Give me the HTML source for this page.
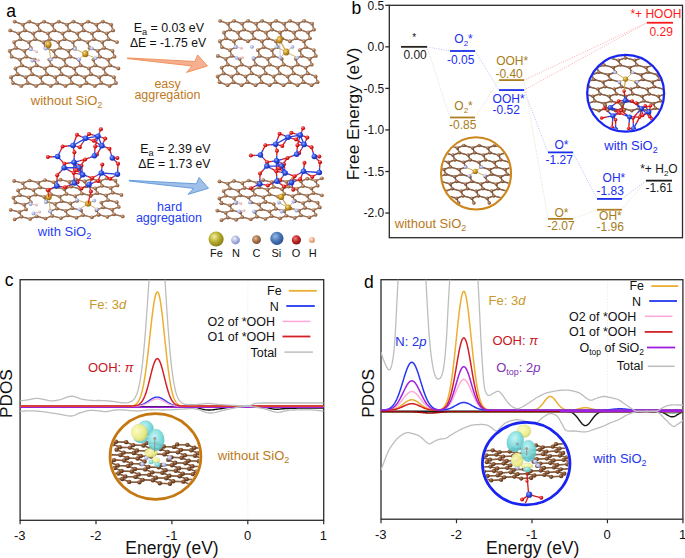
<!DOCTYPE html>
<html><head><meta charset="utf-8"><title>figure</title>
<style>
html,body{margin:0;padding:0;background:#fff;}
body{width:685px;height:558px;overflow:hidden;}
svg{display:block;font-family:"Liberation Sans", sans-serif;}
</style></head><body>
<svg width="685" height="558" viewBox="0 0 685 558">
<defs>
<radialGradient id="gC" cx="0.38" cy="0.35" r="0.7"><stop offset="0" stop-color="#e0bc9e"/><stop offset="0.5" stop-color="#a8744e"/><stop offset="1" stop-color="#70462a"/></radialGradient>
<radialGradient id="gN" cx="0.38" cy="0.35" r="0.7"><stop offset="0" stop-color="#eef0ff"/><stop offset="0.55" stop-color="#aab4e0"/><stop offset="1" stop-color="#7a86c0"/></radialGradient>
<radialGradient id="gFe" cx="0.38" cy="0.35" r="0.7"><stop offset="0" stop-color="#f6e090"/><stop offset="0.5" stop-color="#c8961e"/><stop offset="1" stop-color="#8a6010"/></radialGradient>
<radialGradient id="gFeL" cx="0.38" cy="0.35" r="0.7"><stop offset="0" stop-color="#f0f0a0"/><stop offset="0.5" stop-color="#b8ae30"/><stop offset="1" stop-color="#807810"/></radialGradient>
<radialGradient id="gSi" cx="0.38" cy="0.35" r="0.7"><stop offset="0" stop-color="#8aa8ff"/><stop offset="0.5" stop-color="#2a48e0"/><stop offset="1" stop-color="#1828a0"/></radialGradient>
<radialGradient id="gSiL" cx="0.38" cy="0.35" r="0.7"><stop offset="0" stop-color="#9ab8e8"/><stop offset="0.5" stop-color="#4a78b8"/><stop offset="1" stop-color="#2a4a88"/></radialGradient>
<radialGradient id="gO" cx="0.38" cy="0.35" r="0.7"><stop offset="0" stop-color="#ff9090"/><stop offset="0.5" stop-color="#e01818"/><stop offset="1" stop-color="#a00808"/></radialGradient>
<radialGradient id="gOL" cx="0.38" cy="0.35" r="0.7"><stop offset="0" stop-color="#f08080"/><stop offset="0.5" stop-color="#c02828"/><stop offset="1" stop-color="#801010"/></radialGradient>
<radialGradient id="gH" cx="0.38" cy="0.35" r="0.7"><stop offset="0" stop-color="#fff0e0"/><stop offset="0.5" stop-color="#f0b088"/><stop offset="1" stop-color="#d08860"/></radialGradient>
<radialGradient id="gHp" cx="0.38" cy="0.35" r="0.7"><stop offset="0" stop-color="#fff0f0"/><stop offset="0.5" stop-color="#e8b8c0"/><stop offset="1" stop-color="#c89098"/></radialGradient>
<linearGradient id="arO" x1="0" y1="0" x2="1" y2="0"><stop offset="0" stop-color="#f39a70"/><stop offset="1" stop-color="#f2a47c"/></linearGradient>
<linearGradient id="arB" x1="0" y1="0" x2="1" y2="0"><stop offset="0" stop-color="#5a9ae0"/><stop offset="1" stop-color="#86b6e6"/></linearGradient>
</defs>
<rect width="685" height="558" fill="#fff"/>

<text x="6.2" y="16.6" font-size="17.5" fill="#000" text-anchor="start">a</text>
<path d="M98.37 30.38L106.7 33.3M45.42 47.92L53.74 50.85M44.88 68.4L46.83 74.25M53.74 50.85L60.12 47.92M81.72 24.53L83.67 30.38M52.32 24.53L54.27 30.38M110.06 65.47L118.38 68.4M93.41 59.62L99.79 56.7M67.02 24.53L73.4 21.6M28.77 42.08L30.72 47.92M36.56 65.47L44.88 68.4M19.91 59.62L21.86 65.47M58.7 21.6L67.02 24.53M29.3 21.6L37.62 24.53M92 33.3L93.94 39.15M62.6 33.3L64.54 39.15M74.28 68.4L76.23 74.25M13 83.02L21.33 85.95M11.06 77.17L17.43 74.25M54.27 30.38L62.6 33.3M86.5 83.02L94.83 85.95M108.11 59.62L114.49 56.7M97.84 50.85L104.22 47.92M80.13 85.95L86.5 83.02M69.86 77.17L71.8 83.02M78.71 59.62L80.66 65.47M68.44 50.85L74.82 47.92M55.69 56.7L64.01 59.62M52.32 24.53L58.7 21.6M20.44 39.15L28.77 42.08M9.64 50.85L16.02 47.92M30.18 68.4L32.13 74.25M99.79 56.7L108.11 59.62M112.54 50.85L114.49 56.7M51.26 65.47L59.58 68.4M111.12 24.53L113.07 30.38M58.17 42.08L64.54 39.15M96.42 24.53L102.8 21.6M69.86 77.17L76.23 74.25M70.39 56.7L78.71 59.62M21.86 65.47L30.18 68.4M99.26 77.17L101.2 83.02M102.27 42.08L108.64 39.15M68.97 30.38L77.3 33.3M9.64 50.85L11.59 56.7M109.53 85.95L115.9 83.02M36.03 85.95L42.4 83.02M84.56 77.17L90.93 74.25M81.72 24.53L88.1 21.6M34.61 59.62L36.56 65.47M90.93 74.25L99.26 77.17M19.91 59.62L26.29 56.7M37.62 24.53L39.57 30.38M26.29 56.7L34.61 59.62M106.7 33.3L113.07 30.38M58.17 42.08L60.12 47.92M101.2 83.02L109.53 85.95M77.3 33.3L83.67 30.38M14.6 21.6L22.92 24.53M55.16 77.17L57.1 83.02M24.87 30.38L33.2 33.3M40.46 77.17L46.83 74.25M15.48 68.4L17.43 74.25M87.57 42.08L89.52 47.92M96.42 24.53L98.37 30.38M59.58 68.4L61.53 74.25M88.98 68.4L95.36 65.47M39.57 30.38L47.9 33.3M108.11 59.62L110.06 65.47M18.5 33.3L20.44 39.15M87.57 42.08L93.94 39.15M60.12 47.92L68.44 50.85M46.83 74.25L55.16 77.17M44.88 68.4L51.26 65.47M24.34 50.85L30.72 47.92M43.47 42.08L45.42 47.92M71.8 83.02L80.13 85.95M83.67 30.38L92 33.3M11.59 56.7L19.91 59.62M104.22 47.92L112.54 50.85M14.07 42.08L16.02 47.92M67.02 24.53L68.97 30.38M72.87 42.08L79.24 39.15M10.17 30.38L18.5 33.3M59.58 68.4L65.96 65.47M47.9 33.3L49.84 39.15M103.68 68.4L110.06 65.47M55.16 77.17L61.53 74.25M64.01 59.62L65.96 65.47M74.28 68.4L80.66 65.47M25.76 77.17L27.7 83.02M108.64 39.15L116.97 42.08M79.24 39.15L87.57 42.08M88.98 68.4L90.93 74.25M99.26 77.17L105.63 74.25M35.14 39.15L43.47 42.08M94.83 85.95L101.2 83.02M42.4 83.02L50.73 85.95M25.76 77.17L32.13 74.25M93.41 59.62L95.36 65.47M28.77 42.08L35.14 39.15M97.84 50.85L99.79 56.7M47.9 33.3L54.27 30.38M43.47 42.08L49.84 39.15M68.44 50.85L70.39 56.7M30.18 68.4L36.56 65.47M24.34 50.85L26.29 56.7M17.43 74.25L25.76 77.17M102.8 21.6L111.12 24.53M57.1 83.02L65.43 85.95M22.92 24.53L29.3 21.6M44 21.6L52.32 24.53M72.87 42.08L74.82 47.92M37.62 24.53L44 21.6M33.2 33.3L39.57 30.38M89.52 47.92L97.84 50.85M64.01 59.62L70.39 56.7M102.27 42.08L104.22 47.92M50.73 85.95L57.1 83.02M15.48 68.4L21.86 65.47M49.31 59.62L51.26 65.47M84.56 77.17L86.5 83.02M65.43 85.95L71.8 83.02M61.53 74.25L69.86 77.17M105.63 74.25L113.96 77.17M93.94 39.15L102.27 42.08M76.23 74.25L84.56 77.17M27.7 83.02L36.03 85.95M64.54 39.15L72.87 42.08M16.02 47.92L24.34 50.85M11.06 77.17L13 83.02M73.4 21.6L81.72 24.53M106.7 33.3L108.64 39.15M92 33.3L98.37 30.38M21.33 85.95L27.7 83.02M113.96 77.17L115.9 83.02M22.92 24.53L24.87 30.38M77.3 33.3L79.24 39.15M62.6 33.3L68.97 30.38M14.07 42.08L20.44 39.15M53.74 50.85L55.69 56.7M40.46 77.17L42.4 83.02M65.96 65.47L74.28 68.4M88.1 21.6L96.42 24.53M49.84 39.15L58.17 42.08M80.66 65.47L88.98 68.4M103.68 68.4L105.63 74.25M32.13 74.25L40.46 77.17M33.2 33.3L35.14 39.15M18.5 33.3L24.87 30.38M49.31 59.62L55.69 56.7M95.36 65.47L103.68 68.4" stroke="#86604a" stroke-width="1.4" fill="none" stroke-linecap="round"/>
<path d="M98.37 30.38L106.7 33.3M45.42 47.92L53.74 50.85M44.88 68.4L46.83 74.25M53.74 50.85L60.12 47.92M81.72 24.53L83.67 30.38M52.32 24.53L54.27 30.38M110.06 65.47L118.38 68.4M93.41 59.62L99.79 56.7M67.02 24.53L73.4 21.6M28.77 42.08L30.72 47.92M36.56 65.47L44.88 68.4M19.91 59.62L21.86 65.47M58.7 21.6L67.02 24.53M29.3 21.6L37.62 24.53M92 33.3L93.94 39.15M62.6 33.3L64.54 39.15M74.28 68.4L76.23 74.25M13 83.02L21.33 85.95M11.06 77.17L17.43 74.25M54.27 30.38L62.6 33.3M86.5 83.02L94.83 85.95M108.11 59.62L114.49 56.7M97.84 50.85L104.22 47.92M80.13 85.95L86.5 83.02M69.86 77.17L71.8 83.02M78.71 59.62L80.66 65.47M68.44 50.85L74.82 47.92M55.69 56.7L64.01 59.62M52.32 24.53L58.7 21.6M20.44 39.15L28.77 42.08M9.64 50.85L16.02 47.92M30.18 68.4L32.13 74.25M99.79 56.7L108.11 59.62M112.54 50.85L114.49 56.7M51.26 65.47L59.58 68.4M111.12 24.53L113.07 30.38M58.17 42.08L64.54 39.15M96.42 24.53L102.8 21.6M69.86 77.17L76.23 74.25M70.39 56.7L78.71 59.62M21.86 65.47L30.18 68.4M99.26 77.17L101.2 83.02M102.27 42.08L108.64 39.15M68.97 30.38L77.3 33.3M9.64 50.85L11.59 56.7M109.53 85.95L115.9 83.02M36.03 85.95L42.4 83.02M84.56 77.17L90.93 74.25M81.72 24.53L88.1 21.6M34.61 59.62L36.56 65.47M90.93 74.25L99.26 77.17M19.91 59.62L26.29 56.7M37.62 24.53L39.57 30.38M26.29 56.7L34.61 59.62M106.7 33.3L113.07 30.38M58.17 42.08L60.12 47.92M101.2 83.02L109.53 85.95M77.3 33.3L83.67 30.38M14.6 21.6L22.92 24.53M55.16 77.17L57.1 83.02M24.87 30.38L33.2 33.3M40.46 77.17L46.83 74.25M15.48 68.4L17.43 74.25M87.57 42.08L89.52 47.92M96.42 24.53L98.37 30.38M59.58 68.4L61.53 74.25M88.98 68.4L95.36 65.47M39.57 30.38L47.9 33.3M108.11 59.62L110.06 65.47M18.5 33.3L20.44 39.15M87.57 42.08L93.94 39.15M60.12 47.92L68.44 50.85M46.83 74.25L55.16 77.17M44.88 68.4L51.26 65.47M24.34 50.85L30.72 47.92M43.47 42.08L45.42 47.92M71.8 83.02L80.13 85.95M83.67 30.38L92 33.3M11.59 56.7L19.91 59.62M104.22 47.92L112.54 50.85M14.07 42.08L16.02 47.92M67.02 24.53L68.97 30.38M72.87 42.08L79.24 39.15M10.17 30.38L18.5 33.3M59.58 68.4L65.96 65.47M47.9 33.3L49.84 39.15M103.68 68.4L110.06 65.47M55.16 77.17L61.53 74.25M64.01 59.62L65.96 65.47M74.28 68.4L80.66 65.47M25.76 77.17L27.7 83.02M108.64 39.15L116.97 42.08M79.24 39.15L87.57 42.08M88.98 68.4L90.93 74.25M99.26 77.17L105.63 74.25M35.14 39.15L43.47 42.08M94.83 85.95L101.2 83.02M42.4 83.02L50.73 85.95M25.76 77.17L32.13 74.25M93.41 59.62L95.36 65.47M28.77 42.08L35.14 39.15M97.84 50.85L99.79 56.7M47.9 33.3L54.27 30.38M43.47 42.08L49.84 39.15M68.44 50.85L70.39 56.7M30.18 68.4L36.56 65.47M24.34 50.85L26.29 56.7M17.43 74.25L25.76 77.17M102.8 21.6L111.12 24.53M57.1 83.02L65.43 85.95M22.92 24.53L29.3 21.6M44 21.6L52.32 24.53M72.87 42.08L74.82 47.92M37.62 24.53L44 21.6M33.2 33.3L39.57 30.38M89.52 47.92L97.84 50.85M64.01 59.62L70.39 56.7M102.27 42.08L104.22 47.92M50.73 85.95L57.1 83.02M15.48 68.4L21.86 65.47M49.31 59.62L51.26 65.47M84.56 77.17L86.5 83.02M65.43 85.95L71.8 83.02M61.53 74.25L69.86 77.17M105.63 74.25L113.96 77.17M93.94 39.15L102.27 42.08M76.23 74.25L84.56 77.17M27.7 83.02L36.03 85.95M64.54 39.15L72.87 42.08M16.02 47.92L24.34 50.85M11.06 77.17L13 83.02M73.4 21.6L81.72 24.53M106.7 33.3L108.64 39.15M92 33.3L98.37 30.38M21.33 85.95L27.7 83.02M113.96 77.17L115.9 83.02M22.92 24.53L24.87 30.38M77.3 33.3L79.24 39.15M62.6 33.3L68.97 30.38M14.07 42.08L20.44 39.15M53.74 50.85L55.69 56.7M40.46 77.17L42.4 83.02M65.96 65.47L74.28 68.4M88.1 21.6L96.42 24.53M49.84 39.15L58.17 42.08M80.66 65.47L88.98 68.4M103.68 68.4L105.63 74.25M32.13 74.25L40.46 77.17M33.2 33.3L35.14 39.15M18.5 33.3L24.87 30.38M49.31 59.62L55.69 56.7M95.36 65.47L103.68 68.4" stroke="#a88266" stroke-width="0.65" fill="none" stroke-linecap="round"/>
<g fill="url(#gC)"><circle cx="14.6" cy="21.6" r="1.9"/><circle cx="29.3" cy="21.6" r="1.9"/><circle cx="44" cy="21.6" r="1.9"/><circle cx="58.7" cy="21.6" r="1.9"/><circle cx="73.4" cy="21.6" r="1.9"/><circle cx="88.1" cy="21.6" r="1.9"/><circle cx="102.8" cy="21.6" r="1.9"/><circle cx="22.92" cy="24.53" r="1.9"/><circle cx="37.62" cy="24.53" r="1.9"/><circle cx="52.32" cy="24.53" r="1.9"/><circle cx="67.02" cy="24.53" r="1.9"/><circle cx="81.72" cy="24.53" r="1.9"/><circle cx="96.42" cy="24.53" r="1.9"/><circle cx="111.12" cy="24.53" r="1.9"/><circle cx="10.17" cy="30.38" r="1.9"/><circle cx="24.87" cy="30.38" r="1.9"/><circle cx="39.57" cy="30.38" r="1.9"/><circle cx="54.27" cy="30.38" r="1.9"/><circle cx="68.97" cy="30.38" r="1.9"/><circle cx="83.67" cy="30.38" r="1.9"/><circle cx="98.37" cy="30.38" r="1.9"/><circle cx="113.07" cy="30.38" r="1.9"/><circle cx="18.5" cy="33.3" r="1.9"/><circle cx="33.2" cy="33.3" r="1.9"/><circle cx="47.9" cy="33.3" r="1.9"/><circle cx="62.6" cy="33.3" r="1.9"/><circle cx="77.3" cy="33.3" r="1.9"/><circle cx="92" cy="33.3" r="1.9"/><circle cx="106.7" cy="33.3" r="1.9"/><circle cx="20.44" cy="39.15" r="1.9"/><circle cx="35.14" cy="39.15" r="1.9"/><circle cx="49.84" cy="39.15" r="1.9"/><circle cx="64.54" cy="39.15" r="1.9"/><circle cx="79.24" cy="39.15" r="1.9"/><circle cx="93.94" cy="39.15" r="1.9"/><circle cx="108.64" cy="39.15" r="1.9"/><circle cx="14.07" cy="42.08" r="1.9"/><circle cx="28.77" cy="42.08" r="1.9"/><circle cx="43.47" cy="42.08" r="1.9"/><circle cx="58.17" cy="42.08" r="1.9"/><circle cx="72.87" cy="42.08" r="1.9"/><circle cx="87.57" cy="42.08" r="1.9"/><circle cx="102.27" cy="42.08" r="1.9"/><circle cx="116.97" cy="42.08" r="1.9"/><circle cx="16.02" cy="47.92" r="1.9"/><circle cx="30.72" cy="47.92" r="1.9"/><circle cx="45.42" cy="47.92" r="1.9"/><circle cx="60.12" cy="47.92" r="1.9"/><circle cx="74.82" cy="47.92" r="1.9"/><circle cx="89.52" cy="47.92" r="1.9"/><circle cx="104.22" cy="47.92" r="1.9"/><circle cx="9.64" cy="50.85" r="1.9"/><circle cx="24.34" cy="50.85" r="1.9"/><circle cx="53.74" cy="50.85" r="1.9"/><circle cx="68.44" cy="50.85" r="1.9"/><circle cx="97.84" cy="50.85" r="1.9"/><circle cx="112.54" cy="50.85" r="1.9"/><circle cx="11.59" cy="56.7" r="1.9"/><circle cx="26.29" cy="56.7" r="1.9"/><circle cx="55.69" cy="56.7" r="1.9"/><circle cx="70.39" cy="56.7" r="1.9"/><circle cx="99.79" cy="56.7" r="1.9"/><circle cx="114.49" cy="56.7" r="1.9"/><circle cx="19.91" cy="59.62" r="1.9"/><circle cx="34.61" cy="59.62" r="1.9"/><circle cx="49.31" cy="59.62" r="1.9"/><circle cx="64.01" cy="59.62" r="1.9"/><circle cx="78.71" cy="59.62" r="1.9"/><circle cx="93.41" cy="59.62" r="1.9"/><circle cx="108.11" cy="59.62" r="1.9"/><circle cx="21.86" cy="65.47" r="1.9"/><circle cx="36.56" cy="65.47" r="1.9"/><circle cx="51.26" cy="65.47" r="1.9"/><circle cx="65.96" cy="65.47" r="1.9"/><circle cx="80.66" cy="65.47" r="1.9"/><circle cx="95.36" cy="65.47" r="1.9"/><circle cx="110.06" cy="65.47" r="1.9"/><circle cx="15.48" cy="68.4" r="1.9"/><circle cx="30.18" cy="68.4" r="1.9"/><circle cx="44.88" cy="68.4" r="1.9"/><circle cx="59.58" cy="68.4" r="1.9"/><circle cx="74.28" cy="68.4" r="1.9"/><circle cx="88.98" cy="68.4" r="1.9"/><circle cx="103.68" cy="68.4" r="1.9"/><circle cx="118.38" cy="68.4" r="1.9"/><circle cx="17.43" cy="74.25" r="1.9"/><circle cx="32.13" cy="74.25" r="1.9"/><circle cx="46.83" cy="74.25" r="1.9"/><circle cx="61.53" cy="74.25" r="1.9"/><circle cx="76.23" cy="74.25" r="1.9"/><circle cx="90.93" cy="74.25" r="1.9"/><circle cx="105.63" cy="74.25" r="1.9"/><circle cx="11.06" cy="77.17" r="1.9"/><circle cx="25.76" cy="77.17" r="1.9"/><circle cx="40.46" cy="77.17" r="1.9"/><circle cx="55.16" cy="77.17" r="1.9"/><circle cx="69.86" cy="77.17" r="1.9"/><circle cx="84.56" cy="77.17" r="1.9"/><circle cx="99.26" cy="77.17" r="1.9"/><circle cx="113.96" cy="77.17" r="1.9"/><circle cx="13" cy="83.02" r="1.9"/><circle cx="27.7" cy="83.02" r="1.9"/><circle cx="42.4" cy="83.02" r="1.9"/><circle cx="57.1" cy="83.02" r="1.9"/><circle cx="71.8" cy="83.02" r="1.9"/><circle cx="86.5" cy="83.02" r="1.9"/><circle cx="101.2" cy="83.02" r="1.9"/><circle cx="115.9" cy="83.02" r="1.9"/><circle cx="21.33" cy="85.95" r="1.9"/><circle cx="36.03" cy="85.95" r="1.9"/><circle cx="50.73" cy="85.95" r="1.9"/><circle cx="65.43" cy="85.95" r="1.9"/><circle cx="80.13" cy="85.95" r="1.9"/><circle cx="94.83" cy="85.95" r="1.9"/><circle cx="109.53" cy="85.95" r="1.9"/></g>
<path d="M266 32.5L272.02 29.57M295.94 38.35L303.92 41.27M225.94 38.35L233.92 41.27M239.94 38.35L247.92 41.27M231.61 76.38L237.63 73.45M290.1 20.8L298.07 23.72M252 32.5L258.02 29.57M301.61 76.38L303.55 82.22M261.92 41.27L267.94 38.35M284.07 23.72L286.02 29.57M275.92 41.27L277.87 47.12M305.68 67.6L307.63 73.45M275.55 82.22L283.53 85.15M233.92 41.27L235.87 47.12M253.76 58.82L255.71 64.67M311.53 85.15L317.55 82.22M257.84 50.05L259.79 55.9M304.1 20.8L312.07 23.72M265.63 73.45L273.61 76.38M237.63 73.45L245.61 76.38M313.84 50.05L315.79 55.9M220.1 20.8L228.07 23.72M224 32.5L230.02 29.57M309.76 58.82L315.79 55.9M280 32.5L281.94 38.35M241.53 85.15L247.55 82.22M228.07 23.72L230.02 29.57M283.71 64.67L291.68 67.6M298.07 23.72L304.1 20.8M286.02 29.57L294 32.5M235.68 67.6L237.63 73.45M221.87 47.12L229.84 50.05M255.53 85.15L261.55 82.22M294 32.5L295.94 38.35M300.02 29.57L308 32.5M291.68 67.6L293.63 73.45M238 32.5L244.02 29.57M267.94 38.35L275.92 41.27M284.07 23.72L290.1 20.8M291.68 67.6L297.71 64.67M219.92 41.27L221.87 47.12M262.1 20.8L270.07 23.72M301.79 55.9L309.76 58.82M241.71 64.67L249.68 67.6M217.79 55.9L225.76 58.82M280 32.5L286.02 29.57M255.71 64.67L263.68 67.6M253.94 38.35L261.92 41.27M283.53 85.15L289.55 82.22M272.02 29.57L280 32.5M301.61 76.38L307.63 73.45M225.76 58.82L227.71 64.67M263.87 47.12L271.84 50.05M308 32.5L314.02 29.57M299.84 50.05L305.87 47.12M219.92 41.27L225.94 38.35M219.55 82.22L227.53 85.15M253.76 58.82L259.79 55.9M315.61 76.38L317.55 82.22M271.84 50.05L273.79 55.9M229.84 50.05L235.87 47.12M267.76 58.82L269.71 64.67M242.07 23.72L244.02 29.57M234.1 20.8L242.07 23.72M225.76 58.82L231.79 55.9M270.07 23.72L276.1 20.8M269.53 85.15L275.55 82.22M249.68 67.6L251.63 73.45M289.55 82.22L297.53 85.15M224 32.5L225.94 38.35M303.55 82.22L311.53 85.15M289.92 41.27L295.94 38.35M273.79 55.9L281.76 58.82M269.71 64.67L277.68 67.6M303.92 41.27L305.87 47.12M293.63 73.45L301.61 76.38M230.02 29.57L238 32.5M276.1 20.8L284.07 23.72M281.76 58.82L283.71 64.67M217.61 76.38L223.63 73.45M287.61 76.38L293.63 73.45M312.07 23.72L314.02 29.57M252 32.5L253.94 38.35M231.79 55.9L239.76 58.82M267.76 58.82L273.79 55.9M242.07 23.72L248.1 20.8M256.07 23.72L258.02 29.57M303.92 41.27L309.94 38.35M305.68 67.6L311.71 64.67M238 32.5L239.94 38.35M263.68 67.6L265.63 73.45M221.68 67.6L227.71 64.67M308 32.5L309.94 38.35M245.61 76.38L251.63 73.45M239.76 58.82L241.71 64.67M271.84 50.05L277.87 47.12M257.84 50.05L263.87 47.12M248.1 20.8L256.07 23.72M227.71 64.67L235.68 67.6M295.76 58.82L301.79 55.9M273.61 76.38L275.55 82.22M259.61 76.38L261.55 82.22M229.84 50.05L231.79 55.9M277.68 67.6L283.71 64.67M295.76 58.82L297.71 64.67M258.02 29.57L266 32.5M294 32.5L300.02 29.57M281.94 38.35L289.92 41.27M275.92 41.27L281.94 38.35M287.61 76.38L289.55 82.22M247.92 41.27L253.94 38.35M309.76 58.82L311.71 64.67M270.07 23.72L272.02 29.57M261.55 82.22L269.53 85.15M228.07 23.72L234.1 20.8M217.61 76.38L219.55 82.22M227.53 85.15L233.55 82.22M261.92 41.27L263.87 47.12M233.92 41.27L239.94 38.35M256.07 23.72L262.1 20.8M299.84 50.05L301.79 55.9M305.87 47.12L313.84 50.05M244.02 29.57L252 32.5M266 32.5L267.94 38.35M273.61 76.38L279.63 73.45M223.63 73.45L231.61 76.38M259.61 76.38L265.63 73.45M297.53 85.15L303.55 82.22M307.63 73.45L315.61 76.38M251.63 73.45L259.61 76.38M277.68 67.6L279.63 73.45M235.68 67.6L241.71 64.67M259.79 55.9L267.76 58.82M279.63 73.45L287.61 76.38M263.68 67.6L269.71 64.67M245.61 76.38L247.55 82.22M221.68 67.6L223.63 73.45M298.07 23.72L300.02 29.57M231.61 76.38L233.55 82.22M247.55 82.22L255.53 85.15M249.68 67.6L255.71 64.67M233.55 82.22L241.53 85.15M297.71 64.67L305.68 67.6" stroke="#86604a" stroke-width="1.4" fill="none" stroke-linecap="round"/>
<path d="M266 32.5L272.02 29.57M295.94 38.35L303.92 41.27M225.94 38.35L233.92 41.27M239.94 38.35L247.92 41.27M231.61 76.38L237.63 73.45M290.1 20.8L298.07 23.72M252 32.5L258.02 29.57M301.61 76.38L303.55 82.22M261.92 41.27L267.94 38.35M284.07 23.72L286.02 29.57M275.92 41.27L277.87 47.12M305.68 67.6L307.63 73.45M275.55 82.22L283.53 85.15M233.92 41.27L235.87 47.12M253.76 58.82L255.71 64.67M311.53 85.15L317.55 82.22M257.84 50.05L259.79 55.9M304.1 20.8L312.07 23.72M265.63 73.45L273.61 76.38M237.63 73.45L245.61 76.38M313.84 50.05L315.79 55.9M220.1 20.8L228.07 23.72M224 32.5L230.02 29.57M309.76 58.82L315.79 55.9M280 32.5L281.94 38.35M241.53 85.15L247.55 82.22M228.07 23.72L230.02 29.57M283.71 64.67L291.68 67.6M298.07 23.72L304.1 20.8M286.02 29.57L294 32.5M235.68 67.6L237.63 73.45M221.87 47.12L229.84 50.05M255.53 85.15L261.55 82.22M294 32.5L295.94 38.35M300.02 29.57L308 32.5M291.68 67.6L293.63 73.45M238 32.5L244.02 29.57M267.94 38.35L275.92 41.27M284.07 23.72L290.1 20.8M291.68 67.6L297.71 64.67M219.92 41.27L221.87 47.12M262.1 20.8L270.07 23.72M301.79 55.9L309.76 58.82M241.71 64.67L249.68 67.6M217.79 55.9L225.76 58.82M280 32.5L286.02 29.57M255.71 64.67L263.68 67.6M253.94 38.35L261.92 41.27M283.53 85.15L289.55 82.22M272.02 29.57L280 32.5M301.61 76.38L307.63 73.45M225.76 58.82L227.71 64.67M263.87 47.12L271.84 50.05M308 32.5L314.02 29.57M299.84 50.05L305.87 47.12M219.92 41.27L225.94 38.35M219.55 82.22L227.53 85.15M253.76 58.82L259.79 55.9M315.61 76.38L317.55 82.22M271.84 50.05L273.79 55.9M229.84 50.05L235.87 47.12M267.76 58.82L269.71 64.67M242.07 23.72L244.02 29.57M234.1 20.8L242.07 23.72M225.76 58.82L231.79 55.9M270.07 23.72L276.1 20.8M269.53 85.15L275.55 82.22M249.68 67.6L251.63 73.45M289.55 82.22L297.53 85.15M224 32.5L225.94 38.35M303.55 82.22L311.53 85.15M289.92 41.27L295.94 38.35M273.79 55.9L281.76 58.82M269.71 64.67L277.68 67.6M303.92 41.27L305.87 47.12M293.63 73.45L301.61 76.38M230.02 29.57L238 32.5M276.1 20.8L284.07 23.72M281.76 58.82L283.71 64.67M217.61 76.38L223.63 73.45M287.61 76.38L293.63 73.45M312.07 23.72L314.02 29.57M252 32.5L253.94 38.35M231.79 55.9L239.76 58.82M267.76 58.82L273.79 55.9M242.07 23.72L248.1 20.8M256.07 23.72L258.02 29.57M303.92 41.27L309.94 38.35M305.68 67.6L311.71 64.67M238 32.5L239.94 38.35M263.68 67.6L265.63 73.45M221.68 67.6L227.71 64.67M308 32.5L309.94 38.35M245.61 76.38L251.63 73.45M239.76 58.82L241.71 64.67M271.84 50.05L277.87 47.12M257.84 50.05L263.87 47.12M248.1 20.8L256.07 23.72M227.71 64.67L235.68 67.6M295.76 58.82L301.79 55.9M273.61 76.38L275.55 82.22M259.61 76.38L261.55 82.22M229.84 50.05L231.79 55.9M277.68 67.6L283.71 64.67M295.76 58.82L297.71 64.67M258.02 29.57L266 32.5M294 32.5L300.02 29.57M281.94 38.35L289.92 41.27M275.92 41.27L281.94 38.35M287.61 76.38L289.55 82.22M247.92 41.27L253.94 38.35M309.76 58.82L311.71 64.67M270.07 23.72L272.02 29.57M261.55 82.22L269.53 85.15M228.07 23.72L234.1 20.8M217.61 76.38L219.55 82.22M227.53 85.15L233.55 82.22M261.92 41.27L263.87 47.12M233.92 41.27L239.94 38.35M256.07 23.72L262.1 20.8M299.84 50.05L301.79 55.9M305.87 47.12L313.84 50.05M244.02 29.57L252 32.5M266 32.5L267.94 38.35M273.61 76.38L279.63 73.45M223.63 73.45L231.61 76.38M259.61 76.38L265.63 73.45M297.53 85.15L303.55 82.22M307.63 73.45L315.61 76.38M251.63 73.45L259.61 76.38M277.68 67.6L279.63 73.45M235.68 67.6L241.71 64.67M259.79 55.9L267.76 58.82M279.63 73.45L287.61 76.38M263.68 67.6L269.71 64.67M245.61 76.38L247.55 82.22M221.68 67.6L223.63 73.45M298.07 23.72L300.02 29.57M231.61 76.38L233.55 82.22M247.55 82.22L255.53 85.15M249.68 67.6L255.71 64.67M233.55 82.22L241.53 85.15M297.71 64.67L305.68 67.6" stroke="#a88266" stroke-width="0.65" fill="none" stroke-linecap="round"/>
<g fill="url(#gC)"><circle cx="220.1" cy="20.8" r="1.9"/><circle cx="234.1" cy="20.8" r="1.9"/><circle cx="248.1" cy="20.8" r="1.9"/><circle cx="262.1" cy="20.8" r="1.9"/><circle cx="276.1" cy="20.8" r="1.9"/><circle cx="290.1" cy="20.8" r="1.9"/><circle cx="304.1" cy="20.8" r="1.9"/><circle cx="228.07" cy="23.72" r="1.9"/><circle cx="242.07" cy="23.72" r="1.9"/><circle cx="256.07" cy="23.72" r="1.9"/><circle cx="270.07" cy="23.72" r="1.9"/><circle cx="284.07" cy="23.72" r="1.9"/><circle cx="298.07" cy="23.72" r="1.9"/><circle cx="312.07" cy="23.72" r="1.9"/><circle cx="230.02" cy="29.57" r="1.9"/><circle cx="244.02" cy="29.57" r="1.9"/><circle cx="258.02" cy="29.57" r="1.9"/><circle cx="272.02" cy="29.57" r="1.9"/><circle cx="286.02" cy="29.57" r="1.9"/><circle cx="300.02" cy="29.57" r="1.9"/><circle cx="314.02" cy="29.57" r="1.9"/><circle cx="224" cy="32.5" r="1.9"/><circle cx="238" cy="32.5" r="1.9"/><circle cx="252" cy="32.5" r="1.9"/><circle cx="266" cy="32.5" r="1.9"/><circle cx="280" cy="32.5" r="1.9"/><circle cx="294" cy="32.5" r="1.9"/><circle cx="308" cy="32.5" r="1.9"/><circle cx="225.94" cy="38.35" r="1.9"/><circle cx="239.94" cy="38.35" r="1.9"/><circle cx="253.94" cy="38.35" r="1.9"/><circle cx="267.94" cy="38.35" r="1.9"/><circle cx="281.94" cy="38.35" r="1.9"/><circle cx="295.94" cy="38.35" r="1.9"/><circle cx="309.94" cy="38.35" r="1.9"/><circle cx="219.92" cy="41.27" r="1.9"/><circle cx="233.92" cy="41.27" r="1.9"/><circle cx="247.92" cy="41.27" r="1.9"/><circle cx="261.92" cy="41.27" r="1.9"/><circle cx="275.92" cy="41.27" r="1.9"/><circle cx="289.92" cy="41.27" r="1.9"/><circle cx="303.92" cy="41.27" r="1.9"/><circle cx="221.87" cy="47.12" r="1.9"/><circle cx="235.87" cy="47.12" r="1.9"/><circle cx="263.87" cy="47.12" r="1.9"/><circle cx="277.87" cy="47.12" r="1.9"/><circle cx="305.87" cy="47.12" r="1.9"/><circle cx="229.84" cy="50.05" r="1.9"/><circle cx="257.84" cy="50.05" r="1.9"/><circle cx="271.84" cy="50.05" r="1.9"/><circle cx="299.84" cy="50.05" r="1.9"/><circle cx="313.84" cy="50.05" r="1.9"/><circle cx="217.79" cy="55.9" r="1.9"/><circle cx="231.79" cy="55.9" r="1.9"/><circle cx="259.79" cy="55.9" r="1.9"/><circle cx="273.79" cy="55.9" r="1.9"/><circle cx="301.79" cy="55.9" r="1.9"/><circle cx="315.79" cy="55.9" r="1.9"/><circle cx="225.76" cy="58.82" r="1.9"/><circle cx="239.76" cy="58.82" r="1.9"/><circle cx="253.76" cy="58.82" r="1.9"/><circle cx="267.76" cy="58.82" r="1.9"/><circle cx="281.76" cy="58.82" r="1.9"/><circle cx="295.76" cy="58.82" r="1.9"/><circle cx="309.76" cy="58.82" r="1.9"/><circle cx="227.71" cy="64.67" r="1.9"/><circle cx="241.71" cy="64.67" r="1.9"/><circle cx="255.71" cy="64.67" r="1.9"/><circle cx="269.71" cy="64.67" r="1.9"/><circle cx="283.71" cy="64.67" r="1.9"/><circle cx="297.71" cy="64.67" r="1.9"/><circle cx="311.71" cy="64.67" r="1.9"/><circle cx="221.68" cy="67.6" r="1.9"/><circle cx="235.68" cy="67.6" r="1.9"/><circle cx="249.68" cy="67.6" r="1.9"/><circle cx="263.68" cy="67.6" r="1.9"/><circle cx="277.68" cy="67.6" r="1.9"/><circle cx="291.68" cy="67.6" r="1.9"/><circle cx="305.68" cy="67.6" r="1.9"/><circle cx="223.63" cy="73.45" r="1.9"/><circle cx="237.63" cy="73.45" r="1.9"/><circle cx="251.63" cy="73.45" r="1.9"/><circle cx="265.63" cy="73.45" r="1.9"/><circle cx="279.63" cy="73.45" r="1.9"/><circle cx="293.63" cy="73.45" r="1.9"/><circle cx="307.63" cy="73.45" r="1.9"/><circle cx="217.61" cy="76.38" r="1.9"/><circle cx="231.61" cy="76.38" r="1.9"/><circle cx="245.61" cy="76.38" r="1.9"/><circle cx="259.61" cy="76.38" r="1.9"/><circle cx="273.61" cy="76.38" r="1.9"/><circle cx="287.61" cy="76.38" r="1.9"/><circle cx="301.61" cy="76.38" r="1.9"/><circle cx="315.61" cy="76.38" r="1.9"/><circle cx="219.55" cy="82.22" r="1.9"/><circle cx="233.55" cy="82.22" r="1.9"/><circle cx="247.55" cy="82.22" r="1.9"/><circle cx="261.55" cy="82.22" r="1.9"/><circle cx="275.55" cy="82.22" r="1.9"/><circle cx="289.55" cy="82.22" r="1.9"/><circle cx="303.55" cy="82.22" r="1.9"/><circle cx="317.55" cy="82.22" r="1.9"/><circle cx="227.53" cy="85.15" r="1.9"/><circle cx="241.53" cy="85.15" r="1.9"/><circle cx="255.53" cy="85.15" r="1.9"/><circle cx="269.53" cy="85.15" r="1.9"/><circle cx="283.53" cy="85.15" r="1.9"/><circle cx="297.53" cy="85.15" r="1.9"/><circle cx="311.53" cy="85.15" r="1.9"/></g>
<path d="M98.58 214.7L107.3 216.87M24.82 187.82L33.54 189.99M110.76 187.97L117.49 185.4M15.36 202.47L24.09 204.65M44.26 196.92L50.98 194.34M103.31 207.37L112.03 209.55M106.77 178.47L115.49 180.65M112.03 209.55L114.02 214.3M100.04 181.05L102.04 185.8M84.6 181.45L86.6 186.2M13.37 197.72L20.09 195.15M66.43 193.93L75.15 196.11M64.43 189.19L71.15 186.61M75.15 196.11L81.87 193.53M110.76 187.97L112.76 192.72M100.04 181.05L106.77 178.47M48.98 189.59L55.71 187.01M33.54 189.99L40.26 187.42M14.1 180.9L22.82 183.07M84.6 181.45L86.6 186.2M18.09 190.4L20.09 195.15M84.6 181.45L91.32 178.88M29.54 180.5L38.27 182.67M59.7 196.51L61.7 201.26M71.15 186.61L79.87 188.78M101.31 202.62L103.31 207.37M46.25 201.67L54.97 203.84M55.71 187.01L64.43 189.19M33.54 189.99L35.54 194.74M50.25 211.16L52.24 215.91M13.37 197.72L15.36 202.47M106.04 195.3L112.76 192.72M72.42 208.18L81.14 210.36M86.6 186.2L95.32 188.38M22.82 183.07L29.54 180.5M81.87 193.53L90.59 195.7M91.85 217.28L98.58 214.7M75.15 196.11L77.14 200.86M116.75 202.22L118.75 206.97M70.42 203.43L77.14 200.86M90.59 195.7L97.31 193.13M48.98 189.59L50.98 194.34M98.58 214.7L107.3 216.87M52.24 215.91L60.97 218.09M24.09 204.65L30.81 202.07M65.69 210.76L72.42 208.18M14.63 219.3L21.36 216.72M91.32 178.88L100.04 181.05M81.14 210.36L83.13 215.1M56.97 208.59L65.69 210.76M114.02 214.3L122.74 216.47M10.64 209.8L19.36 211.97M86.6 186.2L95.32 188.38M101.31 202.62L108.03 200.05M21.36 216.72L30.08 218.89M50.25 211.16L56.97 208.59M96.58 209.95L103.31 207.37M106.04 195.3L108.03 200.05M115.49 180.65L117.49 185.4M69.15 181.86L75.88 179.28M20.09 195.15L28.81 197.32M112.76 192.72L121.48 194.89M64.43 189.19L66.43 193.93M35.54 194.74L44.26 196.92M19.36 211.97L26.08 209.4M38.27 182.67L40.26 187.42M107.3 216.87L114.02 214.3M24.09 204.65L26.08 209.4M53.71 182.26L60.43 179.69M79.87 188.78L86.6 186.2M90.59 195.7L97.31 193.13M44.99 180.09L53.71 182.26M54.97 203.84L61.7 201.26M30.08 218.89L36.8 216.32M69.15 181.86L71.15 186.61M96.58 209.95L98.58 214.7M22.82 183.07L24.82 187.82M95.32 188.38L97.31 193.13M36.8 216.32L45.52 218.49M40.26 187.42L48.98 189.59M61.7 201.26L70.42 203.43M70.42 203.43L72.42 208.18M102.04 185.8L110.76 187.97M44.26 196.92L46.25 201.67M45.52 218.49L52.24 215.91M112.03 209.55L118.75 206.97M65.69 210.76L67.69 215.51M96.58 209.95L98.58 214.7M75.88 179.28L84.6 181.45M96.58 209.95L103.31 207.37M50.98 194.34L59.7 196.51M60.43 179.69L69.15 181.86M76.41 217.68L83.13 215.1M19.36 211.97L21.36 216.72M38.27 182.67L44.99 180.09M83.13 215.1L91.85 217.28M28.81 197.32L35.54 194.74M84.6 181.45L91.32 178.88M59.7 196.51L66.43 193.93M60.97 218.09L67.69 215.51M79.87 188.78L81.87 193.53M18.09 190.4L24.82 187.82M54.97 203.84L56.97 208.59M97.31 193.13L106.04 195.3M53.71 182.26L55.71 187.01M67.69 215.51L76.41 217.68M28.81 197.32L30.81 202.07M108.03 200.05L116.75 202.22M95.32 188.38L102.04 185.8" stroke="#86604a" stroke-width="1.35" fill="none" stroke-linecap="round"/>
<path d="M98.58 214.7L107.3 216.87M24.82 187.82L33.54 189.99M110.76 187.97L117.49 185.4M15.36 202.47L24.09 204.65M44.26 196.92L50.98 194.34M103.31 207.37L112.03 209.55M106.77 178.47L115.49 180.65M112.03 209.55L114.02 214.3M100.04 181.05L102.04 185.8M84.6 181.45L86.6 186.2M13.37 197.72L20.09 195.15M66.43 193.93L75.15 196.11M64.43 189.19L71.15 186.61M75.15 196.11L81.87 193.53M110.76 187.97L112.76 192.72M100.04 181.05L106.77 178.47M48.98 189.59L55.71 187.01M33.54 189.99L40.26 187.42M14.1 180.9L22.82 183.07M84.6 181.45L86.6 186.2M18.09 190.4L20.09 195.15M84.6 181.45L91.32 178.88M29.54 180.5L38.27 182.67M59.7 196.51L61.7 201.26M71.15 186.61L79.87 188.78M101.31 202.62L103.31 207.37M46.25 201.67L54.97 203.84M55.71 187.01L64.43 189.19M33.54 189.99L35.54 194.74M50.25 211.16L52.24 215.91M13.37 197.72L15.36 202.47M106.04 195.3L112.76 192.72M72.42 208.18L81.14 210.36M86.6 186.2L95.32 188.38M22.82 183.07L29.54 180.5M81.87 193.53L90.59 195.7M91.85 217.28L98.58 214.7M75.15 196.11L77.14 200.86M116.75 202.22L118.75 206.97M70.42 203.43L77.14 200.86M90.59 195.7L97.31 193.13M48.98 189.59L50.98 194.34M98.58 214.7L107.3 216.87M52.24 215.91L60.97 218.09M24.09 204.65L30.81 202.07M65.69 210.76L72.42 208.18M14.63 219.3L21.36 216.72M91.32 178.88L100.04 181.05M81.14 210.36L83.13 215.1M56.97 208.59L65.69 210.76M114.02 214.3L122.74 216.47M10.64 209.8L19.36 211.97M86.6 186.2L95.32 188.38M101.31 202.62L108.03 200.05M21.36 216.72L30.08 218.89M50.25 211.16L56.97 208.59M96.58 209.95L103.31 207.37M106.04 195.3L108.03 200.05M115.49 180.65L117.49 185.4M69.15 181.86L75.88 179.28M20.09 195.15L28.81 197.32M112.76 192.72L121.48 194.89M64.43 189.19L66.43 193.93M35.54 194.74L44.26 196.92M19.36 211.97L26.08 209.4M38.27 182.67L40.26 187.42M107.3 216.87L114.02 214.3M24.09 204.65L26.08 209.4M53.71 182.26L60.43 179.69M79.87 188.78L86.6 186.2M90.59 195.7L97.31 193.13M44.99 180.09L53.71 182.26M54.97 203.84L61.7 201.26M30.08 218.89L36.8 216.32M69.15 181.86L71.15 186.61M96.58 209.95L98.58 214.7M22.82 183.07L24.82 187.82M95.32 188.38L97.31 193.13M36.8 216.32L45.52 218.49M40.26 187.42L48.98 189.59M61.7 201.26L70.42 203.43M70.42 203.43L72.42 208.18M102.04 185.8L110.76 187.97M44.26 196.92L46.25 201.67M45.52 218.49L52.24 215.91M112.03 209.55L118.75 206.97M65.69 210.76L67.69 215.51M96.58 209.95L98.58 214.7M75.88 179.28L84.6 181.45M96.58 209.95L103.31 207.37M50.98 194.34L59.7 196.51M60.43 179.69L69.15 181.86M76.41 217.68L83.13 215.1M19.36 211.97L21.36 216.72M38.27 182.67L44.99 180.09M83.13 215.1L91.85 217.28M28.81 197.32L35.54 194.74M84.6 181.45L91.32 178.88M59.7 196.51L66.43 193.93M60.97 218.09L67.69 215.51M79.87 188.78L81.87 193.53M18.09 190.4L24.82 187.82M54.97 203.84L56.97 208.59M97.31 193.13L106.04 195.3M53.71 182.26L55.71 187.01M67.69 215.51L76.41 217.68M28.81 197.32L30.81 202.07M108.03 200.05L116.75 202.22M95.32 188.38L102.04 185.8" stroke="#a88266" stroke-width="0.65" fill="none" stroke-linecap="round"/>
<g fill="url(#gC)"><circle cx="106.77" cy="178.47" r="1.85"/><circle cx="91.32" cy="178.88" r="1.85"/><circle cx="75.88" cy="179.28" r="1.85"/><circle cx="60.43" cy="179.69" r="1.85"/><circle cx="44.99" cy="180.09" r="1.85"/><circle cx="29.54" cy="180.5" r="1.85"/><circle cx="115.49" cy="180.65" r="1.85"/><circle cx="14.1" cy="180.9" r="1.85"/><circle cx="100.04" cy="181.05" r="1.85"/><circle cx="84.6" cy="181.45" r="1.85"/><circle cx="84.6" cy="181.45" r="1.85"/><circle cx="69.15" cy="181.86" r="1.85"/><circle cx="53.71" cy="182.26" r="1.85"/><circle cx="38.27" cy="182.67" r="1.85"/><circle cx="22.82" cy="183.07" r="1.85"/><circle cx="117.49" cy="185.4" r="1.85"/><circle cx="102.04" cy="185.8" r="1.85"/><circle cx="86.6" cy="186.2" r="1.85"/><circle cx="86.6" cy="186.2" r="1.85"/><circle cx="71.15" cy="186.61" r="1.85"/><circle cx="55.71" cy="187.01" r="1.85"/><circle cx="40.26" cy="187.42" r="1.85"/><circle cx="24.82" cy="187.82" r="1.85"/><circle cx="110.76" cy="187.97" r="1.85"/><circle cx="95.32" cy="188.38" r="1.85"/><circle cx="79.87" cy="188.78" r="1.85"/><circle cx="64.43" cy="189.19" r="1.85"/><circle cx="48.98" cy="189.59" r="1.85"/><circle cx="33.54" cy="189.99" r="1.85"/><circle cx="18.09" cy="190.4" r="1.85"/><circle cx="112.76" cy="192.72" r="1.85"/><circle cx="97.31" cy="193.13" r="1.85"/><circle cx="81.87" cy="193.53" r="1.85"/><circle cx="66.43" cy="193.93" r="1.85"/><circle cx="50.98" cy="194.34" r="1.85"/><circle cx="35.54" cy="194.74" r="1.85"/><circle cx="121.48" cy="194.89" r="1.85"/><circle cx="20.09" cy="195.15" r="1.85"/><circle cx="106.04" cy="195.3" r="1.85"/><circle cx="90.59" cy="195.7" r="1.85"/><circle cx="90.59" cy="195.7" r="1.85"/><circle cx="75.15" cy="196.11" r="1.85"/><circle cx="59.7" cy="196.51" r="1.85"/><circle cx="44.26" cy="196.92" r="1.85"/><circle cx="28.81" cy="197.32" r="1.85"/><circle cx="13.37" cy="197.72" r="1.85"/><circle cx="108.03" cy="200.05" r="1.85"/><circle cx="77.14" cy="200.86" r="1.85"/><circle cx="61.7" cy="201.26" r="1.85"/><circle cx="46.25" cy="201.67" r="1.85"/><circle cx="30.81" cy="202.07" r="1.85"/><circle cx="116.75" cy="202.22" r="1.85"/><circle cx="15.36" cy="202.47" r="1.85"/><circle cx="101.31" cy="202.62" r="1.85"/><circle cx="70.42" cy="203.43" r="1.85"/><circle cx="54.97" cy="203.84" r="1.85"/><circle cx="24.09" cy="204.65" r="1.85"/><circle cx="118.75" cy="206.97" r="1.85"/><circle cx="103.31" cy="207.37" r="1.85"/><circle cx="72.42" cy="208.18" r="1.85"/><circle cx="56.97" cy="208.59" r="1.85"/><circle cx="26.08" cy="209.4" r="1.85"/><circle cx="112.03" cy="209.55" r="1.85"/><circle cx="10.64" cy="209.8" r="1.85"/><circle cx="96.58" cy="209.95" r="1.85"/><circle cx="96.58" cy="209.95" r="1.85"/><circle cx="81.14" cy="210.36" r="1.85"/><circle cx="65.69" cy="210.76" r="1.85"/><circle cx="50.25" cy="211.16" r="1.85"/><circle cx="19.36" cy="211.97" r="1.85"/><circle cx="114.02" cy="214.3" r="1.85"/><circle cx="98.58" cy="214.7" r="1.85"/><circle cx="98.58" cy="214.7" r="1.85"/><circle cx="83.13" cy="215.1" r="1.85"/><circle cx="67.69" cy="215.51" r="1.85"/><circle cx="52.24" cy="215.91" r="1.85"/><circle cx="36.8" cy="216.32" r="1.85"/><circle cx="122.74" cy="216.47" r="1.85"/><circle cx="21.36" cy="216.72" r="1.85"/><circle cx="107.3" cy="216.87" r="1.85"/><circle cx="91.85" cy="217.28" r="1.85"/><circle cx="76.41" cy="217.68" r="1.85"/><circle cx="60.97" cy="218.09" r="1.85"/><circle cx="45.52" cy="218.49" r="1.85"/><circle cx="30.08" cy="218.89" r="1.85"/><circle cx="14.63" cy="219.3" r="1.85"/></g>
<path d="M263.32 197.03L265.4 201.82M261.21 209.23L269.58 211.4M259.13 204.44L261.21 209.23M269.59 194.41L277.96 196.58M257.05 182.67L259.14 187.46M259.13 204.44L265.4 201.82M265.39 218.81L271.67 216.19M271.69 182.22L277.97 179.6M259.14 187.46L267.51 189.63M234.04 180.95L242.41 183.12M219.39 198.38L225.66 195.76M267.51 189.63L273.78 187.01M240.29 212.3L242.38 217.09M307.25 195.68L313.52 193.06M219.4 181.4L227.77 183.57M317.7 202.64L319.79 207.43M294.69 200.92L303.06 203.09M280.03 218.36L286.31 215.74M296.79 188.73L298.88 193.51M300.98 181.32L307.26 178.7M313.51 210.05L319.79 207.43M225.65 212.75L231.93 210.13M236.1 219.71L242.38 217.09M313.52 193.06L321.89 195.23M227.74 217.54L236.1 219.71M311.43 188.28L313.52 193.06M234.03 197.93L236.12 202.72M311.43 188.28L317.71 185.66M254.94 211.85L257.02 216.64M309.33 200.47L317.7 202.64M221.47 203.17L229.84 205.34M303.06 203.09L309.33 200.47M275.86 208.78L284.22 210.95M229.85 188.36L238.22 190.53M229.84 205.34L231.93 210.13M303.06 203.09L305.14 207.88M244.5 187.91L252.86 190.08M238.22 190.53L244.5 187.91M265.4 201.82L273.77 203.99M307.26 178.7L315.62 180.87M229.84 205.34L236.12 202.72M267.51 189.63L269.59 194.41M248.67 197.48L250.76 202.27M286.34 181.77L292.62 179.15M223.58 190.98L225.66 195.76M265.4 201.82L273.77 203.99M294.69 200.92L303.06 203.09M292.6 196.13L298.88 193.51M242.41 183.12L244.5 187.91M240.31 195.31L248.67 197.48M282.15 189.18L284.24 193.96M248.69 180.5L257.05 182.67M288.43 186.56L296.79 188.73M282.15 189.18L288.43 186.56M263.33 180.05L271.69 182.22M257.05 182.67L263.33 180.05M284.24 193.96L292.6 196.13M300.95 215.29L309.32 217.46M227.77 183.57L229.85 188.36M221.46 220.15L227.74 217.54M298.88 193.51L307.25 195.68M315.62 180.87L317.71 185.66M254.94 211.85L261.21 209.23M292.62 179.15L300.98 181.32M296.79 188.73L303.07 186.11M254.95 194.86L263.32 197.03M294.68 217.91L300.95 215.29M234.03 197.93L240.31 195.31M300.98 181.32L303.07 186.11M263.32 197.03L269.59 194.41M303.06 203.09L309.33 200.47M298.87 210.5L305.14 207.88M313.51 210.05L315.6 214.84M309.32 217.46L315.6 214.84M250.76 202.27L259.13 204.44M250.76 202.27L259.13 204.44M292.6 196.13L294.69 200.92M227.77 183.57L234.04 180.95M273.77 203.99L275.86 208.78M238.22 190.53L240.31 195.31M269.58 211.4L275.86 208.78M259.13 204.44L265.4 201.82M290.5 208.33L298.87 210.5M305.14 207.88L313.51 210.05M229.84 205.34L236.12 202.72M271.67 216.19L280.03 218.36M231.93 210.13L240.29 212.3M309.33 200.47L317.7 202.64M219.39 198.38L221.47 203.17M225.65 212.75L227.74 217.54M286.34 181.77L288.43 186.56M277.96 196.58L284.24 193.96M307.25 195.68L309.33 200.47M250.75 219.26L257.02 216.64M252.86 190.08L254.95 194.86M273.78 187.01L282.15 189.18M257.02 216.64L265.39 218.81M223.58 190.98L229.85 188.36M225.66 195.76L234.03 197.93M252.86 190.08L259.14 187.46M242.38 217.09L250.75 219.26M303.07 186.11L311.43 188.28M315.62 180.87L321.9 178.25M242.41 183.12L248.69 180.5M298.87 210.5L300.95 215.29M286.31 215.74L294.68 217.91M248.67 197.48L254.95 194.86M271.69 182.22L273.78 187.01M217.29 210.58L225.65 212.75M277.97 179.6L286.34 181.77M269.58 211.4L271.67 216.19M284.22 210.95L286.31 215.74M221.47 203.17L229.84 205.34M284.22 210.95L290.5 208.33" stroke="#86604a" stroke-width="1.35" fill="none" stroke-linecap="round"/>
<path d="M263.32 197.03L265.4 201.82M261.21 209.23L269.58 211.4M259.13 204.44L261.21 209.23M269.59 194.41L277.96 196.58M257.05 182.67L259.14 187.46M259.13 204.44L265.4 201.82M265.39 218.81L271.67 216.19M271.69 182.22L277.97 179.6M259.14 187.46L267.51 189.63M234.04 180.95L242.41 183.12M219.39 198.38L225.66 195.76M267.51 189.63L273.78 187.01M240.29 212.3L242.38 217.09M307.25 195.68L313.52 193.06M219.4 181.4L227.77 183.57M317.7 202.64L319.79 207.43M294.69 200.92L303.06 203.09M280.03 218.36L286.31 215.74M296.79 188.73L298.88 193.51M300.98 181.32L307.26 178.7M313.51 210.05L319.79 207.43M225.65 212.75L231.93 210.13M236.1 219.71L242.38 217.09M313.52 193.06L321.89 195.23M227.74 217.54L236.1 219.71M311.43 188.28L313.52 193.06M234.03 197.93L236.12 202.72M311.43 188.28L317.71 185.66M254.94 211.85L257.02 216.64M309.33 200.47L317.7 202.64M221.47 203.17L229.84 205.34M303.06 203.09L309.33 200.47M275.86 208.78L284.22 210.95M229.85 188.36L238.22 190.53M229.84 205.34L231.93 210.13M303.06 203.09L305.14 207.88M244.5 187.91L252.86 190.08M238.22 190.53L244.5 187.91M265.4 201.82L273.77 203.99M307.26 178.7L315.62 180.87M229.84 205.34L236.12 202.72M267.51 189.63L269.59 194.41M248.67 197.48L250.76 202.27M286.34 181.77L292.62 179.15M223.58 190.98L225.66 195.76M265.4 201.82L273.77 203.99M294.69 200.92L303.06 203.09M292.6 196.13L298.88 193.51M242.41 183.12L244.5 187.91M240.31 195.31L248.67 197.48M282.15 189.18L284.24 193.96M248.69 180.5L257.05 182.67M288.43 186.56L296.79 188.73M282.15 189.18L288.43 186.56M263.33 180.05L271.69 182.22M257.05 182.67L263.33 180.05M284.24 193.96L292.6 196.13M300.95 215.29L309.32 217.46M227.77 183.57L229.85 188.36M221.46 220.15L227.74 217.54M298.88 193.51L307.25 195.68M315.62 180.87L317.71 185.66M254.94 211.85L261.21 209.23M292.62 179.15L300.98 181.32M296.79 188.73L303.07 186.11M254.95 194.86L263.32 197.03M294.68 217.91L300.95 215.29M234.03 197.93L240.31 195.31M300.98 181.32L303.07 186.11M263.32 197.03L269.59 194.41M303.06 203.09L309.33 200.47M298.87 210.5L305.14 207.88M313.51 210.05L315.6 214.84M309.32 217.46L315.6 214.84M250.76 202.27L259.13 204.44M250.76 202.27L259.13 204.44M292.6 196.13L294.69 200.92M227.77 183.57L234.04 180.95M273.77 203.99L275.86 208.78M238.22 190.53L240.31 195.31M269.58 211.4L275.86 208.78M259.13 204.44L265.4 201.82M290.5 208.33L298.87 210.5M305.14 207.88L313.51 210.05M229.84 205.34L236.12 202.72M271.67 216.19L280.03 218.36M231.93 210.13L240.29 212.3M309.33 200.47L317.7 202.64M219.39 198.38L221.47 203.17M225.65 212.75L227.74 217.54M286.34 181.77L288.43 186.56M277.96 196.58L284.24 193.96M307.25 195.68L309.33 200.47M250.75 219.26L257.02 216.64M252.86 190.08L254.95 194.86M273.78 187.01L282.15 189.18M257.02 216.64L265.39 218.81M223.58 190.98L229.85 188.36M225.66 195.76L234.03 197.93M252.86 190.08L259.14 187.46M242.38 217.09L250.75 219.26M303.07 186.11L311.43 188.28M315.62 180.87L321.9 178.25M242.41 183.12L248.69 180.5M298.87 210.5L300.95 215.29M286.31 215.74L294.68 217.91M248.67 197.48L254.95 194.86M271.69 182.22L273.78 187.01M217.29 210.58L225.65 212.75M277.97 179.6L286.34 181.77M269.58 211.4L271.67 216.19M284.22 210.95L286.31 215.74M221.47 203.17L229.84 205.34M284.22 210.95L290.5 208.33" stroke="#a88266" stroke-width="0.65" fill="none" stroke-linecap="round"/>
<g fill="url(#gC)"><circle cx="321.9" cy="178.25" r="1.85"/><circle cx="307.26" cy="178.7" r="1.85"/><circle cx="292.62" cy="179.15" r="1.85"/><circle cx="277.97" cy="179.6" r="1.85"/><circle cx="263.33" cy="180.05" r="1.85"/><circle cx="248.69" cy="180.5" r="1.85"/><circle cx="315.62" cy="180.87" r="1.85"/><circle cx="234.04" cy="180.95" r="1.85"/><circle cx="300.98" cy="181.32" r="1.85"/><circle cx="219.4" cy="181.4" r="1.85"/><circle cx="286.34" cy="181.77" r="1.85"/><circle cx="271.69" cy="182.22" r="1.85"/><circle cx="257.05" cy="182.67" r="1.85"/><circle cx="242.41" cy="183.12" r="1.85"/><circle cx="227.77" cy="183.57" r="1.85"/><circle cx="317.71" cy="185.66" r="1.85"/><circle cx="303.07" cy="186.11" r="1.85"/><circle cx="288.43" cy="186.56" r="1.85"/><circle cx="273.78" cy="187.01" r="1.85"/><circle cx="259.14" cy="187.46" r="1.85"/><circle cx="244.5" cy="187.91" r="1.85"/><circle cx="311.43" cy="188.28" r="1.85"/><circle cx="229.85" cy="188.36" r="1.85"/><circle cx="296.79" cy="188.73" r="1.85"/><circle cx="282.15" cy="189.18" r="1.85"/><circle cx="267.51" cy="189.63" r="1.85"/><circle cx="252.86" cy="190.08" r="1.85"/><circle cx="238.22" cy="190.53" r="1.85"/><circle cx="223.58" cy="190.98" r="1.85"/><circle cx="313.52" cy="193.06" r="1.85"/><circle cx="298.88" cy="193.51" r="1.85"/><circle cx="284.24" cy="193.96" r="1.85"/><circle cx="269.59" cy="194.41" r="1.85"/><circle cx="254.95" cy="194.86" r="1.85"/><circle cx="321.89" cy="195.23" r="1.85"/><circle cx="240.31" cy="195.31" r="1.85"/><circle cx="307.25" cy="195.68" r="1.85"/><circle cx="225.66" cy="195.76" r="1.85"/><circle cx="292.6" cy="196.13" r="1.85"/><circle cx="277.96" cy="196.58" r="1.85"/><circle cx="263.32" cy="197.03" r="1.85"/><circle cx="248.67" cy="197.48" r="1.85"/><circle cx="234.03" cy="197.93" r="1.85"/><circle cx="219.39" cy="198.38" r="1.85"/><circle cx="309.33" cy="200.47" r="1.85"/><circle cx="309.33" cy="200.47" r="1.85"/><circle cx="294.69" cy="200.92" r="1.85"/><circle cx="294.69" cy="200.92" r="1.85"/><circle cx="265.4" cy="201.82" r="1.85"/><circle cx="265.4" cy="201.82" r="1.85"/><circle cx="250.76" cy="202.27" r="1.85"/><circle cx="250.76" cy="202.27" r="1.85"/><circle cx="317.7" cy="202.64" r="1.85"/><circle cx="236.12" cy="202.72" r="1.85"/><circle cx="236.12" cy="202.72" r="1.85"/><circle cx="303.06" cy="203.09" r="1.85"/><circle cx="221.47" cy="203.17" r="1.85"/><circle cx="221.47" cy="203.17" r="1.85"/><circle cx="273.77" cy="203.99" r="1.85"/><circle cx="259.13" cy="204.44" r="1.85"/><circle cx="229.84" cy="205.34" r="1.85"/><circle cx="319.79" cy="207.43" r="1.85"/><circle cx="305.14" cy="207.88" r="1.85"/><circle cx="290.5" cy="208.33" r="1.85"/><circle cx="275.86" cy="208.78" r="1.85"/><circle cx="261.21" cy="209.23" r="1.85"/><circle cx="313.51" cy="210.05" r="1.85"/><circle cx="231.93" cy="210.13" r="1.85"/><circle cx="298.87" cy="210.5" r="1.85"/><circle cx="217.29" cy="210.58" r="1.85"/><circle cx="284.22" cy="210.95" r="1.85"/><circle cx="269.58" cy="211.4" r="1.85"/><circle cx="254.94" cy="211.85" r="1.85"/><circle cx="240.29" cy="212.3" r="1.85"/><circle cx="225.65" cy="212.75" r="1.85"/><circle cx="315.6" cy="214.84" r="1.85"/><circle cx="300.95" cy="215.29" r="1.85"/><circle cx="286.31" cy="215.74" r="1.85"/><circle cx="271.67" cy="216.19" r="1.85"/><circle cx="257.02" cy="216.64" r="1.85"/><circle cx="242.38" cy="217.09" r="1.85"/><circle cx="309.32" cy="217.46" r="1.85"/><circle cx="227.74" cy="217.54" r="1.85"/><circle cx="294.68" cy="217.91" r="1.85"/><circle cx="280.03" cy="218.36" r="1.85"/><circle cx="265.39" cy="218.81" r="1.85"/><circle cx="250.75" cy="219.26" r="1.85"/><circle cx="236.1" cy="219.71" r="1.85"/><circle cx="221.46" cy="220.15" r="1.85"/></g>
<line x1="30.8" y1="49.2" x2="36.6" y2="51.8" stroke="#d8c0d0" stroke-width="1.1"/>
<line x1="32.3" y1="60.6" x2="38.2" y2="60.2" stroke="#d8c0d0" stroke-width="1.1"/>
<circle cx="36.6" cy="51.8" r="1.4" fill="url(#gHp)"/>
<circle cx="38.2" cy="60.2" r="1.4" fill="url(#gHp)"/>
<line x1="85.3" y1="53.8" x2="75" y2="49" stroke="#c8a860" stroke-width="0.9"/>
<line x1="85.3" y1="53.8" x2="78.8" y2="59.4" stroke="#c8a860" stroke-width="0.9"/>
<line x1="85.3" y1="53.8" x2="91.8" y2="48.4" stroke="#c8a860" stroke-width="0.9"/>
<line x1="85.3" y1="53.8" x2="95.4" y2="58.2" stroke="#c8a860" stroke-width="0.9"/>
<line x1="48.5" y1="44.5" x2="50.8" y2="59.4" stroke="#c8b070" stroke-width="1"/>
<circle cx="30.8" cy="49.2" r="1.9" fill="url(#gN)"/>
<circle cx="32.3" cy="60.6" r="1.9" fill="url(#gN)"/>
<circle cx="45.6" cy="48.6" r="1.9" fill="url(#gN)"/>
<circle cx="50.8" cy="59.4" r="1.9" fill="url(#gN)"/>
<circle cx="75" cy="49" r="1.9" fill="url(#gN)"/>
<circle cx="78.8" cy="59.4" r="1.9" fill="url(#gN)"/>
<circle cx="91.8" cy="48.4" r="1.9" fill="url(#gN)"/>
<circle cx="95.4" cy="58.2" r="1.9" fill="url(#gN)"/>
<ellipse cx="48.5" cy="44.6" rx="3.1" ry="3.7" fill="url(#gFe)"/>
<ellipse cx="85.3" cy="53.8" rx="3.1" ry="3.5" fill="url(#gFe)"/>
<line x1="235.6" y1="47" x2="241.4" y2="48.2" stroke="#d8c0d0" stroke-width="1.1"/>
<line x1="236.6" y1="57.8" x2="242.4" y2="57.6" stroke="#d8c0d0" stroke-width="1.1"/>
<circle cx="241.4" cy="48.2" r="1.4" fill="url(#gHp)"/>
<circle cx="242.4" cy="57.6" r="1.4" fill="url(#gHp)"/>
<line x1="279.7" y1="39.8" x2="286.2" y2="52" stroke="#c8a050" stroke-width="1.2"/>
<line x1="279.7" y1="39.8" x2="280.2" y2="57.6" stroke="#c0c8e8" stroke-width="1"/>
<line x1="286.2" y1="52" x2="276.4" y2="46.8" stroke="#c8a860" stroke-width="0.9"/>
<line x1="286.2" y1="52" x2="280.2" y2="57.6" stroke="#c8a860" stroke-width="0.9"/>
<line x1="286.2" y1="52" x2="292.4" y2="46.8" stroke="#c8a860" stroke-width="0.9"/>
<line x1="286.2" y1="52" x2="297.2" y2="57.6" stroke="#c8a860" stroke-width="0.9"/>
<circle cx="235.6" cy="47" r="1.9" fill="url(#gN)"/>
<circle cx="236.6" cy="57.8" r="1.9" fill="url(#gN)"/>
<circle cx="252" cy="46.8" r="1.9" fill="url(#gN)"/>
<circle cx="253.4" cy="58" r="1.9" fill="url(#gN)"/>
<circle cx="276.4" cy="46.8" r="1.9" fill="url(#gN)"/>
<circle cx="280.2" cy="57.6" r="1.9" fill="url(#gN)"/>
<circle cx="292.4" cy="46.8" r="1.9" fill="url(#gN)"/>
<circle cx="297.2" cy="57.6" r="1.9" fill="url(#gN)"/>
<ellipse cx="279.7" cy="39.8" rx="3.1" ry="3.7" fill="url(#gFe)"/>
<ellipse cx="286.2" cy="52.0" rx="3.1" ry="3.5" fill="url(#gFe)"/>
<line x1="30.6" y1="204" x2="36.4" y2="205" stroke="#d8c0d0" stroke-width="1.1"/>
<line x1="33.5" y1="213.4" x2="39.6" y2="212" stroke="#d8c0d0" stroke-width="1.1"/>
<circle cx="36.4" cy="205" r="1.4" fill="url(#gHp)"/>
<circle cx="39.6" cy="212" r="1.4" fill="url(#gHp)"/>
<line x1="48.7" y1="197" x2="50.4" y2="211.4" stroke="#c8b070" stroke-width="1"/>
<line x1="88.1" y1="203.5" x2="76.9" y2="199.9" stroke="#c8a860" stroke-width="0.9"/>
<line x1="88.1" y1="203.5" x2="79.4" y2="209.3" stroke="#c8a860" stroke-width="0.9"/>
<line x1="88.1" y1="203.5" x2="94.3" y2="200.6" stroke="#c8a860" stroke-width="0.9"/>
<line x1="88.1" y1="203.5" x2="96.8" y2="209.3" stroke="#c8a860" stroke-width="0.9"/>
<circle cx="30.6" cy="204" r="1.9" fill="url(#gN)"/>
<circle cx="33.5" cy="213.4" r="1.9" fill="url(#gN)"/>
<circle cx="45.8" cy="202" r="1.9" fill="url(#gN)"/>
<circle cx="50.4" cy="211.4" r="1.9" fill="url(#gN)"/>
<circle cx="76.9" cy="199.9" r="1.9" fill="url(#gN)"/>
<circle cx="79.4" cy="209.3" r="1.9" fill="url(#gN)"/>
<circle cx="94.3" cy="200.6" r="1.9" fill="url(#gN)"/>
<circle cx="96.8" cy="209.3" r="1.9" fill="url(#gN)"/>
<circle cx="48.7" cy="197" r="3.1" fill="url(#gFe)"/>
<circle cx="88.1" cy="203.5" r="3.1" fill="url(#gFe)"/>
<line x1="235.5" y1="202.4" x2="240.8" y2="203.6" stroke="#d8c0d0" stroke-width="1.1"/>
<line x1="239.2" y1="211.4" x2="244.1" y2="210.6" stroke="#d8c0d0" stroke-width="1.1"/>
<circle cx="240.8" cy="203.6" r="1.4" fill="url(#gHp)"/>
<circle cx="244.1" cy="210.6" r="1.4" fill="url(#gHp)"/>
<line x1="281.1" y1="196.9" x2="288.1" y2="207.5" stroke="#c8a050" stroke-width="1.2"/>
<line x1="288.1" y1="207.5" x2="278.9" y2="202.5" stroke="#c8a860" stroke-width="0.9"/>
<line x1="288.1" y1="207.5" x2="293.5" y2="201.5" stroke="#c8a860" stroke-width="0.9"/>
<line x1="288.1" y1="207.5" x2="281.5" y2="211.5" stroke="#c8a860" stroke-width="0.9"/>
<line x1="288.1" y1="207.5" x2="296.5" y2="210.5" stroke="#c8a860" stroke-width="0.9"/>
<circle cx="235.5" cy="202.4" r="1.9" fill="url(#gN)"/>
<circle cx="239.2" cy="211.4" r="1.9" fill="url(#gN)"/>
<circle cx="249.9" cy="202.4" r="1.9" fill="url(#gN)"/>
<circle cx="254" cy="211.4" r="1.9" fill="url(#gN)"/>
<circle cx="278.9" cy="202.5" r="1.9" fill="url(#gN)"/>
<circle cx="293.5" cy="201.5" r="1.9" fill="url(#gN)"/>
<circle cx="281.5" cy="211.5" r="1.9" fill="url(#gN)"/>
<circle cx="296.5" cy="210.5" r="1.9" fill="url(#gN)"/>
<circle cx="281.1" cy="196.9" r="3.1" fill="url(#gFe)"/>
<circle cx="288.1" cy="207.5" r="3.1" fill="url(#gFe)"/>
<line x1="47.9" y1="190.2" x2="48.7" y2="197" stroke="#e02020" stroke-width="1.3"/>
<line x1="90.9" y1="191.6" x2="88.1" y2="203.5" stroke="#e02020" stroke-width="1.3"/>
<path d="M81.3 136.55L77 134.8M87.3 136.1L89 133.9M89.65 139.55L93.7 140.8M82.7 142.75L79.8 147.2M99.45 132.75L100.9 129.3M93.5 135.05L89 133.9M101.6 137.4L105.2 138.6M95.85 138.5L93.7 140.8M96.6 141.35L95.2 146.5M75 140.15L77 134.8M76.4 146.35L79.8 147.2M67.8 146L62.6 146.5M73.7 148.85L74.4 152.2M103.55 142.2L105.2 138.6M97.8 143.3L93.7 140.8M98.55 146.15L95.2 146.5M105.7 147.25L109.5 148.7M99.45 150.1L97 154.4M60.1 151.5L62.6 146.5M52.75 156.75L47.9 157M61 160.1L64.4 163.7M94.8 151.15L95.2 146.5M95.7 155.1L97 154.4M89.75 157.6L85.1 159.4M110.9 153.35L109.5 148.7M114.85 158L117.4 158M115.2 160.85L118.1 163.7M74.2 157.25L74.4 152.2M79.55 160.85L85.1 159.4M69.2 163L64.4 163.7M77.75 164.05L81.5 165.8M75.25 166.2L76.5 170.1M73.85 167.65L73.7 173M64.25 165.7L64.4 163.7M60.65 171.45L57.2 175.2M68.9 170.35L73.7 173M82.05 163.55L85.1 159.4M80.25 166.75L81.5 165.8M77.75 168.9L76.5 170.1M76.35 170.35L73.7 173M82.1 170.25L81.5 165.8M79.6 172.4L76.5 170.1M78.2 173.85L73.7 173M87.5 176.35L92.3 178M80.1 178.5L77.5 182.3M101.8 168.7L102.3 164.4M96.8 175.5L92.3 178M105.75 175.85L110.2 178.7M99.65 176.95L98 180.9M117.75 168.95L118.1 163.7M113.8 176.45L110.2 178.7M74.05 178L73.7 173M75.95 182.65L77.5 182.3M69.75 185.15L65.1 187.3M77.95 185.75L81.5 188.5M90.7 181.25L92.3 178M93.55 182.7L98 180.9M85.3 186.5L81.5 188.5M90 188.05L90.9 191.6M57.05 180.55L57.2 175.2M61 186.6L65.1 187.3M52.4 188.05L47.9 190.2" stroke="#e01818" stroke-width="1.35" fill="none"/>
<path d="M85.6 138.3L81.3 136.55M85.6 138.3L87.3 136.1M85.6 138.3L89.65 139.55M85.6 138.3L82.7 142.75M98 136.2L99.45 132.75M98 136.2L93.5 135.05M98 136.2L101.6 137.4M98 136.2L95.85 138.5M98 136.2L96.6 141.35M73 145.5L75 140.15M73 145.5L76.4 146.35M73 145.5L67.8 146M73 145.5L73.7 148.85M101.9 145.8L103.55 142.2M101.9 145.8L97.8 143.3M101.9 145.8L98.55 146.15M101.9 145.8L105.7 147.25M101.9 145.8L99.45 150.1M57.6 156.5L60.1 151.5M57.6 156.5L52.75 156.75M57.6 156.5L61 160.1M94.4 155.8L94.8 151.15M94.4 155.8L95.7 155.1M94.4 155.8L89.75 157.6M112.3 158L110.9 153.35M112.3 158L114.85 158M112.3 158L115.2 160.85M74 162.3L74.2 157.25M74 162.3L79.55 160.85M74 162.3L69.2 163M74 162.3L77.75 164.05M74 162.3L75.25 166.2M74 162.3L73.85 167.65M64.1 167.7L64.25 165.7M64.1 167.7L60.65 171.45M64.1 167.7L68.9 170.35M79 167.7L82.05 163.55M79 167.7L80.25 166.75M79 167.7L77.75 168.9M79 167.7L76.35 170.35M82.7 174.7L82.1 170.25M82.7 174.7L79.6 172.4M82.7 174.7L78.2 173.85M82.7 174.7L87.5 176.35M82.7 174.7L80.1 178.5M101.3 173L101.8 168.7M101.3 173L96.8 175.5M101.3 173L105.75 175.85M101.3 173L99.65 176.95M117.4 174.2L117.75 168.95M117.4 174.2L113.8 176.45M74.4 183L74.05 178M74.4 183L75.95 182.65M74.4 183L69.75 185.15M74.4 183L77.95 185.75M89.1 184.5L90.7 181.25M89.1 184.5L93.55 182.7M89.1 184.5L85.3 186.5M89.1 184.5L90 188.05M56.9 185.9L57.05 180.55M56.9 185.9L61 186.6M56.9 185.9L52.4 188.05M73 145.5L85.6 138.3M85.6 138.3L98 136.2M64.1 167.7L79 167.7M74 162.3L82.7 174.7M101.3 173L117.4 174.2M79 167.7L82.7 174.7M98 136.2L101.9 145.8" stroke="#2a40e0" stroke-width="1.35" fill="none"/>
<circle cx="100.9" cy="129.3" r="2" fill="url(#gO)"/>
<circle cx="89" cy="133.9" r="2" fill="url(#gO)"/>
<circle cx="77" cy="134.8" r="2" fill="url(#gO)"/>
<circle cx="98" cy="136.2" r="2.75" fill="url(#gSi)"/>
<circle cx="85.6" cy="138.3" r="2.75" fill="url(#gSi)"/>
<circle cx="105.2" cy="138.6" r="2" fill="url(#gO)"/>
<circle cx="93.7" cy="140.8" r="2" fill="url(#gO)"/>
<circle cx="73" cy="145.5" r="2.75" fill="url(#gSi)"/>
<circle cx="101.9" cy="145.8" r="2.75" fill="url(#gSi)"/>
<circle cx="62.6" cy="146.5" r="2" fill="url(#gO)"/>
<circle cx="95.2" cy="146.5" r="2" fill="url(#gO)"/>
<circle cx="79.8" cy="147.2" r="2" fill="url(#gO)"/>
<circle cx="109.5" cy="148.7" r="2" fill="url(#gO)"/>
<circle cx="74.4" cy="152.2" r="2" fill="url(#gO)"/>
<circle cx="97" cy="154.4" r="2" fill="url(#gO)"/>
<circle cx="94.4" cy="155.8" r="2.75" fill="url(#gSi)"/>
<circle cx="57.6" cy="156.5" r="2.75" fill="url(#gSi)"/>
<circle cx="47.9" cy="157" r="2" fill="url(#gO)"/>
<circle cx="117.4" cy="158" r="2" fill="url(#gO)"/>
<circle cx="112.3" cy="158" r="2.75" fill="url(#gSi)"/>
<circle cx="85.1" cy="159.4" r="2" fill="url(#gO)"/>
<circle cx="74" cy="162.3" r="2.75" fill="url(#gSi)"/>
<circle cx="118.1" cy="163.7" r="2" fill="url(#gO)"/>
<circle cx="64.4" cy="163.7" r="2" fill="url(#gO)"/>
<circle cx="102.3" cy="164.4" r="2" fill="url(#gO)"/>
<circle cx="81.5" cy="165.8" r="2" fill="url(#gO)"/>
<circle cx="64.1" cy="167.7" r="2.75" fill="url(#gSi)"/>
<circle cx="79" cy="167.7" r="2.75" fill="url(#gSi)"/>
<circle cx="76.5" cy="170.1" r="2" fill="url(#gO)"/>
<circle cx="73.7" cy="173" r="2" fill="url(#gO)"/>
<circle cx="101.3" cy="173" r="2.75" fill="url(#gSi)"/>
<circle cx="117.4" cy="174.2" r="2.75" fill="url(#gSi)"/>
<circle cx="82.7" cy="174.7" r="2.75" fill="url(#gSi)"/>
<circle cx="57.2" cy="175.2" r="2" fill="url(#gO)"/>
<circle cx="92.3" cy="178" r="2" fill="url(#gO)"/>
<circle cx="110.2" cy="178.7" r="2" fill="url(#gO)"/>
<circle cx="98" cy="180.9" r="2" fill="url(#gO)"/>
<circle cx="77.5" cy="182.3" r="2" fill="url(#gO)"/>
<circle cx="74.4" cy="183" r="2.75" fill="url(#gSi)"/>
<circle cx="89.1" cy="184.5" r="2.75" fill="url(#gSi)"/>
<circle cx="56.9" cy="185.9" r="2.75" fill="url(#gSi)"/>
<circle cx="65.1" cy="187.3" r="2" fill="url(#gO)"/>
<circle cx="81.5" cy="188.5" r="2" fill="url(#gO)"/>
<circle cx="47.9" cy="190.2" r="2" fill="url(#gO)"/>
<circle cx="90.9" cy="191.6" r="2" fill="url(#gO)"/>
<line x1="252.4" y1="189.2" x2="252.4" y2="189.2" stroke="#e02020" stroke-width="1.3"/>
<path d="M283.78 135.4L279.55 133.68M289.69 134.96L291.37 132.79M292.01 138.36L295.99 139.59M285.16 141.51L282.3 145.89M301.66 131.66L303.09 128.26M295.8 133.92L291.37 132.79M303.78 136.24L307.32 137.42M298.11 137.32L295.99 139.59M298.85 140.13L297.47 145.2M277.58 138.95L279.55 133.68M278.95 145.05L282.3 145.89M270.48 144.71L265.36 145.2M276.29 147.52L276.98 150.82M305.7 140.97L307.32 137.42M300.03 142.05L295.99 139.59M300.77 144.86L297.47 145.2M307.81 145.94L311.56 147.37M301.66 148.75L299.25 152.98M262.9 150.13L265.36 145.2M255.66 155.3L250.88 155.54M263.78 158.6L267.13 162.14M297.08 149.78L297.47 145.2M297.96 153.67L299.25 152.98M292.1 156.14L287.52 157.91M312.94 151.95L311.56 147.37M316.83 156.53L319.34 156.53M317.17 159.34L320.03 162.14M276.79 155.79L276.98 150.82M282.06 159.34L287.52 157.91M271.86 161.45L267.13 162.14M280.28 162.49L283.98 164.21M277.82 164.61L279.05 168.45M276.44 166.04L276.29 171.31M266.99 164.11L267.13 162.14M263.44 169.78L260.04 173.47M271.57 168.69L276.29 171.31M284.52 162L287.52 157.91M282.75 165.15L283.98 164.21M280.28 167.27L279.05 168.45M278.9 168.69L276.29 171.31M284.57 168.6L283.98 164.21M282.11 170.71L279.05 168.45M280.73 172.14L276.29 171.31M289.89 174.6L294.62 176.23M282.6 176.72L280.04 180.47M303.97 167.07L304.47 162.83M299.05 173.77L294.62 176.23M307.86 174.11L312.25 176.92M301.86 175.2L300.23 179.09M319.68 167.32L320.03 162.14M315.79 174.7L312.25 176.92M276.64 176.23L276.29 171.31M278.51 180.81L280.04 180.47M272.4 183.27L267.82 185.39M280.48 183.86L283.98 186.57M293.04 179.43L294.62 176.23M295.85 180.86L300.23 179.09M287.72 184.6L283.98 186.57M292.35 186.13L293.24 189.63M259.89 178.74L260.04 173.47M263.78 184.7L267.82 185.39M255.31 186.13L250.88 188.25" stroke="#e01818" stroke-width="1.35" fill="none"/>
<path d="M288.02 137.13L283.78 135.4M288.02 137.13L289.69 134.96M288.02 137.13L292.01 138.36M288.02 137.13L285.16 141.51M300.23 135.06L301.66 131.66M300.23 135.06L295.8 133.92M300.23 135.06L303.78 136.24M300.23 135.06L298.11 137.32M300.23 135.06L298.85 140.13M275.61 144.22L277.58 138.95M275.61 144.22L278.95 145.05M275.61 144.22L270.48 144.71M275.61 144.22L276.29 147.52M304.07 144.51L305.7 140.97M304.07 144.51L300.03 142.05M304.07 144.51L300.77 144.86M304.07 144.51L307.81 145.94M304.07 144.51L301.66 148.75M260.44 155.05L262.9 150.13M260.44 155.05L255.66 155.3M260.44 155.05L263.78 158.6M296.68 154.36L297.08 149.78M296.68 154.36L297.96 153.67M296.68 154.36L292.1 156.14M314.32 156.53L312.94 151.95M314.32 156.53L316.83 156.53M314.32 156.53L317.17 159.34M276.59 160.77L276.79 155.79M276.59 160.77L282.06 159.34M276.59 160.77L271.86 161.45M276.59 160.77L280.28 162.49M276.59 160.77L277.82 164.61M276.59 160.77L276.44 166.04M266.84 166.08L266.99 164.11M266.84 166.08L263.44 169.78M266.84 166.08L271.57 168.69M281.51 166.08L284.52 162M281.51 166.08L282.75 165.15M281.51 166.08L280.28 167.27M281.51 166.08L278.9 168.69M285.16 172.98L284.57 168.6M285.16 172.98L282.11 170.71M285.16 172.98L280.73 172.14M285.16 172.98L289.89 174.6M285.16 172.98L282.6 176.72M303.48 171.31L303.97 167.07M303.48 171.31L299.05 173.77M303.48 171.31L307.86 174.11M303.48 171.31L301.86 175.2M319.34 172.49L319.68 167.32M319.34 172.49L315.79 174.7M276.98 181.16L276.64 176.23M276.98 181.16L278.51 180.81M276.98 181.16L272.4 183.27M276.98 181.16L280.48 183.86M291.46 182.63L293.04 179.43M291.46 182.63L295.85 180.86M291.46 182.63L287.72 184.6M291.46 182.63L292.35 186.13M259.75 184.01L259.89 178.74M259.75 184.01L263.78 184.7M259.75 184.01L255.31 186.13M275.61 144.22L288.02 137.13M288.02 137.13L300.23 135.06M266.84 166.08L281.51 166.08M276.59 160.77L285.16 172.98M303.48 171.31L319.34 172.49M281.51 166.08L285.16 172.98M300.23 135.06L304.07 144.51" stroke="#2a40e0" stroke-width="1.35" fill="none"/>
<circle cx="303.09" cy="128.26" r="2" fill="url(#gO)"/>
<circle cx="291.37" cy="132.79" r="2" fill="url(#gO)"/>
<circle cx="279.55" cy="133.68" r="2" fill="url(#gO)"/>
<circle cx="300.23" cy="135.06" r="2.75" fill="url(#gSi)"/>
<circle cx="288.02" cy="137.13" r="2.75" fill="url(#gSi)"/>
<circle cx="307.32" cy="137.42" r="2" fill="url(#gO)"/>
<circle cx="295.99" cy="139.59" r="2" fill="url(#gO)"/>
<circle cx="275.61" cy="144.22" r="2.75" fill="url(#gSi)"/>
<circle cx="304.07" cy="144.51" r="2.75" fill="url(#gSi)"/>
<circle cx="265.36" cy="145.2" r="2" fill="url(#gO)"/>
<circle cx="297.47" cy="145.2" r="2" fill="url(#gO)"/>
<circle cx="282.3" cy="145.89" r="2" fill="url(#gO)"/>
<circle cx="311.56" cy="147.37" r="2" fill="url(#gO)"/>
<circle cx="276.98" cy="150.82" r="2" fill="url(#gO)"/>
<circle cx="299.25" cy="152.98" r="2" fill="url(#gO)"/>
<circle cx="296.68" cy="154.36" r="2.75" fill="url(#gSi)"/>
<circle cx="260.44" cy="155.05" r="2.75" fill="url(#gSi)"/>
<circle cx="250.88" cy="155.54" r="2" fill="url(#gO)"/>
<circle cx="319.34" cy="156.53" r="2" fill="url(#gO)"/>
<circle cx="314.32" cy="156.53" r="2.75" fill="url(#gSi)"/>
<circle cx="287.52" cy="157.91" r="2" fill="url(#gO)"/>
<circle cx="276.59" cy="160.77" r="2.75" fill="url(#gSi)"/>
<circle cx="320.03" cy="162.14" r="2" fill="url(#gO)"/>
<circle cx="267.13" cy="162.14" r="2" fill="url(#gO)"/>
<circle cx="304.47" cy="162.83" r="2" fill="url(#gO)"/>
<circle cx="283.98" cy="164.21" r="2" fill="url(#gO)"/>
<circle cx="266.84" cy="166.08" r="2.75" fill="url(#gSi)"/>
<circle cx="281.51" cy="166.08" r="2.75" fill="url(#gSi)"/>
<circle cx="279.05" cy="168.45" r="2" fill="url(#gO)"/>
<circle cx="276.29" cy="171.31" r="2" fill="url(#gO)"/>
<circle cx="303.48" cy="171.31" r="2.75" fill="url(#gSi)"/>
<circle cx="319.34" cy="172.49" r="2.75" fill="url(#gSi)"/>
<circle cx="285.16" cy="172.98" r="2.75" fill="url(#gSi)"/>
<circle cx="260.04" cy="173.47" r="2" fill="url(#gO)"/>
<circle cx="294.62" cy="176.23" r="2" fill="url(#gO)"/>
<circle cx="312.25" cy="176.92" r="2" fill="url(#gO)"/>
<circle cx="300.23" cy="179.09" r="2" fill="url(#gO)"/>
<circle cx="280.04" cy="180.47" r="2" fill="url(#gO)"/>
<circle cx="276.98" cy="181.16" r="2.75" fill="url(#gSi)"/>
<circle cx="291.46" cy="182.63" r="2.75" fill="url(#gSi)"/>
<circle cx="259.75" cy="184.01" r="2.75" fill="url(#gSi)"/>
<circle cx="267.82" cy="185.39" r="2" fill="url(#gO)"/>
<circle cx="283.98" cy="186.57" r="2" fill="url(#gO)"/>
<circle cx="250.88" cy="188.25" r="2" fill="url(#gO)"/>
<circle cx="293.24" cy="189.63" r="2" fill="url(#gO)"/>
<path d="M127.4 57.9 L194.9 61.5 L197.7 55.0 L207.4 66 L186.6 72.4 L192.1 66.0 L127.4 58.6 Z" fill="#f5b092" stroke="#f08a50" stroke-width="0.9" stroke-linejoin="round"/>
<path d="M129.2 180.3 L196.3 183.8 L199.1 177.5 L208.5 188.3 L188.0 194.4 L193.5 188.4 L129.2 181.0 Z" fill="#a0c0e8" stroke="#5e98dc" stroke-width="0.9" stroke-linejoin="round"/>
<text x="133.7" y="32" font-size="12.4" fill="#111" text-anchor="start">E<tspan font-size="9.2" dy="2.8">a</tspan><tspan dy="-2.8"> = 0.03 eV</tspan></text>
<text x="129.9" y="46.8" font-size="12.2" fill="#111" text-anchor="start">ΔE = -1.75 eV</text>
<text x="140.2" y="153.3" font-size="12.4" fill="#111" text-anchor="start">E<tspan font-size="9.2" dy="2.8">a</tspan><tspan dy="-2.8"> = 2.39 eV</tspan></text>
<text x="138.3" y="168.4" font-size="12.2" fill="#111" text-anchor="start">ΔE = 1.73 eV</text>
<text x="167.6" y="87.7" font-size="12.5" fill="#c07a1c" text-anchor="middle">easy</text>
<text x="167.4" y="99.2" font-size="12.5" fill="#c07a1c" text-anchor="middle">aggregation</text>
<text x="169.6" y="210.9" font-size="12.5" fill="#1f3ef0" text-anchor="middle">hard</text>
<text x="168.9" y="221.7" font-size="12.5" fill="#1f3ef0" text-anchor="middle">aggregation</text>
<text x="30.8" y="105.4" font-size="13" fill="#c07a1c" text-anchor="start">without SiO<tspan font-size="9" dy="3">2</tspan></text>
<text x="37.8" y="236.4" font-size="13" fill="#1f3ef0" text-anchor="start">with SiO<tspan font-size="9" dy="3">2</tspan></text>
<circle cx="216.1" cy="239" r="7.6" fill="url(#gFeL)"/>
<circle cx="235.5" cy="240" r="4.4" fill="url(#gN)"/>
<circle cx="256.5" cy="239.7" r="4.4" fill="url(#gC)"/>
<circle cx="276.9" cy="238.4" r="6.6" fill="url(#gSiL)"/>
<circle cx="296.4" cy="239.9" r="4.6" fill="url(#gOL)"/>
<circle cx="312" cy="239.9" r="2.9" fill="url(#gH)"/>
<text x="216.4" y="257.2" font-size="11" fill="#111" text-anchor="middle">Fe</text>
<text x="235.9" y="257.2" font-size="11" fill="#111" text-anchor="middle">N</text>
<text x="256.5" y="257.2" font-size="11" fill="#111" text-anchor="middle">C</text>
<text x="276.4" y="257.2" font-size="11" fill="#111" text-anchor="middle">Si</text>
<text x="296.1" y="257.2" font-size="11" fill="#111" text-anchor="middle">O</text>
<text x="312.8" y="257.2" font-size="11" fill="#111" text-anchor="middle">H</text>
<text x="351.6" y="13.6" font-size="17.5" fill="#000" text-anchor="start">b</text>
<rect x="389.3" y="5.3" width="293.2" height="232.4" fill="none" stroke="#2a2a2a" stroke-width="1.3"/>
<line x1="385.3" y1="5.3" x2="389.3" y2="5.3" stroke="#2a2a2a" stroke-width="1.3"/>
<text x="384.2" y="9.6" font-size="12" fill="#111" text-anchor="end">0.5</text>
<line x1="385.3" y1="46.85" x2="389.3" y2="46.85" stroke="#2a2a2a" stroke-width="1.3"/>
<text x="384.2" y="51.15" font-size="12" fill="#111" text-anchor="end">0.0</text>
<line x1="385.3" y1="88.4" x2="389.3" y2="88.4" stroke="#2a2a2a" stroke-width="1.3"/>
<text x="384.2" y="92.7" font-size="12" fill="#111" text-anchor="end">-0.5</text>
<line x1="385.3" y1="129.95" x2="389.3" y2="129.95" stroke="#2a2a2a" stroke-width="1.3"/>
<text x="384.2" y="134.25" font-size="12" fill="#111" text-anchor="end">-1.0</text>
<line x1="385.3" y1="171.5" x2="389.3" y2="171.5" stroke="#2a2a2a" stroke-width="1.3"/>
<text x="384.2" y="175.8" font-size="12" fill="#111" text-anchor="end">-1.5</text>
<line x1="385.3" y1="213.05" x2="389.3" y2="213.05" stroke="#2a2a2a" stroke-width="1.3"/>
<text x="384.2" y="217.35" font-size="12" fill="#111" text-anchor="end">-2.0</text>
<text transform="translate(359 114) rotate(-90)" font-size="17.3" text-anchor="middle" fill="#111">Free Energy (eV)</text>
<line x1="427" y1="46.85" x2="450" y2="51" stroke="#a8b0f6" stroke-width="0.9" stroke-dasharray="0.9 1.5"/>
<line x1="475" y1="51" x2="499" y2="90.06" stroke="#a8b0f6" stroke-width="0.9" stroke-dasharray="0.9 1.5"/>
<line x1="524" y1="90.06" x2="548" y2="152.39" stroke="#a8b0f6" stroke-width="0.9" stroke-dasharray="0.9 1.5"/>
<line x1="573" y1="152.39" x2="597" y2="198.92" stroke="#a8b0f6" stroke-width="0.9" stroke-dasharray="0.9 1.5"/>
<line x1="622" y1="198.92" x2="646" y2="180.64" stroke="#a8b0f6" stroke-width="0.9" stroke-dasharray="0.9 1.5"/>
<line x1="427" y1="46.85" x2="450" y2="117.48" stroke="#e2d6b6" stroke-width="0.9" stroke-dasharray="0.9 1.5"/>
<line x1="475" y1="117.48" x2="499" y2="80.09" stroke="#e2d6b6" stroke-width="0.9" stroke-dasharray="0.9 1.5"/>
<line x1="524" y1="80.09" x2="548" y2="218.87" stroke="#e2d6b6" stroke-width="0.9" stroke-dasharray="0.9 1.5"/>
<line x1="573" y1="218.87" x2="597" y2="209.73" stroke="#e2d6b6" stroke-width="0.9" stroke-dasharray="0.9 1.5"/>
<line x1="622" y1="209.73" x2="646" y2="180.64" stroke="#e2d6b6" stroke-width="0.9" stroke-dasharray="0.9 1.5"/>
<line x1="524" y1="80.09" x2="647" y2="22.75" stroke="#ff9a9a" stroke-width="0.9" stroke-dasharray="0.9 1.5"/>
<line x1="524" y1="90.06" x2="647" y2="22.75" stroke="#ff9a9a" stroke-width="0.9" stroke-dasharray="0.9 1.5"/>
<line x1="401" y1="46.85" x2="427" y2="46.85" stroke="#2a2420" stroke-width="1.8"/>
<line x1="450" y1="51" x2="475" y2="51" stroke="#1a2ef0" stroke-width="1.8"/>
<line x1="450" y1="117.48" x2="475" y2="117.48" stroke="#b07e22" stroke-width="1.8"/>
<line x1="499" y1="80.09" x2="524" y2="80.09" stroke="#b07e22" stroke-width="1.8"/>
<line x1="499" y1="90.06" x2="524" y2="90.06" stroke="#1a2ef0" stroke-width="1.8"/>
<line x1="548" y1="152.39" x2="573" y2="152.39" stroke="#1a2ef0" stroke-width="1.8"/>
<line x1="548" y1="218.87" x2="573" y2="218.87" stroke="#b07e22" stroke-width="1.8"/>
<line x1="597" y1="198.92" x2="622" y2="198.92" stroke="#1a2ef0" stroke-width="1.8"/>
<line x1="597" y1="209.73" x2="622" y2="209.73" stroke="#b07e22" stroke-width="1.8"/>
<line x1="646" y1="180.64" x2="672" y2="180.64" stroke="#1a1a1a" stroke-width="1.8"/>
<line x1="647" y1="22.75" x2="673" y2="22.75" stroke="#ff1a1a" stroke-width="1.8"/>
<text x="414.2" y="40.5" font-size="10" fill="#111" text-anchor="middle">*</text>
<text x="403.4" y="59.4" font-size="12" fill="#1a1a1a" text-anchor="start">0.00</text>
<text x="454.3" y="43.3" font-size="12" fill="#1a2ef0" text-anchor="start">O<tspan font-size="8" dy="3">2</tspan><tspan dy="-3">*</tspan></text>
<text x="447" y="63.6" font-size="12" fill="#1a2ef0" text-anchor="start">-0.05</text>
<text x="454.3" y="110.3" font-size="12" fill="#a67c20" text-anchor="start">O<tspan font-size="8" dy="3">2</tspan><tspan dy="-3">*</tspan></text>
<text x="449" y="128.8" font-size="12" fill="#a67c20" text-anchor="start">-0.85</text>
<text x="496.2" y="65.1" font-size="12" fill="#a67c20" text-anchor="start">OOH*</text>
<text x="495.4" y="77.7" font-size="12" fill="#a67c20" text-anchor="start">-0.40</text>
<text x="492.6" y="103.3" font-size="12" fill="#1a2ef0" text-anchor="start">OOH*</text>
<text x="492.6" y="114.2" font-size="12" fill="#1a2ef0" text-anchor="start">-0.52</text>
<text x="554.5" y="149.3" font-size="12" fill="#1a2ef0" text-anchor="start">O*</text>
<text x="545.6" y="164.4" font-size="12" fill="#1a2ef0" text-anchor="start">-1.27</text>
<text x="554.5" y="216.6" font-size="12" fill="#a67c20" text-anchor="start">O*</text>
<text x="547.3" y="230" font-size="12" fill="#a67c20" text-anchor="start">-2.07</text>
<text x="602.6" y="181.9" font-size="12" fill="#1a2ef0" text-anchor="start">OH*</text>
<text x="596.6" y="194.9" font-size="12" fill="#1a2ef0" text-anchor="start">-1.83</text>
<text x="599.1" y="220.3" font-size="12" fill="#a67c20" text-anchor="start">OH*</text>
<text x="596.6" y="231.2" font-size="12" fill="#a67c20" text-anchor="start">-1.96</text>
<text x="640.2" y="172.8" font-size="12" fill="#1a1a1a" text-anchor="start">*+ H<tspan font-size="8" dy="3">2</tspan><tspan dy="-3">O</tspan></text>
<text x="645.4" y="192.2" font-size="12" fill="#1a1a1a" text-anchor="start">-1.61</text>
<text x="681.4" y="17.9" font-size="12" fill="#ff1a1a" text-anchor="end">*+ HOOH</text>
<text x="649.6" y="35.7" font-size="12" fill="#ff1a1a" text-anchor="start">0.29</text>
<radialGradient id="gC3" cx="0.38" cy="0.35" r="0.7"><stop offset="0" stop-color="#d0a482"/><stop offset="0.5" stop-color="#946040"/><stop offset="1" stop-color="#603820"/></radialGradient>
<clipPath id="cb1"><ellipse cx="476" cy="173.4" rx="34" ry="35.1"/></clipPath>
<g clip-path="url(#cb1)">
<path d="M463.9 145.5L472.61 147.9M468.12 155.1L470.24 159.9M509.54 162.3L511.65 167.1M434.9 183.9L441.49 181.5M442.01 147.9L448.6 145.5M479.2 145.5L487.91 147.9M441.49 181.5L450.2 183.9M456.79 181.5L465.5 183.9M461.01 191.1L463.13 195.9M430.41 191.1L437.01 188.7M505.06 169.5L511.65 167.1M469.98 176.7L472.09 181.5M439.38 176.7L445.97 174.3M456.53 198.3L458.64 203.1M489.76 169.5L491.87 174.3M505.06 169.5L507.17 174.3M500.58 176.7L507.17 174.3M452.82 155.1L459.42 152.7M472.61 147.9L474.72 152.7M465.5 183.9L467.61 188.7M476.31 191.1L482.91 188.7M437.52 155.1L439.64 159.9M447.83 195.9L456.53 198.3M502.43 198.3L509.03 195.9M511.4 183.9L517.99 181.5M478.43 195.9L487.13 198.3M461.27 174.3L469.98 176.7M442.01 147.9L444.12 152.7M459.42 152.7L468.12 155.1M496.1 183.9L498.21 188.7M448.34 162.3L454.94 159.9M478.94 162.3L481.05 167.1M430.41 191.1L432.53 195.9M487.91 147.9L494.5 145.5M496.35 167.1L505.06 169.5M457.31 147.9L463.9 145.5M439.38 176.7L441.49 181.5M439.64 159.9L448.34 162.3M450.2 183.9L456.79 181.5M500.58 176.7L502.69 181.5M445.71 191.1L452.31 188.7M476.31 191.1L478.43 195.9M498.21 188.7L506.91 191.1M474.72 152.7L483.42 155.1M480.8 183.9L487.39 181.5M463.64 162.3L470.24 159.9M509.8 145.5L518.51 147.9M514.02 155.1L516.14 159.9M430.67 174.3L439.38 176.7M434.9 183.9L437.01 188.7M471.83 198.3L478.43 195.9M444.12 152.7L452.82 155.1M448.34 162.3L450.45 167.1M500.84 159.9L509.54 162.3M487.91 147.9L490.02 152.7M471.83 198.3L473.94 203.1M457.31 147.9L459.42 152.7M445.71 191.1L447.83 195.9M441.23 198.3L447.83 195.9M487.39 181.5L496.1 183.9M456.53 198.3L463.13 195.9M489.76 169.5L496.35 167.1M452.82 155.1L454.94 159.9M470.24 159.9L478.94 162.3M483.42 155.1L485.54 159.9M494.24 162.3L500.84 159.9M463.13 195.9L471.83 198.3M437.01 188.7L445.71 191.1M441.23 198.3L443.34 203.1M515.88 176.7L517.99 181.5M435.15 167.1L443.86 169.5M485.28 176.7L491.87 174.3M445.97 174.3L454.68 176.7M505.32 152.7L514.02 155.1M448.6 145.5L457.31 147.9M511.4 183.9L513.51 188.7M463.64 162.3L465.75 167.1M493.73 195.9L502.43 198.3M485.54 159.9L494.24 162.3M507.17 174.3L515.88 176.7M437.52 155.1L444.12 152.7M506.91 191.1L513.51 188.7M459.16 169.5L465.75 167.1M433.04 162.3L439.64 159.9M503.21 147.9L509.8 145.5M467.61 188.7L476.31 191.1M481.05 167.1L489.76 169.5M454.94 159.9L463.64 162.3M443.86 169.5L445.97 174.3M494.24 162.3L496.35 167.1M459.16 169.5L461.27 174.3M472.09 181.5L480.8 183.9M485.28 176.7L487.39 181.5M496.1 183.9L502.69 181.5M503.21 147.9L505.32 152.7M454.68 176.7L461.27 174.3M480.8 183.9L482.91 188.7M502.43 198.3L504.54 203.1M432.53 195.9L441.23 198.3M491.61 191.1L498.21 188.7M498.72 155.1L505.32 152.7M472.61 147.9L479.2 145.5M502.69 181.5L511.4 183.9M517.73 198.3L519.84 203.1M465.5 183.9L472.09 181.5M506.91 191.1L509.03 195.9M433.04 162.3L435.15 167.1M443.86 169.5L450.45 167.1M494.5 145.5L503.21 147.9M498.72 155.1L500.84 159.9M468.12 155.1L474.72 152.7M450.2 183.9L452.31 188.7M450.45 167.1L459.16 169.5M509.54 162.3L516.14 159.9M433.3 145.5L442.01 147.9M478.94 162.3L485.54 159.9M454.68 176.7L456.79 181.5M461.01 191.1L467.61 188.7M491.61 191.1L493.73 195.9M487.13 198.3L493.73 195.9M491.87 174.3L500.58 176.7M483.42 155.1L490.02 152.7M452.31 188.7L461.01 191.1M509.03 195.9L517.73 198.3M482.91 188.7L491.61 191.1M487.13 198.3L489.24 203.1M490.02 152.7L498.72 155.1" stroke="#6e4a30" stroke-width="1.45" fill="none" stroke-linecap="round"/>
<path d="M463.9 145.5L472.61 147.9M468.12 155.1L470.24 159.9M509.54 162.3L511.65 167.1M434.9 183.9L441.49 181.5M442.01 147.9L448.6 145.5M479.2 145.5L487.91 147.9M441.49 181.5L450.2 183.9M456.79 181.5L465.5 183.9M461.01 191.1L463.13 195.9M430.41 191.1L437.01 188.7M505.06 169.5L511.65 167.1M469.98 176.7L472.09 181.5M439.38 176.7L445.97 174.3M456.53 198.3L458.64 203.1M489.76 169.5L491.87 174.3M505.06 169.5L507.17 174.3M500.58 176.7L507.17 174.3M452.82 155.1L459.42 152.7M472.61 147.9L474.72 152.7M465.5 183.9L467.61 188.7M476.31 191.1L482.91 188.7M437.52 155.1L439.64 159.9M447.83 195.9L456.53 198.3M502.43 198.3L509.03 195.9M511.4 183.9L517.99 181.5M478.43 195.9L487.13 198.3M461.27 174.3L469.98 176.7M442.01 147.9L444.12 152.7M459.42 152.7L468.12 155.1M496.1 183.9L498.21 188.7M448.34 162.3L454.94 159.9M478.94 162.3L481.05 167.1M430.41 191.1L432.53 195.9M487.91 147.9L494.5 145.5M496.35 167.1L505.06 169.5M457.31 147.9L463.9 145.5M439.38 176.7L441.49 181.5M439.64 159.9L448.34 162.3M450.2 183.9L456.79 181.5M500.58 176.7L502.69 181.5M445.71 191.1L452.31 188.7M476.31 191.1L478.43 195.9M498.21 188.7L506.91 191.1M474.72 152.7L483.42 155.1M480.8 183.9L487.39 181.5M463.64 162.3L470.24 159.9M509.8 145.5L518.51 147.9M514.02 155.1L516.14 159.9M430.67 174.3L439.38 176.7M434.9 183.9L437.01 188.7M471.83 198.3L478.43 195.9M444.12 152.7L452.82 155.1M448.34 162.3L450.45 167.1M500.84 159.9L509.54 162.3M487.91 147.9L490.02 152.7M471.83 198.3L473.94 203.1M457.31 147.9L459.42 152.7M445.71 191.1L447.83 195.9M441.23 198.3L447.83 195.9M487.39 181.5L496.1 183.9M456.53 198.3L463.13 195.9M489.76 169.5L496.35 167.1M452.82 155.1L454.94 159.9M470.24 159.9L478.94 162.3M483.42 155.1L485.54 159.9M494.24 162.3L500.84 159.9M463.13 195.9L471.83 198.3M437.01 188.7L445.71 191.1M441.23 198.3L443.34 203.1M515.88 176.7L517.99 181.5M435.15 167.1L443.86 169.5M485.28 176.7L491.87 174.3M445.97 174.3L454.68 176.7M505.32 152.7L514.02 155.1M448.6 145.5L457.31 147.9M511.4 183.9L513.51 188.7M463.64 162.3L465.75 167.1M493.73 195.9L502.43 198.3M485.54 159.9L494.24 162.3M507.17 174.3L515.88 176.7M437.52 155.1L444.12 152.7M506.91 191.1L513.51 188.7M459.16 169.5L465.75 167.1M433.04 162.3L439.64 159.9M503.21 147.9L509.8 145.5M467.61 188.7L476.31 191.1M481.05 167.1L489.76 169.5M454.94 159.9L463.64 162.3M443.86 169.5L445.97 174.3M494.24 162.3L496.35 167.1M459.16 169.5L461.27 174.3M472.09 181.5L480.8 183.9M485.28 176.7L487.39 181.5M496.1 183.9L502.69 181.5M503.21 147.9L505.32 152.7M454.68 176.7L461.27 174.3M480.8 183.9L482.91 188.7M502.43 198.3L504.54 203.1M432.53 195.9L441.23 198.3M491.61 191.1L498.21 188.7M498.72 155.1L505.32 152.7M472.61 147.9L479.2 145.5M502.69 181.5L511.4 183.9M517.73 198.3L519.84 203.1M465.5 183.9L472.09 181.5M506.91 191.1L509.03 195.9M433.04 162.3L435.15 167.1M443.86 169.5L450.45 167.1M494.5 145.5L503.21 147.9M498.72 155.1L500.84 159.9M468.12 155.1L474.72 152.7M450.2 183.9L452.31 188.7M450.45 167.1L459.16 169.5M509.54 162.3L516.14 159.9M433.3 145.5L442.01 147.9M478.94 162.3L485.54 159.9M454.68 176.7L456.79 181.5M461.01 191.1L467.61 188.7M491.61 191.1L493.73 195.9M487.13 198.3L493.73 195.9M491.87 174.3L500.58 176.7M483.42 155.1L490.02 152.7M452.31 188.7L461.01 191.1M509.03 195.9L517.73 198.3M482.91 188.7L491.61 191.1M487.13 198.3L489.24 203.1M490.02 152.7L498.72 155.1" stroke="#9a7256" stroke-width="0.65" fill="none" stroke-linecap="round"/>
<g fill="url(#gC3)"><circle cx="433.3" cy="145.5" r="1.75"/><circle cx="448.6" cy="145.5" r="1.75"/><circle cx="463.9" cy="145.5" r="1.75"/><circle cx="479.2" cy="145.5" r="1.75"/><circle cx="494.5" cy="145.5" r="1.75"/><circle cx="509.8" cy="145.5" r="1.75"/><circle cx="442.01" cy="147.9" r="1.75"/><circle cx="457.31" cy="147.9" r="1.75"/><circle cx="472.61" cy="147.9" r="1.75"/><circle cx="487.91" cy="147.9" r="1.75"/><circle cx="503.21" cy="147.9" r="1.75"/><circle cx="518.51" cy="147.9" r="1.75"/><circle cx="444.12" cy="152.7" r="1.75"/><circle cx="459.42" cy="152.7" r="1.75"/><circle cx="474.72" cy="152.7" r="1.75"/><circle cx="490.02" cy="152.7" r="1.75"/><circle cx="505.32" cy="152.7" r="1.75"/><circle cx="437.52" cy="155.1" r="1.75"/><circle cx="452.82" cy="155.1" r="1.75"/><circle cx="468.12" cy="155.1" r="1.75"/><circle cx="483.42" cy="155.1" r="1.75"/><circle cx="498.72" cy="155.1" r="1.75"/><circle cx="514.02" cy="155.1" r="1.75"/><circle cx="439.64" cy="159.9" r="1.75"/><circle cx="454.94" cy="159.9" r="1.75"/><circle cx="470.24" cy="159.9" r="1.75"/><circle cx="485.54" cy="159.9" r="1.75"/><circle cx="500.84" cy="159.9" r="1.75"/><circle cx="516.14" cy="159.9" r="1.75"/><circle cx="433.04" cy="162.3" r="1.75"/><circle cx="448.34" cy="162.3" r="1.75"/><circle cx="463.64" cy="162.3" r="1.75"/><circle cx="478.94" cy="162.3" r="1.75"/><circle cx="494.24" cy="162.3" r="1.75"/><circle cx="509.54" cy="162.3" r="1.75"/><circle cx="435.15" cy="167.1" r="1.75"/><circle cx="450.45" cy="167.1" r="1.75"/><circle cx="465.75" cy="167.1" r="1.75"/><circle cx="481.05" cy="167.1" r="1.75"/><circle cx="496.35" cy="167.1" r="1.75"/><circle cx="511.65" cy="167.1" r="1.75"/><circle cx="443.86" cy="169.5" r="1.75"/><circle cx="459.16" cy="169.5" r="1.75"/><circle cx="489.76" cy="169.5" r="1.75"/><circle cx="505.06" cy="169.5" r="1.75"/><circle cx="430.67" cy="174.3" r="1.75"/><circle cx="445.97" cy="174.3" r="1.75"/><circle cx="461.27" cy="174.3" r="1.75"/><circle cx="491.87" cy="174.3" r="1.75"/><circle cx="507.17" cy="174.3" r="1.75"/><circle cx="439.38" cy="176.7" r="1.75"/><circle cx="454.68" cy="176.7" r="1.75"/><circle cx="469.98" cy="176.7" r="1.75"/><circle cx="485.28" cy="176.7" r="1.75"/><circle cx="500.58" cy="176.7" r="1.75"/><circle cx="515.88" cy="176.7" r="1.75"/><circle cx="441.49" cy="181.5" r="1.75"/><circle cx="456.79" cy="181.5" r="1.75"/><circle cx="472.09" cy="181.5" r="1.75"/><circle cx="487.39" cy="181.5" r="1.75"/><circle cx="502.69" cy="181.5" r="1.75"/><circle cx="517.99" cy="181.5" r="1.75"/><circle cx="434.9" cy="183.9" r="1.75"/><circle cx="450.2" cy="183.9" r="1.75"/><circle cx="465.5" cy="183.9" r="1.75"/><circle cx="480.8" cy="183.9" r="1.75"/><circle cx="496.1" cy="183.9" r="1.75"/><circle cx="511.4" cy="183.9" r="1.75"/><circle cx="437.01" cy="188.7" r="1.75"/><circle cx="452.31" cy="188.7" r="1.75"/><circle cx="467.61" cy="188.7" r="1.75"/><circle cx="482.91" cy="188.7" r="1.75"/><circle cx="498.21" cy="188.7" r="1.75"/><circle cx="513.51" cy="188.7" r="1.75"/><circle cx="430.41" cy="191.1" r="1.75"/><circle cx="445.71" cy="191.1" r="1.75"/><circle cx="461.01" cy="191.1" r="1.75"/><circle cx="476.31" cy="191.1" r="1.75"/><circle cx="491.61" cy="191.1" r="1.75"/><circle cx="506.91" cy="191.1" r="1.75"/><circle cx="432.53" cy="195.9" r="1.75"/><circle cx="447.83" cy="195.9" r="1.75"/><circle cx="463.13" cy="195.9" r="1.75"/><circle cx="478.43" cy="195.9" r="1.75"/><circle cx="493.73" cy="195.9" r="1.75"/><circle cx="509.03" cy="195.9" r="1.75"/><circle cx="441.23" cy="198.3" r="1.75"/><circle cx="456.53" cy="198.3" r="1.75"/><circle cx="471.83" cy="198.3" r="1.75"/><circle cx="487.13" cy="198.3" r="1.75"/><circle cx="502.43" cy="198.3" r="1.75"/><circle cx="517.73" cy="198.3" r="1.75"/><circle cx="443.34" cy="203.1" r="1.75"/><circle cx="458.64" cy="203.1" r="1.75"/><circle cx="473.94" cy="203.1" r="1.75"/><circle cx="489.24" cy="203.1" r="1.75"/><circle cx="504.54" cy="203.1" r="1.75"/><circle cx="519.84" cy="203.1" r="1.75"/></g>
<path d="M475.2 171.4L465.3 167M475.2 171.4L481.4 167M475.2 171.4L469 175.8M475.2 171.4L485 175.8" stroke="#c8a050" stroke-width="0.9" fill="none"/>
<circle cx="465.3" cy="167" r="1.7" fill="url(#gN)"/>
<circle cx="481.4" cy="167" r="1.7" fill="url(#gN)"/>
<circle cx="469" cy="175.8" r="1.7" fill="url(#gN)"/>
<circle cx="485" cy="175.8" r="1.7" fill="url(#gN)"/>
<circle cx="475.2" cy="171.4" r="2.6" fill="url(#gFe)"/>
</g>
<ellipse cx="476" cy="173.4" rx="35" ry="36.1" fill="none" stroke="#cc861c" stroke-width="2.1"/>
<text x="394.8" y="228.2" font-size="13" fill="#b8781a" text-anchor="start">without SiO<tspan font-size="9" dy="3">2</tspan></text>
<clipPath id="cb2"><circle cx="625.65" cy="93.25" r="37.45"/></clipPath>
<g clip-path="url(#cb2)">
<path d="M653.2 65.1L662.43 67.5M631.69 72.3L640.92 74.7M657.32 74.7L659.39 79.5M642.99 79.5L652.22 81.9M641.9 57.9L651.13 60.3M603.02 81.9L610.19 79.5M616.38 93.9L625.61 96.3M604.11 103.5L606.17 108.3M651.13 60.3L658.3 57.9M623.44 53.1L625.5 57.9M634.73 60.3L641.9 57.9M639.84 53.1L647 50.7M655.37 108.3L664.6 110.7M662.43 67.5L664.49 72.3M623.44 53.1L630.6 50.7M636.91 103.5L644.08 101.1M646.03 67.5L648.09 72.3M591.72 74.7L598.89 72.3M582.49 72.3L591.72 74.7M621.48 86.7L630.72 89.1M614.32 89.1L616.38 93.9M604 65.1L613.23 67.5M656.24 53.1L663.4 50.7M653.31 103.5L655.37 108.3M637.88 86.7L647.12 89.1M599 110.7L606.17 108.3M673.72 74.7L675.79 79.5M669.71 103.5L676.88 101.1M664.49 72.3L673.72 74.7M631.8 110.7L638.97 108.3M601.93 60.3L609.1 57.9M640.92 74.7L648.09 72.3M596.83 67.5L598.89 72.3M660.48 101.1L669.71 103.5M630.72 89.1L632.78 93.9M609.21 96.3L616.38 93.9M613.23 67.5L620.4 65.1M634.73 60.3L636.8 65.1M588.68 86.7L597.92 89.1M587.71 103.5L589.77 108.3M642.01 96.3L644.08 101.1M619.42 81.9L621.48 86.7M580.43 67.5L582.49 72.3M672.64 53.1L679.8 50.7M632.78 93.9L642.01 96.3M648.2 110.7L655.37 108.3M649.18 93.9L658.41 96.3M614.2 50.7L623.44 53.1M582.6 110.7L589.77 108.3M629.63 67.5L636.8 65.1M581.4 50.7L590.64 53.1M607.04 53.1L609.1 57.9M669.6 65.1L678.83 67.5M587.71 103.5L594.88 101.1M667.53 60.3L669.6 65.1M583.58 93.9L592.81 96.3M658.41 96.3L665.58 93.9M598.89 72.3L608.12 74.7M667.53 60.3L674.7 57.9M591.72 74.7L593.79 79.5M622.57 108.3L631.8 110.7M630.6 50.7L639.84 53.1M590.64 53.1L597.8 50.7M647 50.7L656.24 53.1M659.39 79.5L668.62 81.9M646.03 67.5L653.2 65.1M609.1 57.9L618.33 60.3M601.93 60.3L604 65.1M625.5 57.9L634.73 60.3M657.32 74.7L664.49 72.3M599.98 93.9L609.21 96.3M586.62 81.9L588.68 86.7M597.92 89.1L599.98 93.9M586.62 81.9L593.79 79.5M652.22 81.9L654.28 86.7M648.09 72.3L657.32 74.7M636.8 65.1L646.03 67.5M597.92 89.1L605.08 86.7M596.83 67.5L604 65.1M672.64 53.1L674.7 57.9M630.72 89.1L637.88 86.7M663.52 89.1L665.58 93.9M629.63 67.5L631.69 72.3M618.33 60.3L620.4 65.1M620.4 65.1L629.63 67.5M625.61 96.3L627.68 101.1M585.53 60.3L592.7 57.9M665.58 93.9L674.81 96.3M610.19 79.5L619.42 81.9M605.08 86.7L614.32 89.1M644.08 101.1L653.31 103.5M592.81 96.3L599.98 93.9M627.68 101.1L636.91 103.5M668.62 81.9L670.68 86.7M640.92 74.7L642.99 79.5M606.17 108.3L615.4 110.7M670.68 86.7L679.92 89.1M608.12 74.7L615.29 72.3M620.51 103.5L627.68 101.1M607.04 53.1L614.2 50.7M664.6 110.7L671.77 108.3M603.02 81.9L605.08 86.7M654.28 86.7L663.52 89.1M615.4 110.7L622.57 108.3M658.41 96.3L660.48 101.1M663.52 89.1L670.68 86.7M647.12 89.1L654.28 86.7M635.82 81.9L637.88 86.7M636.91 103.5L638.97 108.3M613.23 67.5L615.29 72.3M662.43 67.5L669.6 65.1M674.81 96.3L676.88 101.1M638.97 108.3L648.2 110.7M590.64 53.1L592.7 57.9M604.11 103.5L611.28 101.1M594.88 101.1L604.11 103.5M635.82 81.9L642.99 79.5M669.71 103.5L671.77 108.3M663.4 50.7L672.64 53.1M587.6 65.1L596.83 67.5M581.52 89.1L588.68 86.7M614.32 89.1L621.48 86.7M653.31 103.5L660.48 101.1M620.51 103.5L622.57 108.3M609.21 96.3L611.28 101.1M639.84 53.1L641.9 57.9M658.3 57.9L667.53 60.3M611.28 101.1L620.51 103.5M652.22 81.9L659.39 79.5M656.24 53.1L658.3 57.9M647.12 89.1L649.18 93.9M597.8 50.7L607.04 53.1M585.53 60.3L587.6 65.1M589.77 108.3L599 110.7M651.13 60.3L653.2 65.1M592.81 96.3L594.88 101.1M581.52 89.1L583.58 93.9M618.33 60.3L625.5 57.9M625.61 96.3L632.78 93.9M608.12 74.7L610.19 79.5M592.7 57.9L601.93 60.3M642.01 96.3L649.18 93.9M580.43 67.5L587.6 65.1M593.79 79.5L603.02 81.9M668.62 81.9L675.79 79.5" stroke="#6e4a30" stroke-width="1.45" fill="none" stroke-linecap="round"/>
<path d="M653.2 65.1L662.43 67.5M631.69 72.3L640.92 74.7M657.32 74.7L659.39 79.5M642.99 79.5L652.22 81.9M641.9 57.9L651.13 60.3M603.02 81.9L610.19 79.5M616.38 93.9L625.61 96.3M604.11 103.5L606.17 108.3M651.13 60.3L658.3 57.9M623.44 53.1L625.5 57.9M634.73 60.3L641.9 57.9M639.84 53.1L647 50.7M655.37 108.3L664.6 110.7M662.43 67.5L664.49 72.3M623.44 53.1L630.6 50.7M636.91 103.5L644.08 101.1M646.03 67.5L648.09 72.3M591.72 74.7L598.89 72.3M582.49 72.3L591.72 74.7M621.48 86.7L630.72 89.1M614.32 89.1L616.38 93.9M604 65.1L613.23 67.5M656.24 53.1L663.4 50.7M653.31 103.5L655.37 108.3M637.88 86.7L647.12 89.1M599 110.7L606.17 108.3M673.72 74.7L675.79 79.5M669.71 103.5L676.88 101.1M664.49 72.3L673.72 74.7M631.8 110.7L638.97 108.3M601.93 60.3L609.1 57.9M640.92 74.7L648.09 72.3M596.83 67.5L598.89 72.3M660.48 101.1L669.71 103.5M630.72 89.1L632.78 93.9M609.21 96.3L616.38 93.9M613.23 67.5L620.4 65.1M634.73 60.3L636.8 65.1M588.68 86.7L597.92 89.1M587.71 103.5L589.77 108.3M642.01 96.3L644.08 101.1M619.42 81.9L621.48 86.7M580.43 67.5L582.49 72.3M672.64 53.1L679.8 50.7M632.78 93.9L642.01 96.3M648.2 110.7L655.37 108.3M649.18 93.9L658.41 96.3M614.2 50.7L623.44 53.1M582.6 110.7L589.77 108.3M629.63 67.5L636.8 65.1M581.4 50.7L590.64 53.1M607.04 53.1L609.1 57.9M669.6 65.1L678.83 67.5M587.71 103.5L594.88 101.1M667.53 60.3L669.6 65.1M583.58 93.9L592.81 96.3M658.41 96.3L665.58 93.9M598.89 72.3L608.12 74.7M667.53 60.3L674.7 57.9M591.72 74.7L593.79 79.5M622.57 108.3L631.8 110.7M630.6 50.7L639.84 53.1M590.64 53.1L597.8 50.7M647 50.7L656.24 53.1M659.39 79.5L668.62 81.9M646.03 67.5L653.2 65.1M609.1 57.9L618.33 60.3M601.93 60.3L604 65.1M625.5 57.9L634.73 60.3M657.32 74.7L664.49 72.3M599.98 93.9L609.21 96.3M586.62 81.9L588.68 86.7M597.92 89.1L599.98 93.9M586.62 81.9L593.79 79.5M652.22 81.9L654.28 86.7M648.09 72.3L657.32 74.7M636.8 65.1L646.03 67.5M597.92 89.1L605.08 86.7M596.83 67.5L604 65.1M672.64 53.1L674.7 57.9M630.72 89.1L637.88 86.7M663.52 89.1L665.58 93.9M629.63 67.5L631.69 72.3M618.33 60.3L620.4 65.1M620.4 65.1L629.63 67.5M625.61 96.3L627.68 101.1M585.53 60.3L592.7 57.9M665.58 93.9L674.81 96.3M610.19 79.5L619.42 81.9M605.08 86.7L614.32 89.1M644.08 101.1L653.31 103.5M592.81 96.3L599.98 93.9M627.68 101.1L636.91 103.5M668.62 81.9L670.68 86.7M640.92 74.7L642.99 79.5M606.17 108.3L615.4 110.7M670.68 86.7L679.92 89.1M608.12 74.7L615.29 72.3M620.51 103.5L627.68 101.1M607.04 53.1L614.2 50.7M664.6 110.7L671.77 108.3M603.02 81.9L605.08 86.7M654.28 86.7L663.52 89.1M615.4 110.7L622.57 108.3M658.41 96.3L660.48 101.1M663.52 89.1L670.68 86.7M647.12 89.1L654.28 86.7M635.82 81.9L637.88 86.7M636.91 103.5L638.97 108.3M613.23 67.5L615.29 72.3M662.43 67.5L669.6 65.1M674.81 96.3L676.88 101.1M638.97 108.3L648.2 110.7M590.64 53.1L592.7 57.9M604.11 103.5L611.28 101.1M594.88 101.1L604.11 103.5M635.82 81.9L642.99 79.5M669.71 103.5L671.77 108.3M663.4 50.7L672.64 53.1M587.6 65.1L596.83 67.5M581.52 89.1L588.68 86.7M614.32 89.1L621.48 86.7M653.31 103.5L660.48 101.1M620.51 103.5L622.57 108.3M609.21 96.3L611.28 101.1M639.84 53.1L641.9 57.9M658.3 57.9L667.53 60.3M611.28 101.1L620.51 103.5M652.22 81.9L659.39 79.5M656.24 53.1L658.3 57.9M647.12 89.1L649.18 93.9M597.8 50.7L607.04 53.1M585.53 60.3L587.6 65.1M589.77 108.3L599 110.7M651.13 60.3L653.2 65.1M592.81 96.3L594.88 101.1M581.52 89.1L583.58 93.9M618.33 60.3L625.5 57.9M625.61 96.3L632.78 93.9M608.12 74.7L610.19 79.5M592.7 57.9L601.93 60.3M642.01 96.3L649.18 93.9M580.43 67.5L587.6 65.1M593.79 79.5L603.02 81.9M668.62 81.9L675.79 79.5" stroke="#9a7256" stroke-width="0.65" fill="none" stroke-linecap="round"/>
<g fill="url(#gC3)"><circle cx="581.4" cy="50.7" r="1.75"/><circle cx="597.8" cy="50.7" r="1.75"/><circle cx="614.2" cy="50.7" r="1.75"/><circle cx="630.6" cy="50.7" r="1.75"/><circle cx="647" cy="50.7" r="1.75"/><circle cx="663.4" cy="50.7" r="1.75"/><circle cx="679.8" cy="50.7" r="1.75"/><circle cx="590.64" cy="53.1" r="1.75"/><circle cx="607.04" cy="53.1" r="1.75"/><circle cx="623.44" cy="53.1" r="1.75"/><circle cx="639.84" cy="53.1" r="1.75"/><circle cx="656.24" cy="53.1" r="1.75"/><circle cx="672.64" cy="53.1" r="1.75"/><circle cx="592.7" cy="57.9" r="1.75"/><circle cx="609.1" cy="57.9" r="1.75"/><circle cx="625.5" cy="57.9" r="1.75"/><circle cx="641.9" cy="57.9" r="1.75"/><circle cx="658.3" cy="57.9" r="1.75"/><circle cx="674.7" cy="57.9" r="1.75"/><circle cx="585.53" cy="60.3" r="1.75"/><circle cx="601.93" cy="60.3" r="1.75"/><circle cx="618.33" cy="60.3" r="1.75"/><circle cx="634.73" cy="60.3" r="1.75"/><circle cx="651.13" cy="60.3" r="1.75"/><circle cx="667.53" cy="60.3" r="1.75"/><circle cx="587.6" cy="65.1" r="1.75"/><circle cx="604" cy="65.1" r="1.75"/><circle cx="620.4" cy="65.1" r="1.75"/><circle cx="636.8" cy="65.1" r="1.75"/><circle cx="653.2" cy="65.1" r="1.75"/><circle cx="669.6" cy="65.1" r="1.75"/><circle cx="580.43" cy="67.5" r="1.75"/><circle cx="596.83" cy="67.5" r="1.75"/><circle cx="613.23" cy="67.5" r="1.75"/><circle cx="629.63" cy="67.5" r="1.75"/><circle cx="646.03" cy="67.5" r="1.75"/><circle cx="662.43" cy="67.5" r="1.75"/><circle cx="678.83" cy="67.5" r="1.75"/><circle cx="582.49" cy="72.3" r="1.75"/><circle cx="598.89" cy="72.3" r="1.75"/><circle cx="615.29" cy="72.3" r="1.75"/><circle cx="631.69" cy="72.3" r="1.75"/><circle cx="648.09" cy="72.3" r="1.75"/><circle cx="664.49" cy="72.3" r="1.75"/><circle cx="591.72" cy="74.7" r="1.75"/><circle cx="608.12" cy="74.7" r="1.75"/><circle cx="640.92" cy="74.7" r="1.75"/><circle cx="657.32" cy="74.7" r="1.75"/><circle cx="673.72" cy="74.7" r="1.75"/><circle cx="593.79" cy="79.5" r="1.75"/><circle cx="610.19" cy="79.5" r="1.75"/><circle cx="642.99" cy="79.5" r="1.75"/><circle cx="659.39" cy="79.5" r="1.75"/><circle cx="675.79" cy="79.5" r="1.75"/><circle cx="586.62" cy="81.9" r="1.75"/><circle cx="603.02" cy="81.9" r="1.75"/><circle cx="619.42" cy="81.9" r="1.75"/><circle cx="635.82" cy="81.9" r="1.75"/><circle cx="652.22" cy="81.9" r="1.75"/><circle cx="668.62" cy="81.9" r="1.75"/><circle cx="588.68" cy="86.7" r="1.75"/><circle cx="605.08" cy="86.7" r="1.75"/><circle cx="621.48" cy="86.7" r="1.75"/><circle cx="637.88" cy="86.7" r="1.75"/><circle cx="654.28" cy="86.7" r="1.75"/><circle cx="670.68" cy="86.7" r="1.75"/><circle cx="581.52" cy="89.1" r="1.75"/><circle cx="597.92" cy="89.1" r="1.75"/><circle cx="614.32" cy="89.1" r="1.75"/><circle cx="630.72" cy="89.1" r="1.75"/><circle cx="647.12" cy="89.1" r="1.75"/><circle cx="663.52" cy="89.1" r="1.75"/><circle cx="679.92" cy="89.1" r="1.75"/><circle cx="583.58" cy="93.9" r="1.75"/><circle cx="599.98" cy="93.9" r="1.75"/><circle cx="616.38" cy="93.9" r="1.75"/><circle cx="632.78" cy="93.9" r="1.75"/><circle cx="649.18" cy="93.9" r="1.75"/><circle cx="665.58" cy="93.9" r="1.75"/><circle cx="592.81" cy="96.3" r="1.75"/><circle cx="609.21" cy="96.3" r="1.75"/><circle cx="625.61" cy="96.3" r="1.75"/><circle cx="642.01" cy="96.3" r="1.75"/><circle cx="658.41" cy="96.3" r="1.75"/><circle cx="674.81" cy="96.3" r="1.75"/><circle cx="594.88" cy="101.1" r="1.75"/><circle cx="611.28" cy="101.1" r="1.75"/><circle cx="627.68" cy="101.1" r="1.75"/><circle cx="644.08" cy="101.1" r="1.75"/><circle cx="660.48" cy="101.1" r="1.75"/><circle cx="676.88" cy="101.1" r="1.75"/><circle cx="587.71" cy="103.5" r="1.75"/><circle cx="604.11" cy="103.5" r="1.75"/><circle cx="620.51" cy="103.5" r="1.75"/><circle cx="636.91" cy="103.5" r="1.75"/><circle cx="653.31" cy="103.5" r="1.75"/><circle cx="669.71" cy="103.5" r="1.75"/><circle cx="589.77" cy="108.3" r="1.75"/><circle cx="606.17" cy="108.3" r="1.75"/><circle cx="622.57" cy="108.3" r="1.75"/><circle cx="638.97" cy="108.3" r="1.75"/><circle cx="655.37" cy="108.3" r="1.75"/><circle cx="671.77" cy="108.3" r="1.75"/><circle cx="582.6" cy="110.7" r="1.75"/><circle cx="599" cy="110.7" r="1.75"/><circle cx="615.4" cy="110.7" r="1.75"/><circle cx="631.8" cy="110.7" r="1.75"/><circle cx="648.2" cy="110.7" r="1.75"/><circle cx="664.6" cy="110.7" r="1.75"/></g>
<path d="M621.9 100.75L618.6 101M628.7 100.75L632.2 101M630.7 101.8L636.2 103.1M623.25 105.55L621.3 110.6M624.65 95.8L624.1 91.1M614.45 104.25L618.6 101M607.25 107.95L604.2 108.4M615.8 109.05L621.3 110.6M614.9 110.35L619.5 113.2M608.6 112.1L604.2 108.4M617.15 113.2L621.3 110.6M616.25 114.5L619.5 113.2M607.3 116.9L601.6 118M614.3 117.8L615.6 119.8M612.55 121.5L612.1 127.2M625.45 113.85L621.3 110.6M624.55 115.15L619.5 113.2M631.35 117.55L633.1 118M634.65 117.1L639.7 117.1M629.15 122.8L628.7 128.5M644.3 114.5L639.7 117.1M647.1 108.85L645.3 105.8M649.75 108.85L650.6 105.8M649.3 114.3L649.7 116.7M645.8 113.65L642.7 115.4M650.4 115.4L651.9 118.9M633.3 123.25L633.1 118M636.6 122.8L639.7 117.1M631.1 128.5L628.7 128.5M615.6 124.6L615.6 119.8M613.85 128.3L612.1 127.2M636.8 104.7L632.2 101M638.8 105.75L636.2 103.1M637.25 113.2L633.1 118M640.55 112.75L639.7 117.1M643.35 107.1L645.3 105.8M646 107.1L650.6 105.8M645.55 112.55L649.7 116.7M642.05 111.9L642.7 115.4" stroke="#e01818" stroke-width="1.4" fill="none"/>
<path d="M625.2 100.5L621.9 100.75M625.2 100.5L628.7 100.75M625.2 100.5L630.7 101.8M625.2 100.5L623.25 105.55M625.2 100.5L624.65 95.8M610.3 107.5L614.45 104.25M610.3 107.5L607.25 107.95M610.3 107.5L615.8 109.05M610.3 107.5L614.9 110.35M613 115.8L608.6 112.1M613 115.8L617.15 113.2M613 115.8L616.25 114.5M613 115.8L607.3 116.9M613 115.8L614.3 117.8M613 115.8L612.55 121.5M629.6 117.1L625.45 113.85M629.6 117.1L624.55 115.15M629.6 117.1L631.35 117.55M629.6 117.1L634.65 117.1M629.6 117.1L629.15 122.8M648.9 111.9L644.3 114.5M648.9 111.9L647.1 108.85M648.9 111.9L649.75 108.85M648.9 111.9L649.3 114.3M648.9 111.9L645.8 113.65M648.9 111.9L650.4 115.4M633.5 128.5L633.3 123.25M633.5 128.5L636.6 122.8M633.5 128.5L631.1 128.5M615.6 129.4L615.6 124.6M615.6 129.4L613.85 128.3M641.4 108.4L636.8 104.7M641.4 108.4L638.8 105.75M641.4 108.4L637.25 113.2M641.4 108.4L640.55 112.75M641.4 108.4L643.35 107.1M641.4 108.4L646 107.1M641.4 108.4L645.55 112.55M641.4 108.4L642.05 111.9" stroke="#2a40e0" stroke-width="1.4" fill="none"/>
<circle cx="605.1" cy="105.3" r="1.9" fill="url(#gC3)"/>
<circle cx="607.7" cy="110.1" r="1.9" fill="url(#gC3)"/>
<circle cx="622.1" cy="104.9" r="1.9" fill="url(#gC3)"/>
<circle cx="624.3" cy="110.1" r="1.9" fill="url(#gC3)"/>
<circle cx="640.5" cy="110.1" r="1.9" fill="url(#gC3)"/>
<circle cx="618.6" cy="101" r="1.8" fill="url(#gO)"/>
<circle cx="632.2" cy="101" r="1.8" fill="url(#gO)"/>
<circle cx="636.2" cy="103.1" r="1.8" fill="url(#gO)"/>
<circle cx="604.2" cy="108.4" r="1.8" fill="url(#gO)"/>
<circle cx="621.3" cy="110.6" r="1.8" fill="url(#gO)"/>
<circle cx="619.5" cy="113.2" r="1.8" fill="url(#gO)"/>
<circle cx="601.6" cy="118" r="1.8" fill="url(#gO)"/>
<circle cx="615.6" cy="119.8" r="1.8" fill="url(#gO)"/>
<circle cx="633.1" cy="118" r="1.8" fill="url(#gO)"/>
<circle cx="639.7" cy="117.1" r="1.8" fill="url(#gO)"/>
<circle cx="645.3" cy="105.8" r="1.8" fill="url(#gO)"/>
<circle cx="650.6" cy="105.8" r="1.8" fill="url(#gO)"/>
<circle cx="649.7" cy="116.7" r="1.8" fill="url(#gO)"/>
<circle cx="612.1" cy="127.2" r="1.8" fill="url(#gO)"/>
<circle cx="628.7" cy="128.5" r="1.8" fill="url(#gO)"/>
<circle cx="642.7" cy="115.4" r="1.8" fill="url(#gO)"/>
<circle cx="651.9" cy="118.9" r="1.8" fill="url(#gO)"/>
<circle cx="624.1" cy="91.1" r="1.8" fill="url(#gO)"/>
<circle cx="625.2" cy="100.5" r="2.5" fill="url(#gSi)"/>
<circle cx="610.3" cy="107.5" r="2.5" fill="url(#gSi)"/>
<circle cx="613" cy="115.8" r="2.5" fill="url(#gSi)"/>
<circle cx="629.6" cy="117.1" r="2.5" fill="url(#gSi)"/>
<circle cx="648.9" cy="111.9" r="2.5" fill="url(#gSi)"/>
<circle cx="633.5" cy="128.5" r="2.5" fill="url(#gSi)"/>
<circle cx="615.6" cy="129.4" r="2.5" fill="url(#gSi)"/>
<circle cx="641.4" cy="108.4" r="2.5" fill="url(#gSi)"/>
<path d="M625.5 79.1L615 72.5M625.5 79.1L632.8 72.5M625.5 79.1L619.3 82M625.5 79.1L637.2 82" stroke="#c8a050" stroke-width="0.9" fill="none"/>
<line x1="625.5" y1="79.1" x2="624.1" y2="91.1" stroke="#c89040" stroke-width="1"/>
<circle cx="615" cy="72.5" r="1.7" fill="url(#gN)"/>
<circle cx="632.8" cy="72.5" r="1.7" fill="url(#gN)"/>
<circle cx="619.3" cy="82" r="1.7" fill="url(#gN)"/>
<circle cx="637.2" cy="82" r="1.7" fill="url(#gN)"/>
<circle cx="625.5" cy="79.1" r="2.6" fill="url(#gFe)"/>
</g>
<circle cx="625.65" cy="93.25" r="38.45" fill="none" stroke="#1a24f0" stroke-width="2.3"/>
<text x="604.3" y="150.3" font-size="13" fill="#1a2ef0" text-anchor="start">with SiO<tspan font-size="9" dy="3">2</tspan></text>
<text x="4.8" y="285.8" font-size="17.5" fill="#000" text-anchor="start">c</text>
<clipPath id="clc"><rect x="20.1" y="279.7" width="303.6" height="240.6"/></clipPath>
<rect x="20.1" y="279.7" width="303.6" height="240.6" fill="none" stroke="#2a2a2a" stroke-width="1.3"/>
<line x1="20.1" y1="520.3" x2="20.1" y2="524.3" stroke="#2a2a2a" stroke-width="1.2"/>
<text x="19.8" y="540.2" font-size="13" fill="#111" text-anchor="middle">-3</text>
<line x1="96" y1="520.3" x2="96" y2="524.3" stroke="#2a2a2a" stroke-width="1.2"/>
<text x="95.7" y="540.2" font-size="13" fill="#111" text-anchor="middle">-2</text>
<line x1="171.9" y1="520.3" x2="171.9" y2="524.3" stroke="#2a2a2a" stroke-width="1.2"/>
<text x="171.6" y="540.2" font-size="13" fill="#111" text-anchor="middle">-1</text>
<line x1="247.8" y1="520.3" x2="247.8" y2="524.3" stroke="#2a2a2a" stroke-width="1.2"/>
<text x="247.5" y="540.2" font-size="13" fill="#111" text-anchor="middle">0</text>
<line x1="323.7" y1="520.3" x2="323.7" y2="524.3" stroke="#2a2a2a" stroke-width="1.2"/>
<text x="323.4" y="540.2" font-size="13" fill="#111" text-anchor="middle">1</text>
<line x1="247.8" y1="280.7" x2="247.8" y2="519.3" stroke="#d8d8d8" stroke-width="0.6" stroke-dasharray="1 2"/>
<text transform="translate(12.4 393.6) rotate(-90)" font-size="17.2" text-anchor="middle" fill="#111">PDOS</text>
<text x="172" y="553.8" font-size="17.5" fill="#111" text-anchor="middle">Energy (eV)</text>
<g clip-path="url(#clc)">
<path d="M20 406.8 L34.24 406.8 L54.39 406.79 L78.51 406.78 L104.62 406.77 L130.79 406.76 L155.05 406.76 L175.44 406.78 L190 406.8 L198.59 406.83 L203.01 406.85 L204.22 406.88 L203.19 406.93 L200.88 406.98 L198.27 407.06 L196.32 407.16 L196 407.3 L196.83 407.49 L197.69 407.72 L198.57 408 L199.46 408.29 L200.36 408.58 L201.25 408.86 L202.14 409.1 L203 409.3 L203.83 409.46 L204.64 409.6 L205.43 409.73 L206.21 409.83 L207.01 409.91 L207.83 409.97 L208.69 410 L209.6 410 L210.55 409.97 L211.54 409.9 L212.55 409.81 L213.59 409.69 L214.65 409.56 L215.75 409.41 L216.86 409.26 L218 409.1 L219.19 408.93 L220.46 408.73 L221.76 408.51 L223.09 408.29 L224.4 408.06 L225.67 407.85 L226.88 407.66 L228 407.5 L228.93 407.36 L229.66 407.25 L230.27 407.14 L230.88 407.05 L231.55 406.97 L232.41 406.9 L233.52 406.85 L235 406.8 L236.95 406.76 L239.32 406.74 L241.99 406.73 L244.81 406.73 L247.66 406.73 L250.4 406.75 L252.89 406.77 L255 406.8 L256.75 406.83 L258.27 406.87 L259.61 406.91 L260.81 406.96 L261.91 407.02 L262.95 407.09 L263.96 407.19 L265 407.3 L266.03 407.45 L267 407.63 L267.92 407.83 L268.8 408.05 L269.64 408.27 L270.45 408.47 L271.23 408.65 L272 408.8 L272.72 408.92 L273.37 409.02 L273.97 409.11 L274.55 409.19 L275.14 409.24 L275.76 409.28 L276.44 409.3 L277.2 409.3 L278 409.27 L278.8 409.2 L279.62 409.12 L280.49 409.01 L281.43 408.9 L282.48 408.79 L283.66 408.69 L285 408.6 L286.47 408.53 L288.04 408.45 L289.72 408.38 L291.51 408.31 L293.42 408.25 L295.47 408.19 L297.66 408.14 L300 408.1 L302.71 408.07 L305.87 408.04 L309.29 408.03 L312.79 408.02 L316.17 408.01 L319.24 408.01 L321.81 408 L323.7 408" fill="none" stroke="#111111" stroke-width="1.4" stroke-linejoin="round"/>
<line x1="20.1" y1="407.3" x2="323.7" y2="407.3" stroke="#a020e0" stroke-width="1.4"/>
<path d="M20.1 406.3 L20.6 406.3 L21.1 406.3 L21.6 406.3 L22.1 406.3 L22.6 406.3 L23.1 406.3 L23.6 406.3 L24.1 406.3 L24.6 406.3 L25.1 406.3 L25.6 406.3 L26.1 406.3 L26.6 406.3 L27.1 406.3 L27.6 406.3 L28.1 406.3 L28.6 406.3 L29.1 406.3 L29.6 406.3 L30.1 406.3 L30.6 406.3 L31.1 406.3 L31.6 406.3 L32.1 406.3 L32.6 406.3 L33.1 406.3 L33.6 406.3 L34.1 406.3 L34.6 406.3 L35.1 406.3 L35.6 406.3 L36.1 406.3 L36.6 406.3 L37.1 406.3 L37.6 406.3 L38.1 406.3 L38.6 406.3 L39.1 406.3 L39.6 406.3 L40.1 406.3 L40.6 406.3 L41.1 406.3 L41.6 406.3 L42.1 406.3 L42.6 406.3 L43.1 406.3 L43.6 406.3 L44.1 406.3 L44.6 406.3 L45.1 406.3 L45.6 406.3 L46.1 406.3 L46.6 406.3 L47.1 406.3 L47.6 406.3 L48.1 406.3 L48.6 406.3 L49.1 406.3 L49.6 406.3 L50.1 406.3 L50.6 406.3 L51.1 406.3 L51.6 406.3 L52.1 406.3 L52.6 406.3 L53.1 406.3 L53.6 406.3 L54.1 406.3 L54.6 406.3 L55.1 406.3 L55.6 406.3 L56.1 406.3 L56.6 406.3 L57.1 406.3 L57.6 406.3 L58.1 406.3 L58.6 406.3 L59.1 406.3 L59.6 406.3 L60.1 406.3 L60.6 406.3 L61.1 406.3 L61.6 406.3 L62.1 406.3 L62.6 406.3 L63.1 406.3 L63.6 406.3 L64.1 406.3 L64.6 406.3 L65.1 406.3 L65.6 406.3 L66.1 406.3 L66.6 406.3 L67.1 406.3 L67.6 406.3 L68.1 406.3 L68.6 406.3 L69.1 406.3 L69.6 406.3 L70.1 406.3 L70.6 406.3 L71.1 406.3 L71.6 406.3 L72.1 406.3 L72.6 406.3 L73.1 406.3 L73.6 406.3 L74.1 406.3 L74.6 406.3 L75.1 406.3 L75.6 406.3 L76.1 406.3 L76.6 406.3 L77.1 406.3 L77.6 406.3 L78.1 406.3 L78.6 406.3 L79.1 406.3 L79.6 406.3 L80.1 406.3 L80.6 406.3 L81.1 406.3 L81.6 406.3 L82.1 406.3 L82.6 406.3 L83.1 406.3 L83.6 406.3 L84.1 406.3 L84.6 406.3 L85.1 406.3 L85.6 406.3 L86.1 406.3 L86.6 406.3 L87.1 406.3 L87.6 406.3 L88.1 406.3 L88.6 406.3 L89.1 406.3 L89.6 406.3 L90.1 406.3 L90.6 406.3 L91.1 406.3 L91.6 406.3 L92.1 406.3 L92.6 406.3 L93.1 406.3 L93.6 406.3 L94.1 406.3 L94.6 406.3 L95.1 406.3 L95.6 406.3 L96.1 406.3 L96.6 406.3 L97.1 406.3 L97.6 406.3 L98.1 406.3 L98.6 406.3 L99.1 406.3 L99.6 406.3 L100.1 406.3 L100.6 406.3 L101.1 406.3 L101.6 406.3 L102.1 406.3 L102.6 406.3 L103.1 406.3 L103.6 406.3 L104.1 406.3 L104.6 406.3 L105.1 406.3 L105.6 406.3 L106.1 406.3 L106.6 406.3 L107.1 406.3 L107.6 406.3 L108.1 406.3 L108.6 406.3 L109.1 406.3 L109.6 406.3 L110.1 406.3 L110.6 406.3 L111.1 406.3 L111.6 406.3 L112.1 406.3 L112.6 406.3 L113.1 406.3 L113.6 406.3 L114.1 406.3 L114.6 406.3 L115.1 406.3 L115.6 406.3 L116.1 406.3 L116.6 406.3 L117.1 406.3 L117.6 406.3 L118.1 406.3 L118.6 406.3 L119.1 406.3 L119.6 406.3 L120.1 406.3 L120.6 406.3 L121.1 406.3 L121.6 406.3 L122.1 406.3 L122.6 406.3 L123.1 406.3 L123.6 406.3 L124.1 406.3 L124.6 406.3 L125.1 406.3 L125.6 406.29 L126.1 406.29 L126.6 406.29 L127.1 406.29 L127.6 406.29 L128.1 406.28 L128.6 406.28 L129.1 406.27 L129.6 406.27 L130.1 406.26 L130.6 406.25 L131.1 406.24 L131.6 406.23 L132.1 406.21 L132.6 406.19 L133.1 406.17 L133.6 406.15 L134.1 406.12 L134.6 406.09 L135.1 406.05 L135.6 406 L136.1 405.95 L136.6 405.9 L137.1 405.83 L137.6 405.76 L138.1 405.67 L138.6 405.58 L139.1 405.47 L139.6 405.36 L140.1 405.23 L140.6 405.09 L141.1 404.93 L141.6 404.76 L142.1 404.57 L142.6 404.37 L143.1 404.16 L143.6 403.93 L144.1 403.68 L144.6 403.42 L145.1 403.15 L145.6 402.86 L146.1 402.56 L146.6 402.25 L147.1 401.93 L147.6 401.6 L148.1 401.26 L148.6 400.92 L149.1 400.58 L149.6 400.24 L150.1 399.91 L150.6 399.58 L151.1 399.26 L151.6 398.95 L152.1 398.66 L152.6 398.39 L153.1 398.13 L153.6 397.9 L154.1 397.7 L154.6 397.52 L155.1 397.37 L155.6 397.25 L156.1 397.17 L156.6 397.12 L157.1 397.1 L157.6 397.12 L158.1 397.17 L158.6 397.25 L159.1 397.37 L159.6 397.52 L160.1 397.7 L160.6 397.9 L161.1 398.13 L161.6 398.39 L162.1 398.66 L162.6 398.95 L163.1 399.26 L163.6 399.58 L164.1 399.91 L164.6 400.24 L165.1 400.58 L165.6 400.92 L166.1 401.26 L166.6 401.6 L167.1 401.93 L167.6 402.25 L168.1 402.56 L168.6 402.86 L169.1 403.15 L169.6 403.42 L170.1 403.68 L170.6 403.93 L171.1 404.16 L171.6 404.37 L172.1 404.57 L172.6 404.76 L173.1 404.93 L173.6 405.09 L174.1 405.23 L174.6 405.36 L175.1 405.47 L175.6 405.58 L176.1 405.67 L176.6 405.76 L177.1 405.83 L177.6 405.9 L178.1 405.95 L178.6 406 L179.1 406.05 L179.6 406.09 L180.1 406.12 L180.6 406.15 L181.1 406.17 L181.6 406.19 L182.1 406.21 L182.6 406.23 L183.1 406.24 L183.6 406.25 L184.1 406.26 L184.6 406.27 L185.1 406.27 L185.6 406.28 L186.1 406.28 L186.6 406.29 L187.1 406.29 L187.6 406.29 L188.1 406.29 L188.6 406.29 L189.1 406.3 L189.6 406.3 L190.1 406.3 L190.6 406.3 L191.1 406.3 L191.6 406.3 L192.1 406.3 L192.6 406.3 L193.1 406.3 L193.6 406.3 L194.1 406.3 L194.6 406.3 L195.1 406.3 L195.6 406.3 L196.1 406.3 L196.6 406.3 L197.1 406.3 L197.6 406.3 L198.1 406.3 L198.6 406.3 L199.1 406.3 L199.6 406.3 L200.1 406.3 L200.6 406.3 L201.1 406.3 L201.6 406.3 L202.1 406.3 L202.6 406.3 L203.1 406.3 L203.6 406.3 L204.1 406.3 L204.6 406.3 L205.1 406.3 L205.6 406.3 L206.1 406.3 L206.6 406.3 L207.1 406.3 L207.6 406.3 L208.1 406.3 L208.6 406.3 L209.1 406.3 L209.6 406.3 L210.1 406.3 L210.6 406.3 L211.1 406.3 L211.6 406.3 L212.1 406.3 L212.6 406.3 L213.1 406.3 L213.6 406.3 L214.1 406.3 L214.6 406.3 L215.1 406.3 L215.6 406.3 L216.1 406.3 L216.6 406.3 L217.1 406.3 L217.6 406.3 L218.1 406.3 L218.6 406.3 L219.1 406.3 L219.6 406.3 L220.1 406.3 L220.6 406.3 L221.1 406.3 L221.6 406.3 L222.1 406.3 L222.6 406.3 L223.1 406.3 L223.6 406.3 L224.1 406.3 L224.6 406.3 L225.1 406.3 L225.6 406.3 L226.1 406.3 L226.6 406.3 L227.1 406.3 L227.6 406.3 L228.1 406.3 L228.6 406.3 L229.1 406.3 L229.6 406.3 L230.1 406.3 L230.6 406.3 L231.1 406.3 L231.6 406.3 L232.1 406.3 L232.6 406.3 L233.1 406.3 L233.6 406.3 L234.1 406.3 L234.6 406.3 L235.1 406.3 L235.6 406.3 L236.1 406.3 L236.6 406.3 L237.1 406.3 L237.6 406.3 L238.1 406.3 L238.6 406.3 L239.1 406.3 L239.6 406.3 L240.1 406.3 L240.6 406.3 L241.1 406.3 L241.6 406.3 L242.1 406.3 L242.6 406.3 L243.1 406.3 L243.6 406.3 L244.1 406.3 L244.6 406.3 L245.1 406.3 L245.6 406.3 L246.1 406.3 L246.6 406.3 L247.1 406.3 L247.6 406.3 L248.1 406.3 L248.6 406.3 L249.1 406.3 L249.6 406.3 L250.1 406.3 L250.6 406.3 L251.1 406.3 L251.6 406.3 L252.1 406.3 L252.6 406.3 L253.1 406.3 L253.6 406.3 L254.1 406.3 L254.6 406.3 L255.1 406.3 L255.6 406.3 L256.1 406.3 L256.6 406.3 L257.1 406.3 L257.6 406.3 L258.1 406.3 L258.6 406.3 L259.1 406.3 L259.6 406.3 L260.1 406.3 L260.6 406.3 L261.1 406.3 L261.6 406.3 L262.1 406.3 L262.6 406.3 L263.1 406.3 L263.6 406.3 L264.1 406.3 L264.6 406.3 L265.1 406.3 L265.6 406.3 L266.1 406.3 L266.6 406.3 L267.1 406.3 L267.6 406.3 L268.1 406.3 L268.6 406.3 L269.1 406.3 L269.6 406.3 L270.1 406.3 L270.6 406.3 L271.1 406.3 L271.6 406.3 L272.1 406.3 L272.6 406.3 L273.1 406.3 L273.6 406.3 L274.1 406.3 L274.6 406.3 L275.1 406.3 L275.6 406.3 L276.1 406.3 L276.6 406.3 L277.1 406.3 L277.6 406.3 L278.1 406.3 L278.6 406.3 L279.1 406.3 L279.6 406.3 L280.1 406.3 L280.6 406.3 L281.1 406.3 L281.6 406.3 L282.1 406.3 L282.6 406.3 L283.1 406.3 L283.6 406.3 L284.1 406.3 L284.6 406.3 L285.1 406.3 L285.6 406.3 L286.1 406.3 L286.6 406.3 L287.1 406.3 L287.6 406.3 L288.1 406.3 L288.6 406.3 L289.1 406.3 L289.6 406.3 L290.1 406.3 L290.6 406.3 L291.1 406.3 L291.6 406.3 L292.1 406.3 L292.6 406.3 L293.1 406.3 L293.6 406.3 L294.1 406.3 L294.6 406.3 L295.1 406.3 L295.6 406.3 L296.1 406.3 L296.6 406.3 L297.1 406.3 L297.6 406.3 L298.1 406.3 L298.6 406.3 L299.1 406.3 L299.6 406.3 L300.1 406.3 L300.6 406.3 L301.1 406.3 L301.6 406.3 L302.1 406.3 L302.6 406.3 L303.1 406.3 L303.6 406.3 L304.1 406.3 L304.6 406.3 L305.1 406.3 L305.6 406.3 L306.1 406.3 L306.6 406.3 L307.1 406.3 L307.6 406.3 L308.1 406.3 L308.6 406.3 L309.1 406.3 L309.6 406.3 L310.1 406.3 L310.6 406.3 L311.1 406.3 L311.6 406.3 L312.1 406.3 L312.6 406.3 L313.1 406.3 L313.6 406.3 L314.1 406.3 L314.6 406.3 L315.1 406.3 L315.6 406.3 L316.1 406.3 L316.6 406.3 L317.1 406.3 L317.6 406.3 L318.1 406.3 L318.6 406.3 L319.1 406.3 L319.6 406.3 L320.1 406.3 L320.6 406.3 L321.1 406.3 L321.6 406.3 L322.1 406.3 L322.6 406.3 L323.1 406.3 L323.6 406.3" fill="none" stroke="#2438f0" stroke-width="1.4" stroke-linejoin="round"/>
<path d="M20.1 406.3 L20.6 406.3 L21.1 406.3 L21.6 406.3 L22.1 406.3 L22.6 406.3 L23.1 406.3 L23.6 406.3 L24.1 406.3 L24.6 406.3 L25.1 406.3 L25.6 406.3 L26.1 406.3 L26.6 406.3 L27.1 406.3 L27.6 406.3 L28.1 406.3 L28.6 406.3 L29.1 406.3 L29.6 406.3 L30.1 406.3 L30.6 406.3 L31.1 406.3 L31.6 406.3 L32.1 406.3 L32.6 406.3 L33.1 406.3 L33.6 406.3 L34.1 406.3 L34.6 406.3 L35.1 406.3 L35.6 406.3 L36.1 406.3 L36.6 406.3 L37.1 406.3 L37.6 406.3 L38.1 406.3 L38.6 406.3 L39.1 406.3 L39.6 406.3 L40.1 406.3 L40.6 406.3 L41.1 406.3 L41.6 406.3 L42.1 406.3 L42.6 406.3 L43.1 406.3 L43.6 406.3 L44.1 406.3 L44.6 406.3 L45.1 406.3 L45.6 406.3 L46.1 406.3 L46.6 406.3 L47.1 406.3 L47.6 406.3 L48.1 406.3 L48.6 406.3 L49.1 406.3 L49.6 406.3 L50.1 406.3 L50.6 406.3 L51.1 406.3 L51.6 406.3 L52.1 406.3 L52.6 406.3 L53.1 406.3 L53.6 406.3 L54.1 406.3 L54.6 406.3 L55.1 406.3 L55.6 406.3 L56.1 406.3 L56.6 406.3 L57.1 406.3 L57.6 406.3 L58.1 406.3 L58.6 406.3 L59.1 406.3 L59.6 406.3 L60.1 406.3 L60.6 406.3 L61.1 406.3 L61.6 406.3 L62.1 406.3 L62.6 406.3 L63.1 406.3 L63.6 406.3 L64.1 406.3 L64.6 406.3 L65.1 406.3 L65.6 406.3 L66.1 406.3 L66.6 406.3 L67.1 406.3 L67.6 406.3 L68.1 406.3 L68.6 406.3 L69.1 406.3 L69.6 406.3 L70.1 406.3 L70.6 406.3 L71.1 406.3 L71.6 406.3 L72.1 406.3 L72.6 406.3 L73.1 406.3 L73.6 406.3 L74.1 406.3 L74.6 406.3 L75.1 406.3 L75.6 406.3 L76.1 406.3 L76.6 406.3 L77.1 406.3 L77.6 406.3 L78.1 406.3 L78.6 406.3 L79.1 406.3 L79.6 406.3 L80.1 406.3 L80.6 406.3 L81.1 406.3 L81.6 406.3 L82.1 406.3 L82.6 406.3 L83.1 406.3 L83.6 406.3 L84.1 406.3 L84.6 406.3 L85.1 406.3 L85.6 406.3 L86.1 406.3 L86.6 406.3 L87.1 406.3 L87.6 406.3 L88.1 406.3 L88.6 406.3 L89.1 406.3 L89.6 406.3 L90.1 406.3 L90.6 406.3 L91.1 406.3 L91.6 406.3 L92.1 406.3 L92.6 406.3 L93.1 406.3 L93.6 406.3 L94.1 406.3 L94.6 406.3 L95.1 406.3 L95.6 406.3 L96.1 406.3 L96.6 406.3 L97.1 406.3 L97.6 406.3 L98.1 406.3 L98.6 406.3 L99.1 406.3 L99.6 406.3 L100.1 406.3 L100.6 406.3 L101.1 406.3 L101.6 406.3 L102.1 406.3 L102.6 406.3 L103.1 406.3 L103.6 406.3 L104.1 406.3 L104.6 406.3 L105.1 406.3 L105.6 406.3 L106.1 406.3 L106.6 406.3 L107.1 406.3 L107.6 406.3 L108.1 406.3 L108.6 406.3 L109.1 406.3 L109.6 406.3 L110.1 406.3 L110.6 406.3 L111.1 406.3 L111.6 406.3 L112.1 406.3 L112.6 406.3 L113.1 406.3 L113.6 406.3 L114.1 406.3 L114.6 406.3 L115.1 406.3 L115.6 406.3 L116.1 406.3 L116.6 406.3 L117.1 406.3 L117.6 406.3 L118.1 406.3 L118.6 406.3 L119.1 406.3 L119.6 406.3 L120.1 406.3 L120.6 406.3 L121.1 406.3 L121.6 406.3 L122.1 406.3 L122.6 406.3 L123.1 406.3 L123.6 406.3 L124.1 406.3 L124.6 406.3 L125.1 406.3 L125.6 406.3 L126.1 406.3 L126.6 406.3 L127.1 406.3 L127.6 406.3 L128.1 406.3 L128.6 406.29 L129.1 406.29 L129.6 406.29 L130.1 406.29 L130.6 406.28 L131.1 406.28 L131.6 406.27 L132.1 406.27 L132.6 406.26 L133.1 406.25 L133.6 406.24 L134.1 406.23 L134.6 406.21 L135.1 406.19 L135.6 406.17 L136.1 406.14 L136.6 406.11 L137.1 406.08 L137.6 406.03 L138.1 405.99 L138.6 405.93 L139.1 405.87 L139.6 405.79 L140.1 405.71 L140.6 405.62 L141.1 405.52 L141.6 405.4 L142.1 405.27 L142.6 405.13 L143.1 404.98 L143.6 404.81 L144.1 404.62 L144.6 404.43 L145.1 404.22 L145.6 403.99 L146.1 403.75 L146.6 403.5 L147.1 403.24 L147.6 402.97 L148.1 402.69 L148.6 402.4 L149.1 402.11 L149.6 401.81 L150.1 401.52 L150.6 401.22 L151.1 400.94 L151.6 400.66 L152.1 400.39 L152.6 400.14 L153.1 399.9 L153.6 399.69 L154.1 399.49 L154.6 399.32 L155.1 399.18 L155.6 399.06 L156.1 398.98 L156.6 398.92 L157.1 398.9 L157.6 398.91 L158.1 398.95 L158.6 399.02 L159.1 399.13 L159.6 399.26 L160.1 399.42 L160.6 399.6 L161.1 399.81 L161.6 400.04 L162.1 400.29 L162.6 400.55 L163.1 400.83 L163.6 401.11 L164.1 401.4 L164.6 401.69 L165.1 401.99 L165.6 402.28 L166.1 402.57 L166.6 402.86 L167.1 403.13 L167.6 403.4 L168.1 403.65 L168.6 403.9 L169.1 404.13 L169.6 404.34 L170.1 404.55 L170.6 404.74 L171.1 404.91 L171.6 405.07 L172.1 405.22 L172.6 405.35 L173.1 405.47 L173.6 405.58 L174.1 405.68 L174.6 405.76 L175.1 405.84 L175.6 405.91 L176.1 405.96 L176.6 406.02 L177.1 406.06 L177.6 406.1 L178.1 406.13 L178.6 406.16 L179.1 406.18 L179.6 406.2 L180.1 406.22 L180.6 406.24 L181.1 406.25 L181.6 406.26 L182.1 406.27 L182.6 406.27 L183.1 406.28 L183.6 406.28 L184.1 406.29 L184.6 406.29 L185.1 406.29 L185.6 406.29 L186.1 406.29 L186.6 406.3 L187.1 406.3 L187.6 406.3 L188.1 406.3 L188.6 406.3 L189.1 406.3 L189.6 406.3 L190.1 406.3 L190.6 406.3 L191.1 406.3 L191.6 406.3 L192.1 406.3 L192.6 406.3 L193.1 406.3 L193.6 406.3 L194.1 406.3 L194.6 406.3 L195.1 406.3 L195.6 406.3 L196.1 406.3 L196.6 406.3 L197.1 406.3 L197.6 406.3 L198.1 406.3 L198.6 406.3 L199.1 406.3 L199.6 406.3 L200.1 406.3 L200.6 406.3 L201.1 406.3 L201.6 406.3 L202.1 406.3 L202.6 406.3 L203.1 406.3 L203.6 406.3 L204.1 406.3 L204.6 406.3 L205.1 406.3 L205.6 406.3 L206.1 406.3 L206.6 406.3 L207.1 406.3 L207.6 406.3 L208.1 406.3 L208.6 406.3 L209.1 406.3 L209.6 406.3 L210.1 406.3 L210.6 406.3 L211.1 406.3 L211.6 406.3 L212.1 406.3 L212.6 406.3 L213.1 406.3 L213.6 406.3 L214.1 406.3 L214.6 406.3 L215.1 406.3 L215.6 406.3 L216.1 406.3 L216.6 406.3 L217.1 406.3 L217.6 406.3 L218.1 406.3 L218.6 406.3 L219.1 406.3 L219.6 406.3 L220.1 406.3 L220.6 406.3 L221.1 406.3 L221.6 406.3 L222.1 406.3 L222.6 406.3 L223.1 406.3 L223.6 406.3 L224.1 406.3 L224.6 406.3 L225.1 406.3 L225.6 406.3 L226.1 406.3 L226.6 406.3 L227.1 406.3 L227.6 406.3 L228.1 406.3 L228.6 406.3 L229.1 406.3 L229.6 406.3 L230.1 406.3 L230.6 406.3 L231.1 406.3 L231.6 406.3 L232.1 406.3 L232.6 406.3 L233.1 406.3 L233.6 406.3 L234.1 406.3 L234.6 406.3 L235.1 406.3 L235.6 406.3 L236.1 406.3 L236.6 406.3 L237.1 406.3 L237.6 406.3 L238.1 406.3 L238.6 406.3 L239.1 406.3 L239.6 406.3 L240.1 406.3 L240.6 406.3 L241.1 406.3 L241.6 406.3 L242.1 406.3 L242.6 406.3 L243.1 406.3 L243.6 406.3 L244.1 406.3 L244.6 406.3 L245.1 406.3 L245.6 406.3 L246.1 406.3 L246.6 406.3 L247.1 406.3 L247.6 406.3 L248.1 406.3 L248.6 406.3 L249.1 406.3 L249.6 406.3 L250.1 406.3 L250.6 406.3 L251.1 406.3 L251.6 406.3 L252.1 406.3 L252.6 406.3 L253.1 406.3 L253.6 406.3 L254.1 406.3 L254.6 406.3 L255.1 406.3 L255.6 406.3 L256.1 406.3 L256.6 406.3 L257.1 406.3 L257.6 406.3 L258.1 406.3 L258.6 406.3 L259.1 406.3 L259.6 406.3 L260.1 406.3 L260.6 406.3 L261.1 406.3 L261.6 406.3 L262.1 406.3 L262.6 406.3 L263.1 406.3 L263.6 406.3 L264.1 406.3 L264.6 406.3 L265.1 406.3 L265.6 406.3 L266.1 406.3 L266.6 406.3 L267.1 406.3 L267.6 406.3 L268.1 406.3 L268.6 406.3 L269.1 406.3 L269.6 406.3 L270.1 406.3 L270.6 406.3 L271.1 406.3 L271.6 406.3 L272.1 406.3 L272.6 406.3 L273.1 406.3 L273.6 406.3 L274.1 406.3 L274.6 406.3 L275.1 406.3 L275.6 406.3 L276.1 406.3 L276.6 406.3 L277.1 406.3 L277.6 406.3 L278.1 406.3 L278.6 406.3 L279.1 406.3 L279.6 406.3 L280.1 406.3 L280.6 406.3 L281.1 406.3 L281.6 406.3 L282.1 406.3 L282.6 406.3 L283.1 406.3 L283.6 406.3 L284.1 406.3 L284.6 406.3 L285.1 406.3 L285.6 406.3 L286.1 406.3 L286.6 406.3 L287.1 406.3 L287.6 406.3 L288.1 406.3 L288.6 406.3 L289.1 406.3 L289.6 406.3 L290.1 406.3 L290.6 406.3 L291.1 406.3 L291.6 406.3 L292.1 406.3 L292.6 406.3 L293.1 406.3 L293.6 406.3 L294.1 406.3 L294.6 406.3 L295.1 406.3 L295.6 406.3 L296.1 406.3 L296.6 406.3 L297.1 406.3 L297.6 406.3 L298.1 406.3 L298.6 406.3 L299.1 406.3 L299.6 406.3 L300.1 406.3 L300.6 406.3 L301.1 406.3 L301.6 406.3 L302.1 406.3 L302.6 406.3 L303.1 406.3 L303.6 406.3 L304.1 406.3 L304.6 406.3 L305.1 406.3 L305.6 406.3 L306.1 406.3 L306.6 406.3 L307.1 406.3 L307.6 406.3 L308.1 406.3 L308.6 406.3 L309.1 406.3 L309.6 406.3 L310.1 406.3 L310.6 406.3 L311.1 406.3 L311.6 406.3 L312.1 406.3 L312.6 406.3 L313.1 406.3 L313.6 406.3 L314.1 406.3 L314.6 406.3 L315.1 406.3 L315.6 406.3 L316.1 406.3 L316.6 406.3 L317.1 406.3 L317.6 406.3 L318.1 406.3 L318.6 406.3 L319.1 406.3 L319.6 406.3 L320.1 406.3 L320.6 406.3 L321.1 406.3 L321.6 406.3 L322.1 406.3 L322.6 406.3 L323.1 406.3 L323.6 406.3" fill="none" stroke="#ffa8d8" stroke-width="1.3" stroke-linejoin="round"/>
<path d="M20.1 406.3 L20.6 406.3 L21.1 406.3 L21.6 406.3 L22.1 406.3 L22.6 406.3 L23.1 406.3 L23.6 406.3 L24.1 406.3 L24.6 406.3 L25.1 406.3 L25.6 406.3 L26.1 406.3 L26.6 406.3 L27.1 406.3 L27.6 406.3 L28.1 406.3 L28.6 406.3 L29.1 406.3 L29.6 406.3 L30.1 406.3 L30.6 406.3 L31.1 406.3 L31.6 406.3 L32.1 406.3 L32.6 406.3 L33.1 406.3 L33.6 406.3 L34.1 406.3 L34.6 406.3 L35.1 406.3 L35.6 406.3 L36.1 406.3 L36.6 406.3 L37.1 406.3 L37.6 406.3 L38.1 406.3 L38.6 406.3 L39.1 406.3 L39.6 406.3 L40.1 406.3 L40.6 406.3 L41.1 406.3 L41.6 406.3 L42.1 406.3 L42.6 406.3 L43.1 406.3 L43.6 406.3 L44.1 406.3 L44.6 406.3 L45.1 406.3 L45.6 406.3 L46.1 406.3 L46.6 406.3 L47.1 406.3 L47.6 406.3 L48.1 406.3 L48.6 406.3 L49.1 406.3 L49.6 406.3 L50.1 406.3 L50.6 406.3 L51.1 406.3 L51.6 406.3 L52.1 406.3 L52.6 406.3 L53.1 406.3 L53.6 406.3 L54.1 406.3 L54.6 406.3 L55.1 406.3 L55.6 406.3 L56.1 406.3 L56.6 406.3 L57.1 406.3 L57.6 406.3 L58.1 406.3 L58.6 406.3 L59.1 406.3 L59.6 406.3 L60.1 406.3 L60.6 406.3 L61.1 406.3 L61.6 406.3 L62.1 406.3 L62.6 406.3 L63.1 406.3 L63.6 406.3 L64.1 406.3 L64.6 406.3 L65.1 406.3 L65.6 406.3 L66.1 406.3 L66.6 406.3 L67.1 406.3 L67.6 406.3 L68.1 406.3 L68.6 406.3 L69.1 406.3 L69.6 406.3 L70.1 406.3 L70.6 406.3 L71.1 406.3 L71.6 406.3 L72.1 406.3 L72.6 406.3 L73.1 406.3 L73.6 406.3 L74.1 406.3 L74.6 406.3 L75.1 406.3 L75.6 406.3 L76.1 406.3 L76.6 406.3 L77.1 406.3 L77.6 406.3 L78.1 406.3 L78.6 406.3 L79.1 406.3 L79.6 406.3 L80.1 406.3 L80.6 406.3 L81.1 406.3 L81.6 406.3 L82.1 406.3 L82.6 406.3 L83.1 406.3 L83.6 406.3 L84.1 406.3 L84.6 406.3 L85.1 406.3 L85.6 406.3 L86.1 406.3 L86.6 406.3 L87.1 406.3 L87.6 406.3 L88.1 406.3 L88.6 406.3 L89.1 406.3 L89.6 406.3 L90.1 406.3 L90.6 406.3 L91.1 406.3 L91.6 406.3 L92.1 406.3 L92.6 406.3 L93.1 406.3 L93.6 406.3 L94.1 406.3 L94.6 406.3 L95.1 406.3 L95.6 406.3 L96.1 406.3 L96.6 406.3 L97.1 406.3 L97.6 406.3 L98.1 406.3 L98.6 406.3 L99.1 406.3 L99.6 406.3 L100.1 406.3 L100.6 406.3 L101.1 406.3 L101.6 406.3 L102.1 406.3 L102.6 406.3 L103.1 406.3 L103.6 406.3 L104.1 406.3 L104.6 406.3 L105.1 406.3 L105.6 406.3 L106.1 406.3 L106.6 406.3 L107.1 406.3 L107.6 406.3 L108.1 406.3 L108.6 406.3 L109.1 406.3 L109.6 406.3 L110.1 406.3 L110.6 406.3 L111.1 406.3 L111.6 406.3 L112.1 406.3 L112.6 406.3 L113.1 406.3 L113.6 406.3 L114.1 406.3 L114.6 406.3 L115.1 406.3 L115.6 406.3 L116.1 406.3 L116.6 406.3 L117.1 406.3 L117.6 406.3 L118.1 406.3 L118.6 406.3 L119.1 406.3 L119.6 406.3 L120.1 406.3 L120.6 406.3 L121.1 406.3 L121.6 406.3 L122.1 406.3 L122.6 406.3 L123.1 406.3 L123.6 406.29 L124.1 406.29 L124.6 406.29 L125.1 406.29 L125.6 406.28 L126.1 406.28 L126.6 406.27 L127.1 406.26 L127.6 406.25 L128.1 406.23 L128.6 406.21 L129.1 406.19 L129.6 406.16 L130.1 406.12 L130.6 406.07 L131.1 406.01 L131.6 405.94 L132.1 405.85 L132.6 405.74 L133.1 405.61 L133.6 405.45 L134.1 405.26 L134.6 405.03 L135.1 404.76 L135.6 404.43 L136.1 404.05 L136.6 403.6 L137.1 403.07 L137.6 402.46 L138.1 401.75 L138.6 400.93 L139.1 400 L139.6 398.93 L140.1 397.72 L140.6 396.36 L141.1 394.83 L141.6 393.12 L142.1 391.22 L142.6 389.12 L143.1 386.82 L143.6 384.3 L144.1 381.56 L144.6 378.6 L145.1 375.42 L145.6 372.03 L146.1 368.42 L146.6 364.62 L147.1 360.64 L147.6 356.48 L148.1 352.19 L148.6 347.78 L149.1 343.29 L149.6 338.74 L150.1 334.18 L150.6 329.64 L151.1 325.16 L151.6 320.8 L152.1 316.59 L152.6 312.59 L153.1 308.82 L153.6 305.34 L154.1 302.19 L154.6 299.41 L155.1 297.02 L155.6 295.06 L156.1 293.56 L156.6 292.53 L157.1 291.99 L157.6 291.94 L158.1 292.44 L158.6 293.48 L159.1 295.04 L159.6 297.12 L160.1 299.67 L160.6 302.66 L161.1 306.05 L161.6 309.8 L162.1 313.85 L162.6 318.16 L163.1 322.68 L163.6 327.34 L164.1 332.1 L164.6 336.91 L165.1 341.72 L165.6 346.49 L166.1 351.17 L166.6 355.73 L167.1 360.14 L167.6 364.36 L168.1 368.38 L168.6 372.18 L169.1 375.75 L169.6 379.08 L170.1 382.16 L170.6 384.99 L171.1 387.58 L171.6 389.94 L172.1 392.07 L172.6 393.98 L173.1 395.68 L173.6 397.2 L174.1 398.53 L174.6 399.71 L175.1 400.73 L175.6 401.61 L176.1 402.38 L176.6 403.03 L177.1 403.59 L177.6 404.07 L178.1 404.47 L178.6 404.8 L179.1 405.08 L179.6 405.31 L180.1 405.51 L180.6 405.66 L181.1 405.79 L181.6 405.9 L182.1 405.98 L182.6 406.05 L183.1 406.1 L183.6 406.15 L184.1 406.18 L184.6 406.21 L185.1 406.23 L185.6 406.25 L186.1 406.26 L186.6 406.27 L187.1 406.28 L187.6 406.28 L188.1 406.29 L188.6 406.29 L189.1 406.29 L189.6 406.29 L190.1 406.3 L190.6 406.3 L191.1 406.3 L191.6 406.3 L192.1 406.3 L192.6 406.3 L193.1 406.3 L193.6 406.3 L194.1 406.3 L194.6 406.3 L195.1 406.3 L195.6 406.3 L196.1 406.3 L196.6 406.3 L197.1 406.3 L197.6 406.3 L198.1 406.3 L198.6 406.3 L199.1 406.3 L199.6 406.3 L200.1 406.3 L200.6 406.3 L201.1 406.3 L201.6 406.3 L202.1 406.3 L202.6 406.3 L203.1 406.3 L203.6 406.3 L204.1 406.3 L204.6 406.3 L205.1 406.3 L205.6 406.3 L206.1 406.3 L206.6 406.3 L207.1 406.3 L207.6 406.3 L208.1 406.3 L208.6 406.3 L209.1 406.3 L209.6 406.3 L210.1 406.3 L210.6 406.3 L211.1 406.3 L211.6 406.3 L212.1 406.3 L212.6 406.3 L213.1 406.3 L213.6 406.3 L214.1 406.3 L214.6 406.3 L215.1 406.3 L215.6 406.3 L216.1 406.3 L216.6 406.3 L217.1 406.3 L217.6 406.3 L218.1 406.3 L218.6 406.3 L219.1 406.3 L219.6 406.3 L220.1 406.3 L220.6 406.3 L221.1 406.3 L221.6 406.3 L222.1 406.3 L222.6 406.3 L223.1 406.3 L223.6 406.3 L224.1 406.3 L224.6 406.3 L225.1 406.3 L225.6 406.3 L226.1 406.3 L226.6 406.3 L227.1 406.3 L227.6 406.3 L228.1 406.3 L228.6 406.3 L229.1 406.3 L229.6 406.3 L230.1 406.3 L230.6 406.3 L231.1 406.3 L231.6 406.3 L232.1 406.3 L232.6 406.3 L233.1 406.3 L233.6 406.3 L234.1 406.3 L234.6 406.3 L235.1 406.3 L235.6 406.3 L236.1 406.3 L236.6 406.3 L237.1 406.3 L237.6 406.3 L238.1 406.3 L238.6 406.3 L239.1 406.3 L239.6 406.3 L240.1 406.3 L240.6 406.3 L241.1 406.3 L241.6 406.3 L242.1 406.3 L242.6 406.3 L243.1 406.3 L243.6 406.3 L244.1 406.3 L244.6 406.3 L245.1 406.3 L245.6 406.3 L246.1 406.3 L246.6 406.3 L247.1 406.3 L247.6 406.3 L248.1 406.3 L248.6 406.3 L249.1 406.3 L249.6 406.3 L250.1 406.3 L250.6 406.3 L251.1 406.3 L251.6 406.3 L252.1 406.3 L252.6 406.3 L253.1 406.3 L253.6 406.3 L254.1 406.3 L254.6 406.3 L255.1 406.3 L255.6 406.3 L256.1 406.3 L256.6 406.3 L257.1 406.3 L257.6 406.3 L258.1 406.3 L258.6 406.3 L259.1 406.3 L259.6 406.3 L260.1 406.3 L260.6 406.3 L261.1 406.3 L261.6 406.3 L262.1 406.3 L262.6 406.3 L263.1 406.3 L263.6 406.3 L264.1 406.3 L264.6 406.3 L265.1 406.3 L265.6 406.3 L266.1 406.3 L266.6 406.3 L267.1 406.3 L267.6 406.3 L268.1 406.3 L268.6 406.3 L269.1 406.3 L269.6 406.3 L270.1 406.3 L270.6 406.3 L271.1 406.3 L271.6 406.3 L272.1 406.3 L272.6 406.3 L273.1 406.3 L273.6 406.3 L274.1 406.3 L274.6 406.3 L275.1 406.3 L275.6 406.3 L276.1 406.3 L276.6 406.3 L277.1 406.3 L277.6 406.3 L278.1 406.3 L278.6 406.3 L279.1 406.3 L279.6 406.3 L280.1 406.3 L280.6 406.3 L281.1 406.3 L281.6 406.3 L282.1 406.3 L282.6 406.3 L283.1 406.3 L283.6 406.3 L284.1 406.3 L284.6 406.3 L285.1 406.3 L285.6 406.3 L286.1 406.3 L286.6 406.3 L287.1 406.3 L287.6 406.3 L288.1 406.3 L288.6 406.3 L289.1 406.3 L289.6 406.3 L290.1 406.3 L290.6 406.3 L291.1 406.3 L291.6 406.3 L292.1 406.3 L292.6 406.3 L293.1 406.3 L293.6 406.3 L294.1 406.3 L294.6 406.3 L295.1 406.3 L295.6 406.3 L296.1 406.3 L296.6 406.3 L297.1 406.3 L297.6 406.3 L298.1 406.3 L298.6 406.3 L299.1 406.3 L299.6 406.3 L300.1 406.3 L300.6 406.3 L301.1 406.3 L301.6 406.3 L302.1 406.3 L302.6 406.3 L303.1 406.3 L303.6 406.3 L304.1 406.3 L304.6 406.3 L305.1 406.3 L305.6 406.3 L306.1 406.3 L306.6 406.3 L307.1 406.3 L307.6 406.3 L308.1 406.3 L308.6 406.3 L309.1 406.3 L309.6 406.3 L310.1 406.3 L310.6 406.3 L311.1 406.3 L311.6 406.3 L312.1 406.3 L312.6 406.3 L313.1 406.3 L313.6 406.3 L314.1 406.3 L314.6 406.3 L315.1 406.3 L315.6 406.3 L316.1 406.3 L316.6 406.3 L317.1 406.3 L317.6 406.3 L318.1 406.3 L318.6 406.3 L319.1 406.3 L319.6 406.3 L320.1 406.3 L320.6 406.3 L321.1 406.3 L321.6 406.3 L322.1 406.3 L322.6 406.3 L323.1 406.3 L323.6 406.3" fill="none" stroke="#ebae30" stroke-width="1.5" stroke-linejoin="round"/>
<path d="M20.1 406.1 L20.6 406.1 L21.1 406.1 L21.6 406.1 L22.1 406.1 L22.6 406.1 L23.1 406.1 L23.6 406.1 L24.1 406.1 L24.6 406.1 L25.1 406.1 L25.6 406.1 L26.1 406.1 L26.6 406.1 L27.1 406.1 L27.6 406.1 L28.1 406.1 L28.6 406.1 L29.1 406.1 L29.6 406.1 L30.1 406.1 L30.6 406.1 L31.1 406.1 L31.6 406.1 L32.1 406.1 L32.6 406.1 L33.1 406.1 L33.6 406.1 L34.1 406.1 L34.6 406.1 L35.1 406.1 L35.6 406.1 L36.1 406.1 L36.6 406.1 L37.1 406.1 L37.6 406.1 L38.1 406.1 L38.6 406.1 L39.1 406.1 L39.6 406.1 L40.1 406.1 L40.6 406.1 L41.1 406.1 L41.6 406.1 L42.1 406.1 L42.6 406.1 L43.1 406.1 L43.6 406.1 L44.1 406.1 L44.6 406.1 L45.1 406.1 L45.6 406.1 L46.1 406.1 L46.6 406.1 L47.1 406.1 L47.6 406.1 L48.1 406.1 L48.6 406.1 L49.1 406.1 L49.6 406.1 L50.1 406.1 L50.6 406.1 L51.1 406.1 L51.6 406.1 L52.1 406.1 L52.6 406.1 L53.1 406.1 L53.6 406.1 L54.1 406.1 L54.6 406.1 L55.1 406.1 L55.6 406.1 L56.1 406.1 L56.6 406.1 L57.1 406.1 L57.6 406.1 L58.1 406.1 L58.6 406.1 L59.1 406.1 L59.6 406.1 L60.1 406.1 L60.6 406.1 L61.1 406.1 L61.6 406.1 L62.1 406.1 L62.6 406.1 L63.1 406.1 L63.6 406.1 L64.1 406.1 L64.6 406.1 L65.1 406.1 L65.6 406.1 L66.1 406.1 L66.6 406.1 L67.1 406.1 L67.6 406.1 L68.1 406.1 L68.6 406.1 L69.1 406.1 L69.6 406.1 L70.1 406.1 L70.6 406.1 L71.1 406.1 L71.6 406.1 L72.1 406.1 L72.6 406.1 L73.1 406.1 L73.6 406.1 L74.1 406.1 L74.6 406.1 L75.1 406.1 L75.6 406.1 L76.1 406.1 L76.6 406.1 L77.1 406.1 L77.6 406.1 L78.1 406.1 L78.6 406.1 L79.1 406.1 L79.6 406.1 L80.1 406.1 L80.6 406.1 L81.1 406.1 L81.6 406.1 L82.1 406.1 L82.6 406.1 L83.1 406.1 L83.6 406.1 L84.1 406.1 L84.6 406.1 L85.1 406.1 L85.6 406.1 L86.1 406.1 L86.6 406.1 L87.1 406.1 L87.6 406.1 L88.1 406.1 L88.6 406.1 L89.1 406.1 L89.6 406.1 L90.1 406.1 L90.6 406.1 L91.1 406.1 L91.6 406.1 L92.1 406.1 L92.6 406.1 L93.1 406.1 L93.6 406.1 L94.1 406.1 L94.6 406.1 L95.1 406.1 L95.6 406.1 L96.1 406.1 L96.6 406.1 L97.1 406.1 L97.6 406.1 L98.1 406.1 L98.6 406.1 L99.1 406.1 L99.6 406.1 L100.1 406.1 L100.6 406.1 L101.1 406.1 L101.6 406.1 L102.1 406.1 L102.6 406.1 L103.1 406.1 L103.6 406.1 L104.1 406.1 L104.6 406.1 L105.1 406.1 L105.6 406.1 L106.1 406.1 L106.6 406.1 L107.1 406.1 L107.6 406.1 L108.1 406.1 L108.6 406.1 L109.1 406.1 L109.6 406.1 L110.1 406.1 L110.6 406.1 L111.1 406.1 L111.6 406.1 L112.1 406.1 L112.6 406.1 L113.1 406.1 L113.6 406.1 L114.1 406.1 L114.6 406.1 L115.1 406.1 L115.6 406.1 L116.1 406.1 L116.6 406.1 L117.1 406.1 L117.6 406.1 L118.1 406.1 L118.6 406.1 L119.1 406.1 L119.6 406.1 L120.1 406.1 L120.6 406.1 L121.1 406.1 L121.6 406.1 L122.1 406.1 L122.6 406.1 L123.1 406.1 L123.6 406.1 L124.1 406.1 L124.6 406.1 L125.1 406.1 L125.6 406.1 L126.1 406.1 L126.6 406.1 L127.1 406.09 L127.6 406.09 L128.1 406.09 L128.6 406.09 L129.1 406.08 L129.6 406.08 L130.1 406.07 L130.6 406.06 L131.1 406.05 L131.6 406.03 L132.1 406.01 L132.6 405.99 L133.1 405.96 L133.6 405.92 L134.1 405.87 L134.6 405.81 L135.1 405.74 L135.6 405.66 L136.1 405.55 L136.6 405.42 L137.1 405.27 L137.6 405.09 L138.1 404.87 L138.6 404.62 L139.1 404.32 L139.6 403.98 L140.1 403.57 L140.6 403.11 L141.1 402.58 L141.6 401.98 L142.1 401.3 L142.6 400.53 L143.1 399.67 L143.6 398.72 L144.1 397.66 L144.6 396.51 L145.1 395.25 L145.6 393.88 L146.1 392.41 L146.6 390.84 L147.1 389.18 L147.6 387.42 L148.1 385.58 L148.6 383.68 L149.1 381.72 L149.6 379.72 L150.1 377.7 L150.6 375.67 L151.1 373.66 L151.6 371.69 L152.1 369.77 L152.6 367.95 L153.1 366.22 L153.6 364.63 L154.1 363.19 L154.6 361.91 L155.1 360.83 L155.6 359.94 L156.1 359.27 L156.6 358.83 L157.1 358.62 L157.6 358.64 L158.1 358.9 L158.6 359.39 L159.1 360.1 L159.6 361.03 L160.1 362.15 L160.6 363.46 L161.1 364.94 L161.6 366.56 L162.1 368.3 L162.6 370.15 L163.1 372.08 L163.6 374.06 L164.1 376.07 L164.6 378.1 L165.1 380.12 L165.6 382.11 L166.1 384.07 L166.6 385.96 L167.1 387.78 L167.6 389.52 L168.1 391.16 L168.6 392.71 L169.1 394.16 L169.6 395.51 L170.1 396.75 L170.6 397.88 L171.1 398.92 L171.6 399.85 L172.1 400.69 L172.6 401.44 L173.1 402.11 L173.6 402.69 L174.1 403.21 L174.6 403.66 L175.1 404.05 L175.6 404.39 L176.1 404.67 L176.6 404.92 L177.1 405.13 L177.6 405.3 L178.1 405.45 L178.6 405.57 L179.1 405.67 L179.6 405.76 L180.1 405.83 L180.6 405.88 L181.1 405.93 L181.6 405.96 L182.1 405.99 L182.6 406.02 L183.1 406.04 L183.6 406.05 L184.1 406.06 L184.6 406.07 L185.1 406.08 L185.6 406.08 L186.1 406.09 L186.6 406.09 L187.1 406.09 L187.6 406.09 L188.1 406.1 L188.6 406.1 L189.1 406.1 L189.6 406.1 L190.1 406.1 L190.6 406.1 L191.1 406.1 L191.6 406.1 L192.1 406.1 L192.6 406.1 L193.1 406.1 L193.6 406.1 L194.1 406.1 L194.6 406.1 L195.1 406.1 L195.6 406.1 L196.1 406.1 L196.6 406.1 L197.1 406.1 L197.6 406.1 L198.1 406.1 L198.6 406.1 L199.1 406.1 L199.6 406.1 L200.1 406.1 L200.6 406.1 L201.1 406.1 L201.6 406.1 L202.1 406.1 L202.6 406.1 L203.1 406.1 L203.6 406.1 L204.1 406.1 L204.6 406.1 L205.1 406.1 L205.6 406.1 L206.1 406.1 L206.6 406.1 L207.1 406.1 L207.6 406.1 L208.1 406.1 L208.6 406.1 L209.1 406.1 L209.6 406.1 L210.1 406.1 L210.6 406.1 L211.1 406.1 L211.6 406.1 L212.1 406.1 L212.6 406.1 L213.1 406.1 L213.6 406.1 L214.1 406.1 L214.6 406.1 L215.1 406.1 L215.6 406.1 L216.1 406.1 L216.6 406.1 L217.1 406.1 L217.6 406.1 L218.1 406.1 L218.6 406.1 L219.1 406.1 L219.6 406.1 L220.1 406.1 L220.6 406.1 L221.1 406.1 L221.6 406.1 L222.1 406.1 L222.6 406.1 L223.1 406.1 L223.6 406.1 L224.1 406.1 L224.6 406.1 L225.1 406.1 L225.6 406.1 L226.1 406.1 L226.6 406.1 L227.1 406.1 L227.6 406.1 L228.1 406.1 L228.6 406.1 L229.1 406.1 L229.6 406.1 L230.1 406.1 L230.6 406.1 L231.1 406.1 L231.6 406.1 L232.1 406.1 L232.6 406.1 L233.1 406.1 L233.6 406.1 L234.1 406.1 L234.6 406.1 L235.1 406.1 L235.6 406.1 L236.1 406.1 L236.6 406.1 L237.1 406.1 L237.6 406.1 L238.1 406.1 L238.6 406.1 L239.1 406.1 L239.6 406.1 L240.1 406.1 L240.6 406.1 L241.1 406.1 L241.6 406.1 L242.1 406.1 L242.6 406.1 L243.1 406.1 L243.6 406.1 L244.1 406.1 L244.6 406.1 L245.1 406.1 L245.6 406.1 L246.1 406.1 L246.6 406.1 L247.1 406.1 L247.6 406.1 L248.1 406.1 L248.6 406.1 L249.1 406.1 L249.6 406.1 L250.1 406.1 L250.6 406.1 L251.1 406.1 L251.6 406.1 L252.1 406.1 L252.6 406.1 L253.1 406.1 L253.6 406.1 L254.1 406.1 L254.6 406.1 L255.1 406.1 L255.6 406.1 L256.1 406.1 L256.6 406.1 L257.1 406.1 L257.6 406.1 L258.1 406.1 L258.6 406.1 L259.1 406.1 L259.6 406.1 L260.1 406.1 L260.6 406.1 L261.1 406.1 L261.6 406.1 L262.1 406.1 L262.6 406.1 L263.1 406.1 L263.6 406.1 L264.1 406.1 L264.6 406.1 L265.1 406.1 L265.6 406.1 L266.1 406.1 L266.6 406.1 L267.1 406.1 L267.6 406.1 L268.1 406.1 L268.6 406.1 L269.1 406.1 L269.6 406.1 L270.1 406.1 L270.6 406.1 L271.1 406.1 L271.6 406.1 L272.1 406.1 L272.6 406.1 L273.1 406.1 L273.6 406.1 L274.1 406.1 L274.6 406.1 L275.1 406.1 L275.6 406.1 L276.1 406.1 L276.6 406.1 L277.1 406.1 L277.6 406.1 L278.1 406.1 L278.6 406.1 L279.1 406.1 L279.6 406.1 L280.1 406.1 L280.6 406.1 L281.1 406.1 L281.6 406.1 L282.1 406.1 L282.6 406.1 L283.1 406.1 L283.6 406.1 L284.1 406.1 L284.6 406.1 L285.1 406.1 L285.6 406.1 L286.1 406.1 L286.6 406.1 L287.1 406.1 L287.6 406.1 L288.1 406.1 L288.6 406.1 L289.1 406.1 L289.6 406.1 L290.1 406.1 L290.6 406.1 L291.1 406.1 L291.6 406.1 L292.1 406.1 L292.6 406.1 L293.1 406.1 L293.6 406.1 L294.1 406.1 L294.6 406.1 L295.1 406.1 L295.6 406.1 L296.1 406.1 L296.6 406.1 L297.1 406.1 L297.6 406.1 L298.1 406.1 L298.6 406.1 L299.1 406.1 L299.6 406.1 L300.1 406.1 L300.6 406.1 L301.1 406.1 L301.6 406.1 L302.1 406.1 L302.6 406.1 L303.1 406.1 L303.6 406.1 L304.1 406.1 L304.6 406.1 L305.1 406.1 L305.6 406.1 L306.1 406.1 L306.6 406.1 L307.1 406.1 L307.6 406.1 L308.1 406.1 L308.6 406.1 L309.1 406.1 L309.6 406.1 L310.1 406.1 L310.6 406.1 L311.1 406.1 L311.6 406.1 L312.1 406.1 L312.6 406.1 L313.1 406.1 L313.6 406.1 L314.1 406.1 L314.6 406.1 L315.1 406.1 L315.6 406.1 L316.1 406.1 L316.6 406.1 L317.1 406.1 L317.6 406.1 L318.1 406.1 L318.6 406.1 L319.1 406.1 L319.6 406.1 L320.1 406.1 L320.6 406.1 L321.1 406.1 L321.6 406.1 L322.1 406.1 L322.6 406.1 L323.1 406.1 L323.6 406.1" fill="none" stroke="#d42028" stroke-width="1.5" stroke-linejoin="round"/>
<path d="M20.1 400.9 L20.57 400.84 L21.16 400.76 L21.87 400.66 L22.66 400.55 L23.51 400.44 L24.41 400.31 L25.33 400.19 L26.25 400.06 L27.15 399.93 L28 399.8 L28.84 399.66 L29.69 399.5 L30.57 399.32 L31.45 399.14 L32.33 398.96 L33.21 398.79 L34.09 398.65 L34.95 398.52 L35.79 398.44 L36.6 398.4 L37.39 398.41 L38.16 398.46 L38.91 398.54 L39.64 398.65 L40.37 398.77 L41.09 398.92 L41.81 399.07 L42.53 399.22 L43.26 399.37 L44 399.5 L44.74 399.64 L45.47 399.8 L46.2 399.98 L46.94 400.17 L47.67 400.35 L48.41 400.52 L49.16 400.67 L49.92 400.79 L50.7 400.87 L51.5 400.9 L52.31 400.89 L53.12 400.85 L53.95 400.77 L54.78 400.68 L55.62 400.55 L56.49 400.4 L57.38 400.23 L58.29 400.04 L59.23 399.83 L60.2 399.6 L61.21 399.32 L62.26 398.95 L63.35 398.53 L64.46 398.08 L65.59 397.62 L66.74 397.19 L67.89 396.81 L69.04 396.5 L70.18 396.29 L71.3 396.2 L72.42 396.26 L73.55 396.43 L74.69 396.71 L75.84 397.06 L76.97 397.46 L78.11 397.88 L79.23 398.3 L80.34 398.7 L81.43 399.04 L82.5 399.3 L83.55 399.5 L84.6 399.68 L85.64 399.84 L86.66 399.97 L87.68 400.09 L88.67 400.2 L89.64 400.29 L90.59 400.37 L91.51 400.44 L92.4 400.5 L93.24 400.55 L94.03 400.57 L94.77 400.57 L95.49 400.56 L96.19 400.54 L96.9 400.51 L97.62 400.49 L98.36 400.48 L99.15 400.48 L100 400.5 L100.88 400.53 L101.77 400.56 L102.67 400.59 L103.6 400.63 L104.55 400.68 L105.54 400.74 L106.57 400.81 L107.65 400.89 L108.79 400.98 L110 401.1 L111.32 401.25 L112.78 401.43 L114.34 401.65 L115.96 401.88 L117.6 402.11 L119.23 402.34 L120.8 402.55 L122.28 402.73 L123.62 402.86 L124.8 402.93 L125.8 402.94 L126.65 402.9 L127.38 402.81 L128.02 402.68 L128.6 402.52 L129.15 402.34 L129.69 402.13 L130 401.77 L130.4 401.64 L130.8 401.49 L131.2 401.32 L131.6 401.12 L132 400.89 L132.4 400.62 L132.8 400.32 L133.2 399.97 L133.6 399.57 L134 399.13 L134.4 398.62 L134.8 398.04 L135.2 397.4 L135.6 396.67 L136 395.86 L136.4 394.95 L136.8 393.94 L137.2 392.82 L137.6 391.58 L138 390.21 L138.4 388.7 L138.8 387.04 L139.2 385.23 L139.6 383.25 L140 381.1 L140.4 378.76 L140.8 376.23 L141.2 373.5 L141.6 370.57 L142 367.43 L142.4 364.07 L142.8 360.49 L143.2 356.69 L143.6 352.67 L144 348.43 L144.4 343.97 L144.8 339.3 L145.2 334.42 L145.6 329.34 L146 324.07 L146.4 318.63 L146.8 313.03 L147.2 307.29 L147.6 301.43 L148 295.47 L148.4 289.43 L148.8 283.35 L149.2 277.24 L149.6 271.14 L150 265.08 L150.4 259.09 L150.8 253.2 L151.2 247.45 L151.6 241.87 L152 236.49 L152.4 231.35 L152.8 226.48 L153.2 221.92 L153.6 217.69 L154 213.81 L154.4 210.33 L154.8 207.26 L155.2 204.62 L155.6 202.44 L156 200.73 L156.4 199.49 L156.8 198.75 L157.2 198.5 L157.6 198.78 L158 199.6 L158.4 200.96 L158.8 202.86 L159.2 205.27 L159.6 208.17 L160 211.55 L160.4 215.38 L160.8 219.62 L161.2 224.25 L161.6 229.23 L162 234.52 L162.4 240.1 L162.8 245.91 L163.2 251.92 L163.6 258.08 L164 264.37 L164.4 270.74 L164.8 277.16 L165.2 283.59 L165.6 289.99 L166 296.33 L166.4 302.58 L166.8 308.72 L167.2 314.72 L167.6 320.56 L168 326.21 L168.4 331.67 L168.8 336.91 L169.2 341.93 L169.6 346.72 L170 351.26 L170.4 355.57 L170.8 359.62 L171.2 363.43 L171.6 367 L172 370.33 L172.4 373.43 L172.8 376.3 L173.2 378.95 L173.6 381.39 L174 383.62 L174.4 385.67 L174.8 387.53 L175.2 389.76 L175.6 391.35 L176 392.79 L176.4 394.1 L176.8 395.28 L177.2 396.34 L177.6 397.29 L178 398.14 L178.4 398.9 L178.8 399.58 L179.2 400.19 L179.6 400.73 L180 401.2 L180.4 401.63 L180.8 402.01 L181.2 402.34 L181.6 402.64 L182 402.91 L182.4 403.15 L182.8 403.36 L183.2 403.55 L183.6 403.72 L184 403.87 L184.4 404.01 L184.8 404.14 L185.2 404.26 L185.6 404.36 L186.05 404.39 L187.11 404.52 L188.18 404.61 L189.26 404.67 L190.35 404.7 L191.45 404.71 L192.57 404.7 L193.69 404.68 L194.84 404.65 L196 404.6 L197.19 404.52 L198.4 404.4 L199.64 404.26 L200.9 404.1 L202.16 403.93 L203.43 403.77 L204.69 403.62 L205.95 403.51 L207.19 403.43 L208.4 403.4 L209.55 403.42 L210.64 403.49 L211.67 403.59 L212.69 403.72 L213.73 403.86 L214.79 404.02 L215.93 404.18 L217.16 404.33 L218.5 404.48 L220 404.6 L221.7 404.71 L223.62 404.83 L225.7 404.95 L227.88 405.07 L230.1 405.19 L232.32 405.3 L234.47 405.39 L236.51 405.48 L238.37 405.55 L240 405.6 L241.42 405.64 L242.7 405.67 L243.86 405.69 L244.91 405.7 L245.88 405.69 L246.77 405.67 L247.61 405.64 L248.42 405.58 L249.21 405.5 L250 405.4 L250.73 405.26 L251.33 405.07 L251.84 404.85 L252.3 404.61 L252.75 404.36 L253.22 404.1 L253.74 403.86 L254.35 403.64 L255.09 403.45 L256 403.3 L257.05 403.2 L258.19 403.12 L259.42 403.07 L260.74 403.04 L262.12 403.02 L263.58 403.01 L265.11 403.01 L266.69 403.01 L268.32 403.01 L270 403 L271.7 402.99 L273.4 402.98 L275.13 402.98 L276.91 402.98 L278.77 402.98 L280.73 402.99 L282.8 402.99 L285.03 403 L287.42 403 L290 403 L292.97 403 L296.4 403 L300.16 403 L304.11 403 L308.1 403 L311.99 403 L315.64 403 L318.9 403 L321.63 403 L323.7 403" fill="none" stroke="#bdbdbd" stroke-width="1.3" stroke-linejoin="round"/>
<path d="M20.1 411.3 L20.7 411.26 L21.47 411.21 L22.37 411.14 L23.38 411.07 L24.48 410.99 L25.63 410.92 L26.83 410.86 L28.04 410.82 L29.24 410.8 L30.4 410.8 L31.54 410.83 L32.68 410.86 L33.85 410.92 L35.03 410.98 L36.23 411.06 L37.47 411.16 L38.73 411.27 L40.04 411.4 L41.4 411.54 L42.8 411.7 L44.28 411.89 L45.86 412.11 L47.5 412.35 L49.19 412.62 L50.91 412.89 L52.62 413.17 L54.31 413.45 L55.95 413.72 L57.52 413.97 L59 414.2 L60.4 414.43 L61.77 414.68 L63.09 414.95 L64.37 415.21 L65.62 415.45 L66.83 415.67 L68 415.84 L69.13 415.96 L70.23 416.02 L71.3 416 L72.31 415.89 L73.25 415.68 L74.13 415.41 L74.98 415.08 L75.79 414.72 L76.6 414.33 L77.41 413.94 L78.23 413.56 L79.09 413.21 L80 412.9 L80.95 412.61 L81.92 412.31 L82.9 412.01 L83.91 411.71 L84.92 411.42 L85.94 411.15 L86.96 410.9 L87.98 410.69 L88.99 410.52 L90 410.4 L91.02 410.33 L92.06 410.32 L93.12 410.35 L94.18 410.42 L95.24 410.51 L96.27 410.61 L97.28 410.72 L98.24 410.83 L99.15 410.93 L100 411 L100.75 411.07 L101.38 411.16 L101.94 411.26 L102.46 411.36 L102.95 411.45 L103.46 411.53 L104 411.6 L104.62 411.63 L105.35 411.64 L106.2 411.6 L107.16 411.5 L108.18 411.35 L109.27 411.14 L110.42 410.91 L111.62 410.66 L112.9 410.42 L114.23 410.2 L115.62 410.01 L117.08 409.87 L118.6 409.8 L120.24 409.81 L122.02 409.89 L123.92 410.02 L125.89 410.18 L127.9 410.36 L129.91 410.55 L131.88 410.72 L133.78 410.87 L135.56 410.96 L137.2 411 L138.68 410.97 L140.03 410.89 L141.28 410.77 L142.46 410.63 L143.6 410.46 L144.72 410.29 L145.85 410.13 L147.03 409.99 L148.27 409.87 L149.6 409.8 L151.02 409.77 L152.49 409.76 L154.01 409.79 L155.56 409.82 L157.14 409.87 L158.72 409.92 L160.31 409.96 L161.9 410 L163.46 410.01 L165 410 L166.52 409.97 L168.03 409.91 L169.53 409.85 L171.03 409.78 L172.53 409.69 L174.02 409.61 L175.51 409.52 L177.01 409.44 L178.5 409.37 L180 409.3 L181.5 409.22 L183.01 409.11 L184.51 408.99 L186.02 408.86 L187.53 408.74 L189.03 408.65 L190.53 408.6 L192.03 408.6 L193.52 408.66 L195 408.8 L196.47 409.06 L197.93 409.45 L199.38 409.94 L200.83 410.49 L202.27 411.06 L203.72 411.61 L205.17 412.12 L206.64 412.55 L208.11 412.85 L209.6 413 L211.11 412.99 L212.64 412.86 L214.17 412.63 L215.72 412.32 L217.27 411.95 L218.83 411.55 L220.38 411.13 L221.93 410.72 L223.47 410.33 L225 410 L226.53 409.69 L228.09 409.36 L229.66 409.02 L231.22 408.68 L232.78 408.34 L234.31 408.02 L235.81 407.72 L237.26 407.44 L238.66 407.2 L240 407 L241.25 406.84 L242.41 406.69 L243.5 406.57 L244.54 406.48 L245.56 406.41 L246.58 406.36 L247.61 406.35 L248.67 406.37 L249.8 406.42 L251 406.5 L252.29 406.62 L253.64 406.8 L255.04 407 L256.47 407.25 L257.93 407.51 L259.39 407.8 L260.84 408.1 L262.27 408.4 L263.66 408.7 L265 409 L266.29 409.32 L267.55 409.7 L268.77 410.1 L269.98 410.52 L271.17 410.94 L272.36 411.33 L273.55 411.68 L274.75 411.97 L275.96 412.19 L277.2 412.3 L278.42 412.3 L279.61 412.2 L280.77 412.01 L281.93 411.76 L283.11 411.48 L284.33 411.17 L285.61 410.87 L286.97 410.59 L288.43 410.36 L290 410.2 L291.74 410.09 L293.64 410 L295.67 409.93 L297.78 409.88 L299.94 409.84 L302.11 409.83 L304.24 409.82 L306.29 409.84 L308.22 409.86 L310 409.9 L311.69 409.96 L313.36 410.06 L315 410.19 L316.59 410.33 L318.1 410.48 L319.51 410.63 L320.8 410.78 L321.94 410.91 L322.91 411.02 L323.7 411.1" fill="none" stroke="#bdbdbd" stroke-width="1.3" stroke-linejoin="round"/>
</g>
<text x="89.3" y="308.8" font-size="13" fill="#c9982c" text-anchor="start">Fe: 3<tspan font-style="italic">d</tspan></text>
<text x="88" y="371.6" font-size="13" fill="#c8161f" text-anchor="start">OOH: <tspan font-style="italic">π</tspan></text>
<text x="281.6" y="295" font-size="12.5" fill="#111" text-anchor="end">Fe</text>
<line x1="288.8" y1="290.8" x2="316.7" y2="290.8" stroke="#ebae30" stroke-width="1.8"/>
<text x="278.7" y="310.6" font-size="12.5" fill="#111" text-anchor="end">N</text>
<line x1="286.3" y1="306" x2="314.8" y2="306" stroke="#2438f0" stroke-width="1.8"/>
<text x="275" y="325.5" font-size="12.5" fill="#111" text-anchor="end">O2 of *OOH</text>
<line x1="282.5" y1="321.4" x2="310.4" y2="321.4" stroke="#ffa8d8" stroke-width="1.5"/>
<text x="275" y="340.7" font-size="12.5" fill="#111" text-anchor="end">O1 of *OOH</text>
<line x1="282.5" y1="336.5" x2="310.4" y2="336.5" stroke="#d42028" stroke-width="1.8"/>
<text x="276.9" y="356.8" font-size="12.5" fill="#111" text-anchor="end">Total</text>
<line x1="284.4" y1="352.1" x2="312.9" y2="352.1" stroke="#bdbdbd" stroke-width="1.5"/>
<text x="364" y="288" font-size="17.5" fill="#000" text-anchor="start">d</text>
<clipPath id="cld"><rect x="381" y="279.7" width="301.9" height="239.5"/></clipPath>
<rect x="381" y="279.7" width="301.9" height="239.5" fill="none" stroke="#2a2a2a" stroke-width="1.3"/>
<line x1="381" y1="519.2" x2="381" y2="523.2" stroke="#2a2a2a" stroke-width="1.2"/>
<text x="380.7" y="538.6" font-size="13" fill="#111" text-anchor="middle">-3</text>
<line x1="456.48" y1="519.2" x2="456.48" y2="523.2" stroke="#2a2a2a" stroke-width="1.2"/>
<text x="456.18" y="538.6" font-size="13" fill="#111" text-anchor="middle">-2</text>
<line x1="531.96" y1="519.2" x2="531.96" y2="523.2" stroke="#2a2a2a" stroke-width="1.2"/>
<text x="531.66" y="538.6" font-size="13" fill="#111" text-anchor="middle">-1</text>
<line x1="607.44" y1="519.2" x2="607.44" y2="523.2" stroke="#2a2a2a" stroke-width="1.2"/>
<text x="607.14" y="538.6" font-size="13" fill="#111" text-anchor="middle">0</text>
<line x1="682.92" y1="519.2" x2="682.92" y2="523.2" stroke="#2a2a2a" stroke-width="1.2"/>
<text x="682.62" y="538.6" font-size="13" fill="#111" text-anchor="middle">1</text>
<line x1="607.44" y1="280.7" x2="607.44" y2="518.2" stroke="#d8d8d8" stroke-width="0.6" stroke-dasharray="1 2"/>
<text transform="translate(373.6 393.4) rotate(-90)" font-size="17.2" text-anchor="middle" fill="#111">PDOS</text>
<text x="532.7" y="553.8" font-size="17.5" fill="#111" text-anchor="middle">Energy (eV)</text>
<g clip-path="url(#cld)">
<path d="M381 411.2 L381.5 411.2 L382 411.2 L382.5 411.2 L383 411.2 L383.5 411.2 L384 411.2 L384.5 411.2 L385 411.2 L385.5 411.2 L386 411.2 L386.5 411.2 L387 411.2 L387.5 411.2 L388 411.2 L388.5 411.2 L389 411.2 L389.5 411.2 L390 411.2 L390.5 411.2 L391 411.2 L391.5 411.2 L392 411.2 L392.5 411.2 L393 411.2 L393.5 411.2 L394 411.2 L394.5 411.2 L395 411.2 L395.5 411.2 L396 411.2 L396.5 411.2 L397 411.2 L397.5 411.2 L398 411.2 L398.5 411.2 L399 411.2 L399.5 411.2 L400 411.2 L400.5 411.2 L401 411.2 L401.5 411.2 L402 411.2 L402.5 411.2 L403 411.2 L403.5 411.2 L404 411.2 L404.5 411.2 L405 411.2 L405.5 411.2 L406 411.2 L406.5 411.2 L407 411.2 L407.5 411.2 L408 411.2 L408.5 411.2 L409 411.2 L409.5 411.2 L410 411.2 L410.5 411.2 L411 411.2 L411.5 411.2 L412 411.2 L412.5 411.2 L413 411.2 L413.5 411.2 L414 411.2 L414.5 411.2 L415 411.2 L415.5 411.2 L416 411.2 L416.5 411.2 L417 411.2 L417.5 411.2 L418 411.2 L418.5 411.2 L419 411.2 L419.5 411.2 L420 411.2 L420.5 411.2 L421 411.2 L421.5 411.2 L422 411.2 L422.5 411.2 L423 411.2 L423.5 411.2 L424 411.2 L424.5 411.2 L425 411.2 L425.5 411.2 L426 411.2 L426.5 411.2 L427 411.2 L427.5 411.2 L428 411.2 L428.5 411.2 L429 411.2 L429.5 411.2 L430 411.2 L430.5 411.2 L431 411.2 L431.5 411.2 L432 411.2 L432.5 411.2 L433 411.2 L433.5 411.2 L434 411.2 L434.5 411.2 L435 411.2 L435.5 411.2 L436 411.2 L436.5 411.2 L437 411.2 L437.5 411.2 L438 411.2 L438.5 411.2 L439 411.2 L439.5 411.2 L440 411.2 L440.5 411.2 L441 411.2 L441.5 411.2 L442 411.2 L442.5 411.2 L443 411.2 L443.5 411.2 L444 411.2 L444.5 411.2 L445 411.2 L445.5 411.2 L446 411.2 L446.5 411.2 L447 411.2 L447.5 411.2 L448 411.2 L448.5 411.2 L449 411.2 L449.5 411.2 L450 411.2 L450.5 411.2 L451 411.2 L451.5 411.2 L452 411.2 L452.5 411.2 L453 411.2 L453.5 411.2 L454 411.2 L454.5 411.2 L455 411.2 L455.5 411.2 L456 411.2 L456.5 411.2 L457 411.2 L457.5 411.2 L458 411.2 L458.5 411.2 L459 411.2 L459.5 411.2 L460 411.2 L460.5 411.2 L461 411.2 L461.5 411.2 L462 411.2 L462.5 411.2 L463 411.2 L463.5 411.2 L464 411.2 L464.5 411.2 L465 411.2 L465.5 411.2 L466 411.2 L466.5 411.2 L467 411.2 L467.5 411.2 L468 411.2 L468.5 411.2 L469 411.2 L469.5 411.2 L470 411.2 L470.5 411.2 L471 411.2 L471.5 411.2 L472 411.2 L472.5 411.2 L473 411.2 L473.5 411.2 L474 411.2 L474.5 411.2 L475 411.2 L475.5 411.2 L476 411.2 L476.5 411.2 L477 411.2 L477.5 411.2 L478 411.2 L478.5 411.2 L479 411.2 L479.5 411.2 L480 411.2 L480.5 411.2 L481 411.2 L481.5 411.2 L482 411.2 L482.5 411.2 L483 411.2 L483.5 411.2 L484 411.2 L484.5 411.2 L485 411.2 L485.5 411.2 L486 411.2 L486.5 411.2 L487 411.2 L487.5 411.2 L488 411.2 L488.5 411.2 L489 411.2 L489.5 411.2 L490 411.2 L490.5 411.2 L491 411.2 L491.5 411.2 L492 411.2 L492.5 411.2 L493 411.2 L493.5 411.2 L494 411.2 L494.5 411.2 L495 411.2 L495.5 411.2 L496 411.2 L496.5 411.2 L497 411.2 L497.5 411.2 L498 411.2 L498.5 411.2 L499 411.2 L499.5 411.2 L500 411.2 L500.5 411.2 L501 411.2 L501.5 411.2 L502 411.2 L502.5 411.2 L503 411.2 L503.5 411.2 L504 411.2 L504.5 411.2 L505 411.2 L505.5 411.2 L506 411.2 L506.5 411.2 L507 411.2 L507.5 411.2 L508 411.2 L508.5 411.2 L509 411.2 L509.5 411.2 L510 411.2 L510.5 411.2 L511 411.2 L511.5 411.2 L512 411.2 L512.5 411.2 L513 411.2 L513.5 411.2 L514 411.2 L514.5 411.2 L515 411.2 L515.5 411.2 L516 411.2 L516.5 411.2 L517 411.2 L517.5 411.2 L518 411.2 L518.5 411.2 L519 411.2 L519.5 411.2 L520 411.2 L520.5 411.2 L521 411.2 L521.5 411.2 L522 411.2 L522.5 411.2 L523 411.2 L523.5 411.2 L524 411.2 L524.5 411.2 L525 411.2 L525.5 411.2 L526 411.2 L526.5 411.2 L527 411.2 L527.5 411.2 L528 411.2 L528.5 411.2 L529 411.2 L529.5 411.2 L530 411.2 L530.5 411.2 L531 411.2 L531.5 411.2 L532 411.2 L532.5 411.2 L533 411.2 L533.5 411.2 L534 411.2 L534.5 411.2 L535 411.2 L535.5 411.2 L536 411.2 L536.5 411.2 L537 411.2 L537.5 411.2 L538 411.2 L538.5 411.2 L539 411.2 L539.5 411.2 L540 411.2 L540.5 411.2 L541 411.2 L541.5 411.2 L542 411.2 L542.5 411.2 L543 411.2 L543.5 411.2 L544 411.2 L544.5 411.2 L545 411.2 L545.5 411.2 L546 411.2 L546.5 411.2 L547 411.2 L547.5 411.2 L548 411.2 L548.5 411.2 L549 411.2 L549.5 411.2 L550 411.2 L550.5 411.2 L551 411.2 L551.5 411.2 L552 411.2 L552.5 411.2 L553 411.2 L553.5 411.2 L554 411.2 L554.5 411.2 L555 411.2 L555.5 411.2 L556 411.2 L556.5 411.2 L557 411.2 L557.5 411.2 L558 411.2 L558.5 411.2 L559 411.2 L559.5 411.2 L560 411.2 L560.5 411.21 L561 411.21 L561.5 411.21 L562 411.21 L562.5 411.22 L563 411.23 L563.5 411.23 L564 411.24 L564.5 411.26 L565 411.28 L565.5 411.3 L566 411.33 L566.5 411.36 L567 411.4 L567.5 411.45 L568 411.52 L568.5 411.59 L569 411.69 L569.5 411.8 L570 411.93 L570.5 412.08 L571 412.26 L571.5 412.46 L572 412.7 L572.5 412.97 L573 413.28 L573.5 413.62 L574 414 L574.5 414.42 L575 414.89 L575.5 415.39 L576 415.93 L576.5 416.51 L577 417.12 L577.5 417.76 L578 418.42 L578.5 419.1 L579 419.8 L579.5 420.49 L580 421.17 L580.5 421.84 L581 422.48 L581.5 423.09 L582 423.65 L582.5 424.15 L583 424.59 L583.5 424.96 L584 425.25 L584.5 425.45 L585 425.57 L585.5 425.6 L586 425.53 L586.5 425.38 L587 425.14 L587.5 424.82 L588 424.42 L588.5 423.96 L589 423.43 L589.5 422.85 L590 422.23 L590.5 421.58 L591 420.9 L591.5 420.21 L592 419.52 L592.5 418.83 L593 418.16 L593.5 417.5 L594 416.87 L594.5 416.27 L595 415.71 L595.5 415.18 L596 414.7 L596.5 414.25 L597 413.84 L597.5 413.48 L598 413.15 L598.5 412.86 L599 412.6 L599.5 412.38 L600 412.18 L600.5 412.01 L601 411.87 L601.5 411.75 L602 411.65 L602.5 411.56 L603 411.49 L603.5 411.43 L604 411.38 L604.5 411.35 L605 411.31 L605.5 411.29 L606 411.27 L606.5 411.25 L607 411.24 L607.5 411.23 L608 411.22 L608.5 411.22 L609 411.21 L609.5 411.21 L610 411.21 L610.5 411.21 L611 411.2 L611.5 411.2 L612 411.2 L612.5 411.2 L613 411.2 L613.5 411.2 L614 411.2 L614.5 411.2 L615 411.2 L615.5 411.2 L616 411.2 L616.5 411.2 L617 411.2 L617.5 411.2 L618 411.2 L618.5 411.2 L619 411.2 L619.5 411.2 L620 411.2 L620.5 411.2 L621 411.2 L621.5 411.2 L622 411.2 L622.5 411.2 L623 411.2 L623.5 411.2 L624 411.2 L624.5 411.2 L625 411.2 L625.5 411.2 L626 411.2 L626.5 411.2 L627 411.2 L627.5 411.2 L628 411.2 L628.5 411.2 L629 411.2 L629.5 411.2 L630 411.2 L630.5 411.2 L631 411.2 L631.5 411.2 L632 411.2 L632.5 411.2 L633 411.2 L633.5 411.2 L634 411.2 L634.5 411.2 L635 411.2 L635.5 411.2 L636 411.2 L636.5 411.2 L637 411.2 L637.5 411.2 L638 411.2 L638.5 411.2 L639 411.2 L639.5 411.2 L640 411.2 L640.5 411.2 L641 411.2 L641.5 411.2 L642 411.2 L642.5 411.2 L643 411.2 L643.5 411.2 L644 411.2 L644.5 411.2 L645 411.2 L645.5 411.2 L646 411.2 L646.5 411.2 L647 411.2 L647.5 411.2 L648 411.2 L648.5 411.2 L649 411.2 L649.5 411.2 L650 411.2 L650.5 411.2 L651 411.2 L651.5 411.21 L652 411.21 L652.5 411.21 L653 411.21 L653.5 411.22 L654 411.22 L654.5 411.23 L655 411.24 L655.5 411.26 L656 411.28 L656.5 411.3 L657 411.33 L657.5 411.37 L658 411.41 L658.5 411.46 L659 411.53 L659.5 411.61 L660 411.7 L660.5 411.81 L661 411.93 L661.5 412.07 L662 412.24 L662.5 412.42 L663 412.62 L663.5 412.85 L664 413.09 L664.5 413.36 L665 413.63 L665.5 413.93 L666 414.23 L666.5 414.53 L667 414.84 L667.5 415.15 L668 415.44 L668.5 415.72 L669 415.98 L669.5 416.21 L670 416.41 L670.5 416.57 L671 416.69 L671.5 416.77 L672 416.8 L672.5 416.79 L673 416.73 L673.5 416.62 L674 416.48 L674.5 416.29 L675 416.07 L675.5 415.83 L676 415.56 L676.5 415.27 L677 414.97 L677.5 414.66 L678 414.35 L678.5 414.05 L679 413.75 L679.5 413.47 L680 413.2 L680.5 412.94 L681 412.71 L681.5 412.5 L682 412.31 L682.5 412.14" fill="none" stroke="#111111" stroke-width="1.4" stroke-linejoin="round"/>
<path d="M381 412.4 L381.5 412.4 L382 412.4 L382.5 412.4 L383 412.4 L383.5 412.4 L384 412.4 L384.5 412.4 L385 412.4 L385.5 412.4 L386 412.4 L386.5 412.4 L387 412.4 L387.5 412.4 L388 412.4 L388.5 412.4 L389 412.4 L389.5 412.4 L390 412.4 L390.5 412.4 L391 412.4 L391.5 412.4 L392 412.4 L392.5 412.4 L393 412.4 L393.5 412.4 L394 412.4 L394.5 412.4 L395 412.4 L395.5 412.4 L396 412.4 L396.5 412.4 L397 412.4 L397.5 412.4 L398 412.4 L398.5 412.4 L399 412.4 L399.5 412.4 L400 412.4 L400.5 412.4 L401 412.4 L401.5 412.4 L402 412.4 L402.5 412.4 L403 412.4 L403.5 412.4 L404 412.4 L404.5 412.4 L405 412.4 L405.5 412.4 L406 412.4 L406.5 412.4 L407 412.4 L407.5 412.4 L408 412.4 L408.5 412.4 L409 412.4 L409.5 412.4 L410 412.4 L410.5 412.4 L411 412.4 L411.5 412.4 L412 412.4 L412.5 412.4 L413 412.4 L413.5 412.4 L414 412.4 L414.5 412.4 L415 412.4 L415.5 412.4 L416 412.4 L416.5 412.4 L417 412.4 L417.5 412.4 L418 412.4 L418.5 412.4 L419 412.4 L419.5 412.4 L420 412.4 L420.5 412.4 L421 412.4 L421.5 412.4 L422 412.4 L422.5 412.4 L423 412.4 L423.5 412.4 L424 412.4 L424.5 412.4 L425 412.4 L425.5 412.4 L426 412.4 L426.5 412.4 L427 412.4 L427.5 412.4 L428 412.4 L428.5 412.4 L429 412.4 L429.5 412.4 L430 412.4 L430.5 412.4 L431 412.4 L431.5 412.4 L432 412.4 L432.5 412.4 L433 412.4 L433.5 412.4 L434 412.4 L434.5 412.4 L435 412.4 L435.5 412.4 L436 412.4 L436.5 412.4 L437 412.4 L437.5 412.4 L438 412.4 L438.5 412.4 L439 412.4 L439.5 412.4 L440 412.4 L440.5 412.4 L441 412.4 L441.5 412.4 L442 412.4 L442.5 412.4 L443 412.4 L443.5 412.4 L444 412.4 L444.5 412.4 L445 412.4 L445.5 412.4 L446 412.4 L446.5 412.4 L447 412.4 L447.5 412.4 L448 412.4 L448.5 412.4 L449 412.4 L449.5 412.4 L450 412.4 L450.5 412.4 L451 412.4 L451.5 412.4 L452 412.4 L452.5 412.4 L453 412.4 L453.5 412.4 L454 412.4 L454.5 412.4 L455 412.4 L455.5 412.4 L456 412.4 L456.5 412.4 L457 412.4 L457.5 412.4 L458 412.4 L458.5 412.4 L459 412.4 L459.5 412.4 L460 412.4 L460.5 412.4 L461 412.4 L461.5 412.4 L462 412.4 L462.5 412.4 L463 412.4 L463.5 412.4 L464 412.4 L464.5 412.4 L465 412.4 L465.5 412.4 L466 412.4 L466.5 412.4 L467 412.4 L467.5 412.4 L468 412.4 L468.5 412.4 L469 412.4 L469.5 412.4 L470 412.4 L470.5 412.4 L471 412.4 L471.5 412.4 L472 412.4 L472.5 412.4 L473 412.4 L473.5 412.4 L474 412.4 L474.5 412.4 L475 412.4 L475.5 412.4 L476 412.4 L476.5 412.4 L477 412.4 L477.5 412.4 L478 412.4 L478.5 412.4 L479 412.4 L479.5 412.4 L480 412.4 L480.5 412.4 L481 412.4 L481.5 412.4 L482 412.4 L482.5 412.4 L483 412.4 L483.5 412.4 L484 412.4 L484.5 412.4 L485 412.4 L485.5 412.4 L486 412.4 L486.5 412.4 L487 412.4 L487.5 412.4 L488 412.4 L488.5 412.4 L489 412.4 L489.5 412.4 L490 412.4 L490.5 412.4 L491 412.4 L491.5 412.4 L492 412.4 L492.5 412.4 L493 412.4 L493.5 412.4 L494 412.4 L494.5 412.4 L495 412.4 L495.5 412.4 L496 412.4 L496.5 412.4 L497 412.4 L497.5 412.4 L498 412.4 L498.5 412.4 L499 412.4 L499.5 412.4 L500 412.4 L500.5 412.4 L501 412.4 L501.5 412.4 L502 412.4 L502.5 412.4 L503 412.4 L503.5 412.4 L504 412.4 L504.5 412.4 L505 412.4 L505.5 412.4 L506 412.4 L506.5 412.4 L507 412.4 L507.5 412.4 L508 412.4 L508.5 412.4 L509 412.4 L509.5 412.4 L510 412.4 L510.5 412.4 L511 412.4 L511.5 412.4 L512 412.4 L512.5 412.4 L513 412.4 L513.5 412.4 L514 412.4 L514.5 412.4 L515 412.4 L515.5 412.4 L516 412.4 L516.5 412.4 L517 412.4 L517.5 412.4 L518 412.4 L518.5 412.4 L519 412.4 L519.5 412.4 L520 412.4 L520.5 412.4 L521 412.4 L521.5 412.4 L522 412.4 L522.5 412.4 L523 412.4 L523.5 412.4 L524 412.4 L524.5 412.4 L525 412.4 L525.5 412.4 L526 412.4 L526.5 412.4 L527 412.4 L527.5 412.4 L528 412.4 L528.5 412.4 L529 412.4 L529.5 412.4 L530 412.4 L530.5 412.4 L531 412.4 L531.5 412.4 L532 412.4 L532.5 412.4 L533 412.4 L533.5 412.4 L534 412.4 L534.5 412.4 L535 412.4 L535.5 412.4 L536 412.4 L536.5 412.4 L537 412.4 L537.5 412.4 L538 412.4 L538.5 412.4 L539 412.4 L539.5 412.4 L540 412.4 L540.5 412.4 L541 412.4 L541.5 412.4 L542 412.4 L542.5 412.4 L543 412.4 L543.5 412.4 L544 412.4 L544.5 412.4 L545 412.4 L545.5 412.4 L546 412.4 L546.5 412.4 L547 412.4 L547.5 412.4 L548 412.4 L548.5 412.4 L549 412.4 L549.5 412.4 L550 412.4 L550.5 412.4 L551 412.4 L551.5 412.4 L552 412.4 L552.5 412.4 L553 412.4 L553.5 412.4 L554 412.4 L554.5 412.4 L555 412.4 L555.5 412.4 L556 412.4 L556.5 412.4 L557 412.4 L557.5 412.4 L558 412.4 L558.5 412.4 L559 412.4 L559.5 412.4 L560 412.4 L560.5 412.4 L561 412.4 L561.5 412.4 L562 412.4 L562.5 412.4 L563 412.4 L563.5 412.4 L564 412.4 L564.5 412.4 L565 412.4 L565.5 412.4 L566 412.4 L566.5 412.4 L567 412.4 L567.5 412.4 L568 412.4 L568.5 412.4 L569 412.4 L569.5 412.4 L570 412.4 L570.5 412.4 L571 412.4 L571.5 412.4 L572 412.4 L572.5 412.4 L573 412.4 L573.5 412.4 L574 412.4 L574.5 412.4 L575 412.4 L575.5 412.4 L576 412.4 L576.5 412.4 L577 412.4 L577.5 412.4 L578 412.4 L578.5 412.4 L579 412.4 L579.5 412.4 L580 412.4 L580.5 412.4 L581 412.4 L581.5 412.4 L582 412.4 L582.5 412.4 L583 412.4 L583.5 412.4 L584 412.4 L584.5 412.4 L585 412.4 L585.5 412.4 L586 412.4 L586.5 412.4 L587 412.4 L587.5 412.4 L588 412.4 L588.5 412.4 L589 412.4 L589.5 412.4 L590 412.4 L590.5 412.4 L591 412.4 L591.5 412.4 L592 412.4 L592.5 412.4 L593 412.4 L593.5 412.4 L594 412.4 L594.5 412.4 L595 412.4 L595.5 412.4 L596 412.4 L596.5 412.4 L597 412.4 L597.5 412.4 L598 412.4 L598.5 412.4 L599 412.4 L599.5 412.4 L600 412.4 L600.5 412.4 L601 412.4 L601.5 412.4 L602 412.4 L602.5 412.4 L603 412.4 L603.5 412.4 L604 412.4 L604.5 412.4 L605 412.4 L605.5 412.4 L606 412.4 L606.5 412.4 L607 412.4 L607.5 412.4 L608 412.4 L608.5 412.4 L609 412.4 L609.5 412.4 L610 412.4 L610.5 412.4 L611 412.4 L611.5 412.4 L612 412.4 L612.5 412.4 L613 412.4 L613.5 412.4 L614 412.4 L614.5 412.4 L615 412.4 L615.5 412.4 L616 412.4 L616.5 412.4 L617 412.4 L617.5 412.4 L618 412.4 L618.5 412.4 L619 412.4 L619.5 412.4 L620 412.4 L620.5 412.4 L621 412.4 L621.5 412.4 L622 412.4 L622.5 412.4 L623 412.4 L623.5 412.4 L624 412.4 L624.5 412.4 L625 412.4 L625.5 412.4 L626 412.4 L626.5 412.4 L627 412.4 L627.5 412.4 L628 412.4 L628.5 412.4 L629 412.4 L629.5 412.4 L630 412.4 L630.5 412.4 L631 412.4 L631.5 412.4 L632 412.4 L632.5 412.4 L633 412.4 L633.5 412.4 L634 412.4 L634.5 412.4 L635 412.4 L635.5 412.4 L636 412.4 L636.5 412.4 L637 412.4 L637.5 412.4 L638 412.4 L638.5 412.4 L639 412.4 L639.5 412.4 L640 412.4 L640.5 412.4 L641 412.4 L641.5 412.4 L642 412.4 L642.5 412.4 L643 412.4 L643.5 412.4 L644 412.4 L644.5 412.4 L645 412.4 L645.5 412.4 L646 412.4 L646.5 412.4 L647 412.4 L647.5 412.4 L648 412.4 L648.5 412.4 L649 412.4 L649.5 412.4 L650 412.4 L650.5 412.4 L651 412.4 L651.5 412.4 L652 412.4 L652.5 412.4 L653 412.41 L653.5 412.41 L654 412.41 L654.5 412.41 L655 412.41 L655.5 412.42 L656 412.42 L656.5 412.43 L657 412.44 L657.5 412.44 L658 412.45 L658.5 412.46 L659 412.48 L659.5 412.49 L660 412.51 L660.5 412.53 L661 412.55 L661.5 412.57 L662 412.6 L662.5 412.63 L663 412.66 L663.5 412.69 L664 412.73 L664.5 412.77 L665 412.81 L665.5 412.84 L666 412.89 L666.5 412.93 L667 412.97 L667.5 413 L668 413.04 L668.5 413.07 L669 413.11 L669.5 413.13 L670 413.16 L670.5 413.18 L671 413.19 L671.5 413.2 L672 413.2 L672.5 413.2 L673 413.19 L673.5 413.18 L674 413.16 L674.5 413.13 L675 413.11 L675.5 413.07 L676 413.04 L676.5 413 L677 412.97 L677.5 412.93 L678 412.89 L678.5 412.84 L679 412.81 L679.5 412.77 L680 412.73 L680.5 412.69 L681 412.66 L681.5 412.63 L682 412.6 L682.5 412.57" fill="none" stroke="#30a040" stroke-width="1" stroke-linejoin="round"/>
<path d="M381 411.7 L381.5 411.7 L382 411.7 L382.5 411.7 L383 411.7 L383.5 411.7 L384 411.7 L384.5 411.7 L385 411.7 L385.5 411.7 L386 411.7 L386.5 411.7 L387 411.7 L387.5 411.7 L388 411.7 L388.5 411.7 L389 411.7 L389.5 411.7 L390 411.7 L390.5 411.7 L391 411.7 L391.5 411.7 L392 411.7 L392.5 411.7 L393 411.7 L393.5 411.7 L394 411.7 L394.5 411.7 L395 411.7 L395.5 411.7 L396 411.7 L396.5 411.7 L397 411.7 L397.5 411.7 L398 411.7 L398.5 411.7 L399 411.7 L399.5 411.7 L400 411.7 L400.5 411.7 L401 411.7 L401.5 411.7 L402 411.7 L402.5 411.7 L403 411.7 L403.5 411.71 L404 411.71 L404.5 411.71 L405 411.71 L405.5 411.71 L406 411.71 L406.5 411.72 L407 411.72 L407.5 411.72 L408 411.73 L408.5 411.74 L409 411.74 L409.5 411.75 L410 411.76 L410.5 411.77 L411 411.78 L411.5 411.79 L412 411.8 L412.5 411.82 L413 411.84 L413.5 411.85 L414 411.88 L414.5 411.9 L415 411.92 L415.5 411.95 L416 411.98 L416.5 412.01 L417 412.05 L417.5 412.08 L418 412.12 L418.5 412.16 L419 412.21 L419.5 412.25 L420 412.3 L420.5 412.34 L421 412.39 L421.5 412.44 L422 412.49 L422.5 412.54 L423 412.59 L423.5 412.63 L424 412.68 L424.5 412.73 L425 412.77 L425.5 412.81 L426 412.85 L426.5 412.88 L427 412.91 L427.5 412.94 L428 412.96 L428.5 412.98 L429 412.99 L429.5 413 L430 413 L430.5 413 L431 412.99 L431.5 412.98 L432 412.96 L432.5 412.94 L433 412.91 L433.5 412.88 L434 412.85 L434.5 412.81 L435 412.77 L435.5 412.73 L436 412.68 L436.5 412.63 L437 412.59 L437.5 412.54 L438 412.49 L438.5 412.44 L439 412.39 L439.5 412.34 L440 412.3 L440.5 412.25 L441 412.21 L441.5 412.16 L442 412.12 L442.5 412.08 L443 412.05 L443.5 412.01 L444 411.98 L444.5 411.95 L445 411.92 L445.5 411.9 L446 411.88 L446.5 411.85 L447 411.84 L447.5 411.82 L448 411.8 L448.5 411.79 L449 411.78 L449.5 411.77 L450 411.76 L450.5 411.75 L451 411.74 L451.5 411.74 L452 411.73 L452.5 411.72 L453 411.72 L453.5 411.72 L454 411.71 L454.5 411.71 L455 411.71 L455.5 411.71 L456 411.71 L456.5 411.71 L457 411.7 L457.5 411.7 L458 411.7 L458.5 411.7 L459 411.7 L459.5 411.7 L460 411.7 L460.5 411.7 L461 411.7 L461.5 411.7 L462 411.7 L462.5 411.7 L463 411.7 L463.5 411.7 L464 411.7 L464.5 411.7 L465 411.7 L465.5 411.7 L466 411.7 L466.5 411.7 L467 411.7 L467.5 411.7 L468 411.7 L468.5 411.7 L469 411.7 L469.5 411.7 L470 411.7 L470.5 411.7 L471 411.7 L471.5 411.7 L472 411.7 L472.5 411.7 L473 411.7 L473.5 411.7 L474 411.7 L474.5 411.7 L475 411.7 L475.5 411.7 L476 411.7 L476.5 411.7 L477 411.7 L477.5 411.7 L478 411.7 L478.5 411.7 L479 411.7 L479.5 411.7 L480 411.7 L480.5 411.7 L481 411.7 L481.5 411.7 L482 411.7 L482.5 411.7 L483 411.7 L483.5 411.7 L484 411.7 L484.5 411.7 L485 411.7 L485.5 411.7 L486 411.7 L486.5 411.7 L487 411.7 L487.5 411.7 L488 411.7 L488.5 411.7 L489 411.7 L489.5 411.7 L490 411.7 L490.5 411.7 L491 411.7 L491.5 411.7 L492 411.7 L492.5 411.7 L493 411.7 L493.5 411.7 L494 411.7 L494.5 411.7 L495 411.7 L495.5 411.7 L496 411.7 L496.5 411.7 L497 411.7 L497.5 411.7 L498 411.7 L498.5 411.7 L499 411.7 L499.5 411.7 L500 411.7 L500.5 411.7 L501 411.7 L501.5 411.7 L502 411.7 L502.5 411.7 L503 411.7 L503.5 411.7 L504 411.7 L504.5 411.7 L505 411.7 L505.5 411.7 L506 411.7 L506.5 411.7 L507 411.7 L507.5 411.7 L508 411.7 L508.5 411.7 L509 411.7 L509.5 411.7 L510 411.7 L510.5 411.7 L511 411.7 L511.5 411.7 L512 411.7 L512.5 411.7 L513 411.7 L513.5 411.7 L514 411.7 L514.5 411.7 L515 411.7 L515.5 411.7 L516 411.7 L516.5 411.7 L517 411.7 L517.5 411.7 L518 411.7 L518.5 411.7 L519 411.7 L519.5 411.7 L520 411.7 L520.5 411.7 L521 411.7 L521.5 411.7 L522 411.7 L522.5 411.7 L523 411.7 L523.5 411.7 L524 411.7 L524.5 411.7 L525 411.7 L525.5 411.7 L526 411.7 L526.5 411.7 L527 411.7 L527.5 411.7 L528 411.7 L528.5 411.7 L529 411.7 L529.5 411.7 L530 411.7 L530.5 411.7 L531 411.7 L531.5 411.7 L532 411.7 L532.5 411.7 L533 411.7 L533.5 411.7 L534 411.7 L534.5 411.7 L535 411.7 L535.5 411.7 L536 411.7 L536.5 411.7 L537 411.7 L537.5 411.7 L538 411.7 L538.5 411.7 L539 411.7 L539.5 411.7 L540 411.7 L540.5 411.7 L541 411.7 L541.5 411.7 L542 411.7 L542.5 411.7 L543 411.7 L543.5 411.7 L544 411.7 L544.5 411.7 L545 411.7 L545.5 411.7 L546 411.7 L546.5 411.7 L547 411.7 L547.5 411.7 L548 411.7 L548.5 411.7 L549 411.7 L549.5 411.7 L550 411.7 L550.5 411.7 L551 411.7 L551.5 411.7 L552 411.7 L552.5 411.7 L553 411.7 L553.5 411.7 L554 411.7 L554.5 411.7 L555 411.7 L555.5 411.7 L556 411.7 L556.5 411.7 L557 411.7 L557.5 411.7 L558 411.7 L558.5 411.7 L559 411.7 L559.5 411.7 L560 411.7 L560.5 411.7 L561 411.7 L561.5 411.7 L562 411.7 L562.5 411.7 L563 411.7 L563.5 411.7 L564 411.7 L564.5 411.7 L565 411.7 L565.5 411.7 L566 411.7 L566.5 411.7 L567 411.7 L567.5 411.7 L568 411.7 L568.5 411.7 L569 411.7 L569.5 411.7 L570 411.7 L570.5 411.7 L571 411.7 L571.5 411.7 L572 411.7 L572.5 411.7 L573 411.7 L573.5 411.7 L574 411.7 L574.5 411.7 L575 411.7 L575.5 411.7 L576 411.7 L576.5 411.7 L577 411.7 L577.5 411.7 L578 411.7 L578.5 411.7 L579 411.7 L579.5 411.7 L580 411.7 L580.5 411.7 L581 411.7 L581.5 411.7 L582 411.7 L582.5 411.7 L583 411.7 L583.5 411.7 L584 411.7 L584.5 411.7 L585 411.7 L585.5 411.7 L586 411.7 L586.5 411.7 L587 411.7 L587.5 411.7 L588 411.7 L588.5 411.7 L589 411.7 L589.5 411.7 L590 411.7 L590.5 411.7 L591 411.7 L591.5 411.7 L592 411.7 L592.5 411.7 L593 411.7 L593.5 411.7 L594 411.7 L594.5 411.7 L595 411.7 L595.5 411.7 L596 411.7 L596.5 411.7 L597 411.7 L597.5 411.7 L598 411.7 L598.5 411.7 L599 411.7 L599.5 411.7 L600 411.7 L600.5 411.7 L601 411.7 L601.5 411.7 L602 411.7 L602.5 411.7 L603 411.7 L603.5 411.7 L604 411.7 L604.5 411.7 L605 411.7 L605.5 411.7 L606 411.7 L606.5 411.7 L607 411.7 L607.5 411.7 L608 411.7 L608.5 411.7 L609 411.7 L609.5 411.7 L610 411.7 L610.5 411.7 L611 411.7 L611.5 411.7 L612 411.7 L612.5 411.7 L613 411.7 L613.5 411.7 L614 411.7 L614.5 411.7 L615 411.7 L615.5 411.7 L616 411.7 L616.5 411.7 L617 411.7 L617.5 411.7 L618 411.7 L618.5 411.7 L619 411.7 L619.5 411.7 L620 411.7 L620.5 411.7 L621 411.7 L621.5 411.7 L622 411.7 L622.5 411.7 L623 411.7 L623.5 411.7 L624 411.7 L624.5 411.7 L625 411.7 L625.5 411.7 L626 411.7 L626.5 411.7 L627 411.7 L627.5 411.7 L628 411.7 L628.5 411.7 L629 411.7 L629.5 411.7 L630 411.7 L630.5 411.7 L631 411.7 L631.5 411.7 L632 411.7 L632.5 411.7 L633 411.7 L633.5 411.7 L634 411.7 L634.5 411.7 L635 411.7 L635.5 411.7 L636 411.7 L636.5 411.7 L637 411.7 L637.5 411.7 L638 411.7 L638.5 411.7 L639 411.7 L639.5 411.7 L640 411.7 L640.5 411.7 L641 411.7 L641.5 411.7 L642 411.7 L642.5 411.7 L643 411.7 L643.5 411.7 L644 411.7 L644.5 411.7 L645 411.7 L645.5 411.7 L646 411.7 L646.5 411.7 L647 411.7 L647.5 411.7 L648 411.7 L648.5 411.7 L649 411.7 L649.5 411.7 L650 411.7 L650.5 411.7 L651 411.7 L651.5 411.7 L652 411.7 L652.5 411.7 L653 411.7 L653.5 411.7 L654 411.7 L654.5 411.7 L655 411.7 L655.5 411.7 L656 411.7 L656.5 411.7 L657 411.7 L657.5 411.7 L658 411.7 L658.5 411.7 L659 411.7 L659.5 411.7 L660 411.7 L660.5 411.7 L661 411.7 L661.5 411.7 L662 411.7 L662.5 411.7 L663 411.7 L663.5 411.7 L664 411.7 L664.5 411.7 L665 411.7 L665.5 411.7 L666 411.7 L666.5 411.7 L667 411.7 L667.5 411.7 L668 411.7 L668.5 411.7 L669 411.7 L669.5 411.7 L670 411.7 L670.5 411.7 L671 411.7 L671.5 411.7 L672 411.7 L672.5 411.7 L673 411.7 L673.5 411.7 L674 411.7 L674.5 411.7 L675 411.7 L675.5 411.7 L676 411.7 L676.5 411.7 L677 411.7 L677.5 411.7 L678 411.7 L678.5 411.7 L679 411.7 L679.5 411.7 L680 411.7 L680.5 411.7 L681 411.7 L681.5 411.7 L682 411.7 L682.5 411.7" fill="none" stroke="#9a0a10" stroke-width="1.6" stroke-linejoin="round"/>
<path d="M560 411.4 L560.5 411.4 L561 411.4 L561.5 411.4 L562 411.4 L562.5 411.4 L563 411.4 L563.5 411.4 L564 411.4 L564.5 411.4 L565 411.4 L565.5 411.4 L566 411.4 L566.5 411.4 L567 411.4 L567.5 411.4 L568 411.4 L568.5 411.4 L569 411.4 L569.5 411.4 L570 411.4 L570.5 411.4 L571 411.4 L571.5 411.4 L572 411.4 L572.5 411.4 L573 411.4 L573.5 411.4 L574 411.4 L574.5 411.4 L575 411.4 L575.5 411.4 L576 411.4 L576.5 411.4 L577 411.4 L577.5 411.4 L578 411.4 L578.5 411.4 L579 411.4 L579.5 411.4 L580 411.4 L580.5 411.4 L581 411.4 L581.5 411.4 L582 411.4 L582.5 411.4 L583 411.4 L583.5 411.4 L584 411.4 L584.5 411.4 L585 411.4 L585.5 411.4 L586 411.4 L586.5 411.4 L587 411.4 L587.5 411.4 L588 411.4 L588.5 411.4 L589 411.4 L589.5 411.4 L590 411.4 L590.5 411.4 L591 411.4 L591.5 411.4 L592 411.4 L592.5 411.4 L593 411.4 L593.5 411.4 L594 411.4 L594.5 411.4 L595 411.4 L595.5 411.4 L596 411.4 L596.5 411.4 L597 411.4 L597.5 411.4 L598 411.4 L598.5 411.4 L599 411.4 L599.5 411.4 L600 411.4 L600.5 411.4 L601 411.4 L601.5 411.4 L602 411.4 L602.5 411.4 L603 411.4 L603.5 411.4 L604 411.4 L604.5 411.4 L605 411.4 L605.5 411.4 L606 411.4 L606.5 411.4 L607 411.4 L607.5 411.4 L608 411.4 L608.5 411.4 L609 411.4 L609.5 411.4 L610 411.4 L610.5 411.4 L611 411.4 L611.5 411.4 L612 411.4 L612.5 411.4 L613 411.4 L613.5 411.4 L614 411.4 L614.5 411.4 L615 411.4 L615.5 411.4 L616 411.4 L616.5 411.4 L617 411.4 L617.5 411.4 L618 411.4 L618.5 411.4 L619 411.4 L619.5 411.4 L620 411.4 L620.5 411.4 L621 411.4 L621.5 411.4 L622 411.4 L622.5 411.4 L623 411.4 L623.5 411.4 L624 411.4 L624.5 411.4 L625 411.4 L625.5 411.4 L626 411.4 L626.5 411.4 L627 411.4 L627.5 411.4 L628 411.4 L628.5 411.4 L629 411.4 L629.5 411.4 L630 411.4 L630.5 411.4 L631 411.4 L631.5 411.4 L632 411.4 L632.5 411.4 L633 411.4 L633.5 411.4 L634 411.4 L634.5 411.4 L635 411.4 L635.5 411.4 L636 411.4 L636.5 411.4 L637 411.4 L637.5 411.4 L638 411.4 L638.5 411.4 L639 411.4 L639.5 411.4 L640 411.4 L640.5 411.4 L641 411.4 L641.5 411.4 L642 411.4 L642.5 411.4 L643 411.4 L643.5 411.4 L644 411.4 L644.5 411.4 L645 411.4 L645.5 411.4 L646 411.4 L646.5 411.4 L647 411.4 L647.5 411.4 L648 411.4 L648.5 411.4 L649 411.4 L649.5 411.4 L650 411.4 L650.5 411.4 L651 411.4 L651.5 411.4 L652 411.4 L652.5 411.4 L653 411.4 L653.5 411.4 L654 411.4 L654.5 411.4 L655 411.4 L655.5 411.4 L656 411.4 L656.5 411.4 L657 411.4 L657.5 411.4 L658 411.4 L658.5 411.4 L659 411.4 L659.5 411.4 L660 411.4 L660.5 411.4 L661 411.4 L661.5 411.4 L662 411.4 L662.5 411.4 L663 411.4 L663.5 411.4 L664 411.4 L664.5 411.4 L665 411.4 L665.5 411.4 L666 411.4 L666.5 411.4 L667 411.4 L667.5 411.4 L668 411.4 L668.5 411.4 L669 411.4 L669.5 411.4 L670 411.4 L670.5 411.4 L671 411.4 L671.5 411.4 L672 411.4 L672.5 411.4 L673 411.4 L673.5 411.4 L674 411.4 L674.5 411.4 L675 411.4 L675.5 411.4 L676 411.4 L676.5 411.4 L677 411.4 L677.5 411.4 L678 411.4 L678.5 411.4 L679 411.4 L679.5 411.4 L680 411.4 L680.5 411.4 L681 411.4 L681.5 411.4 L682 411.4 L682.5 411.4" fill="none" stroke="#a020e0" stroke-width="1.6" stroke-linejoin="round"/>
<path d="M381 410.26 L381.5 410.25 L382 410.24 L382.5 410.23 L383 410.21 L383.5 410.19 L384 410.17 L384.5 410.15 L385 410.12 L385.5 410.09 L386 410.05 L386.5 410 L387 409.95 L387.5 409.89 L388 409.82 L388.5 409.74 L389 409.65 L389.5 409.55 L390 409.43 L390.5 409.3 L391 409.16 L391.5 408.99 L392 408.81 L392.5 408.61 L393 408.39 L393.5 408.15 L394 407.88 L394.5 407.59 L395 407.28 L395.5 406.94 L396 406.57 L396.5 406.17 L397 405.75 L397.5 405.31 L398 404.83 L398.5 404.33 L399 403.81 L399.5 403.26 L400 402.69 L400.5 402.1 L401 401.49 L401.5 400.87 L402 400.24 L402.5 399.6 L403 398.96 L403.5 398.31 L404 397.67 L404.5 397.04 L405 396.43 L405.5 395.83 L406 395.25 L406.5 394.7 L407 394.18 L407.5 393.7 L408 393.26 L408.5 392.87 L409 392.52 L409.5 392.23 L410 391.99 L410.5 391.8 L411 391.68 L411.5 391.61 L412 391.6 L412.5 391.66 L413 391.77 L413.5 391.95 L414 392.18 L414.5 392.46 L415 392.8 L415.5 393.18 L416 393.61 L416.5 394.09 L417 394.6 L417.5 395.14 L418 395.71 L418.5 396.31 L419 396.92 L419.5 397.55 L420 398.19 L420.5 398.83 L421 399.47 L421.5 400.11 L422 400.75 L422.5 401.37 L423 401.98 L423.5 402.57 L424 403.15 L424.5 403.7 L425 404.23 L425.5 404.73 L426 405.21 L426.5 405.67 L427 406.09 L427.5 406.49 L428 406.86 L428.5 407.21 L429 407.53 L429.5 407.82 L430 408.09 L430.5 408.34 L431 408.57 L431.5 408.77 L432 408.95 L432.5 409.11 L433 409.26 L433.5 409.39 L434 409.5 L434.5 409.6 L435 409.69 L435.5 409.76 L436 409.82 L436.5 409.87 L437 409.91 L437.5 409.93 L438 409.95 L438.5 409.95 L439 409.95 L439.5 409.93 L440 409.9 L440.5 409.85 L441 409.79 L441.5 409.72 L442 409.63 L442.5 409.52 L443 409.39 L443.5 409.23 L444 409.05 L444.5 408.84 L445 408.6 L445.5 408.32 L446 408.01 L446.5 407.66 L447 407.27 L447.5 406.83 L448 406.34 L448.5 405.8 L449 405.21 L449.5 404.56 L450 403.86 L450.5 403.1 L451 402.29 L451.5 401.42 L452 400.49 L452.5 399.51 L453 398.49 L453.5 397.42 L454 396.31 L454.5 395.17 L455 394 L455.5 392.81 L456 391.62 L456.5 390.42 L457 389.24 L457.5 388.07 L458 386.94 L458.5 385.85 L459 384.81 L459.5 383.84 L460 382.95 L460.5 382.14 L461 381.42 L461.5 380.81 L462 380.31 L462.5 379.92 L463 379.66 L463.5 379.52 L464 379.51 L464.5 379.62 L465 379.86 L465.5 380.22 L466 380.7 L466.5 381.29 L467 381.99 L467.5 382.78 L468 383.66 L468.5 384.61 L469 385.64 L469.5 386.72 L470 387.84 L470.5 389 L471 390.18 L471.5 391.38 L472 392.58 L472.5 393.77 L473 394.94 L473.5 396.09 L474 397.2 L474.5 398.28 L475 399.31 L475.5 400.3 L476 401.24 L476.5 402.12 L477 402.94 L477.5 403.71 L478 404.43 L478.5 405.08 L479 405.69 L479.5 406.24 L480 406.74 L480.5 407.19 L481 407.59 L481.5 407.95 L482 408.28 L482.5 408.56 L483 408.81 L483.5 409.03 L484 409.22 L484.5 409.39 L485 409.53 L485.5 409.66 L486 409.76 L486.5 409.85 L487 409.93 L487.5 410 L488 410.05 L488.5 410.1 L489 410.13 L489.5 410.16 L490 410.19 L490.5 410.21 L491 410.23 L491.5 410.24 L492 410.26 L492.5 410.26 L493 410.27 L493.5 410.28 L494 410.28 L494.5 410.29 L495 410.29 L495.5 410.29 L496 410.29 L496.5 410.3 L497 410.3 L497.5 410.3 L498 410.3 L498.5 410.3 L499 410.3 L499.5 410.3 L500 410.3 L500.5 410.3 L501 410.3 L501.5 410.3 L502 410.3 L502.5 410.3 L503 410.3 L503.5 410.3 L504 410.3 L504.5 410.3 L505 410.3 L505.5 410.3 L506 410.3 L506.5 410.3 L507 410.3 L507.5 410.3 L508 410.3 L508.5 410.3 L509 410.3 L509.5 410.3 L510 410.3 L510.5 410.3 L511 410.3 L511.5 410.3 L512 410.3 L512.5 410.3 L513 410.3 L513.5 410.3 L514 410.3 L514.5 410.3 L515 410.3 L515.5 410.3 L516 410.3 L516.5 410.3 L517 410.3 L517.5 410.3 L518 410.3 L518.5 410.3 L519 410.3 L519.5 410.3 L520 410.3 L520.5 410.3 L521 410.3 L521.5 410.3 L522 410.3 L522.5 410.3 L523 410.3 L523.5 410.3 L524 410.3 L524.5 410.3 L525 410.3 L525.5 410.3 L526 410.3 L526.5 410.3 L527 410.3 L527.5 410.3 L528 410.3 L528.5 410.3 L529 410.3 L529.5 410.3 L530 410.3 L530.5 410.3 L531 410.3 L531.5 410.3 L532 410.3 L532.5 410.3 L533 410.3 L533.5 410.3 L534 410.3 L534.5 410.3 L535 410.3 L535.5 410.3 L536 410.3 L536.5 410.3 L537 410.3 L537.5 410.3 L538 410.3 L538.5 410.3 L539 410.3 L539.5 410.3 L540 410.3 L540.5 410.3 L541 410.3 L541.5 410.3 L542 410.3 L542.5 410.3 L543 410.3 L543.5 410.3 L544 410.3 L544.5 410.3 L545 410.3 L545.5 410.3 L546 410.3 L546.5 410.3 L547 410.3 L547.5 410.3 L548 410.3 L548.5 410.3 L549 410.3 L549.5 410.3 L550 410.3 L550.5 410.3 L551 410.3 L551.5 410.3 L552 410.3 L552.5 410.3 L553 410.3 L553.5 410.3 L554 410.3 L554.5 410.3 L555 410.3 L555.5 410.3 L556 410.3 L556.5 410.3 L557 410.3 L557.5 410.3 L558 410.3 L558.5 410.3 L559 410.3 L559.5 410.3 L560 410.3 L560.5 410.3 L561 410.3 L561.5 410.3 L562 410.3 L562.5 410.3 L563 410.3 L563.5 410.3 L564 410.3 L564.5 410.3 L565 410.3 L565.5 410.3 L566 410.3 L566.5 410.3 L567 410.3 L567.5 410.3 L568 410.3 L568.5 410.3 L569 410.3 L569.5 410.3 L570 410.3 L570.5 410.3 L571 410.3 L571.5 410.3 L572 410.3 L572.5 410.3 L573 410.3 L573.5 410.3 L574 410.3 L574.5 410.3 L575 410.3 L575.5 410.3 L576 410.3 L576.5 410.3 L577 410.3 L577.5 410.3 L578 410.3 L578.5 410.3 L579 410.3 L579.5 410.3 L580 410.3 L580.5 410.3 L581 410.3 L581.5 410.3 L582 410.3 L582.5 410.3 L583 410.3 L583.5 410.3 L584 410.3 L584.5 410.3 L585 410.3 L585.5 410.3 L586 410.3 L586.5 410.3 L587 410.3 L587.5 410.3 L588 410.3 L588.5 410.3 L589 410.3 L589.5 410.3 L590 410.3 L590.5 410.3 L591 410.3 L591.5 410.3 L592 410.3 L592.5 410.3 L593 410.3 L593.5 410.3 L594 410.3 L594.5 410.3 L595 410.3 L595.5 410.3 L596 410.3 L596.5 410.3 L597 410.3 L597.5 410.3 L598 410.3 L598.5 410.3 L599 410.3 L599.5 410.3 L600 410.3 L600.5 410.3 L601 410.3 L601.5 410.3 L602 410.3 L602.5 410.3 L603 410.3 L603.5 410.3 L604 410.3 L604.5 410.3 L605 410.3 L605.5 410.3 L606 410.3 L606.5 410.3 L607 410.3 L607.5 410.3 L608 410.3 L608.5 410.3 L609 410.3 L609.5 410.3 L610 410.3 L610.5 410.3 L611 410.3 L611.5 410.3 L612 410.3 L612.5 410.3 L613 410.3 L613.5 410.3 L614 410.3 L614.5 410.3 L615 410.3 L615.5 410.3 L616 410.3 L616.5 410.3 L617 410.3 L617.5 410.3 L618 410.3 L618.5 410.3 L619 410.3 L619.5 410.3 L620 410.3 L620.5 410.3 L621 410.3 L621.5 410.3 L622 410.3 L622.5 410.3 L623 410.3 L623.5 410.3 L624 410.3 L624.5 410.3 L625 410.3 L625.5 410.3 L626 410.3 L626.5 410.3 L627 410.3 L627.5 410.3 L628 410.3 L628.5 410.3 L629 410.3 L629.5 410.3 L630 410.3 L630.5 410.3 L631 410.3 L631.5 410.3 L632 410.3 L632.5 410.3 L633 410.3 L633.5 410.3 L634 410.3 L634.5 410.3 L635 410.3 L635.5 410.3 L636 410.3 L636.5 410.3 L637 410.3 L637.5 410.3 L638 410.3 L638.5 410.3 L639 410.3 L639.5 410.3 L640 410.3 L640.5 410.3 L641 410.3 L641.5 410.3 L642 410.3 L642.5 410.3 L643 410.3 L643.5 410.3 L644 410.3 L644.5 410.3 L645 410.3 L645.5 410.3 L646 410.3 L646.5 410.3 L647 410.3 L647.5 410.3 L648 410.3 L648.5 410.3 L649 410.3 L649.5 410.3 L650 410.3 L650.5 410.3 L651 410.3 L651.5 410.3 L652 410.3 L652.5 410.3 L653 410.3 L653.5 410.3 L654 410.3 L654.5 410.3 L655 410.3 L655.5 410.3 L656 410.3 L656.5 410.3 L657 410.3 L657.5 410.3 L658 410.3 L658.5 410.3 L659 410.3 L659.5 410.3 L660 410.3 L660.5 410.3 L661 410.3 L661.5 410.3 L662 410.3 L662.5 410.3 L663 410.3 L663.5 410.3 L664 410.3 L664.5 410.3 L665 410.3 L665.5 410.3 L666 410.3 L666.5 410.3 L667 410.3 L667.5 410.3 L668 410.3 L668.5 410.3 L669 410.3 L669.5 410.3 L670 410.3 L670.5 410.3 L671 410.3 L671.5 410.3 L672 410.3 L672.5 410.3 L673 410.3 L673.5 410.3 L674 410.3 L674.5 410.3 L675 410.3 L675.5 410.3 L676 410.3 L676.5 410.3 L677 410.3 L677.5 410.3 L678 410.3 L678.5 410.3 L679 410.3 L679.5 410.3 L680 410.3 L680.5 410.3 L681 410.3 L681.5 410.3 L682 410.3 L682.5 410.3" fill="none" stroke="#ffa8d8" stroke-width="1.4" stroke-linejoin="round"/>
<path d="M381 410.29 L381.5 410.28 L382 410.28 L382.5 410.28 L383 410.27 L383.5 410.26 L384 410.26 L384.5 410.25 L385 410.24 L385.5 410.22 L386 410.21 L386.5 410.19 L387 410.17 L387.5 410.14 L388 410.11 L388.5 410.08 L389 410.04 L389.5 409.99 L390 409.94 L390.5 409.88 L391 409.81 L391.5 409.73 L392 409.65 L392.5 409.55 L393 409.44 L393.5 409.32 L394 409.19 L394.5 409.04 L395 408.88 L395.5 408.7 L396 408.51 L396.5 408.3 L397 408.08 L397.5 407.83 L398 407.58 L398.5 407.3 L399 407.01 L399.5 406.71 L400 406.39 L400.5 406.05 L401 405.71 L401.5 405.35 L402 404.98 L402.5 404.61 L403 404.23 L403.5 403.86 L404 403.48 L404.5 403.1 L405 402.73 L405.5 402.37 L406 402.03 L406.5 401.7 L407 401.38 L407.5 401.09 L408 400.82 L408.5 400.58 L409 400.37 L409.5 400.19 L410 400.04 L410.5 399.92 L411 399.85 L411.5 399.81 L412 399.8 L412.5 399.84 L413 399.91 L413.5 400.01 L414 400.15 L414.5 400.33 L415 400.53 L415.5 400.77 L416 401.03 L416.5 401.32 L417 401.63 L417.5 401.96 L418 402.3 L418.5 402.66 L419 403.03 L419.5 403.4 L420 403.78 L420.5 404.16 L421 404.54 L421.5 404.91 L422 405.28 L422.5 405.64 L423 405.98 L423.5 406.32 L424 406.64 L424.5 406.95 L425 407.25 L425.5 407.52 L426 407.78 L426.5 408.03 L427 408.26 L427.5 408.47 L428 408.66 L428.5 408.84 L429 409.01 L429.5 409.16 L430 409.29 L430.5 409.41 L431 409.52 L431.5 409.62 L432 409.71 L432.5 409.78 L433 409.84 L433.5 409.9 L434 409.94 L434.5 409.98 L435 410.01 L435.5 410.02 L436 410.03 L436.5 410.03 L437 410.01 L437.5 409.99 L438 409.95 L438.5 409.89 L439 409.81 L439.5 409.71 L440 409.59 L440.5 409.43 L441 409.24 L441.5 409.01 L442 408.73 L442.5 408.4 L443 408 L443.5 407.53 L444 406.97 L444.5 406.33 L445 405.58 L445.5 404.7 L446 403.7 L446.5 402.56 L447 401.25 L447.5 399.78 L448 398.12 L448.5 396.26 L449 394.19 L449.5 391.91 L450 389.39 L450.5 386.64 L451 383.64 L451.5 380.4 L452 376.93 L452.5 373.21 L453 369.28 L453.5 365.13 L454 360.79 L454.5 356.28 L455 351.62 L455.5 346.86 L456 342.02 L456.5 337.15 L457 332.28 L457.5 327.48 L458 322.77 L458.5 318.22 L459 313.88 L459.5 309.79 L460 306 L460.5 302.56 L461 299.52 L461.5 296.91 L462 294.77 L462.5 293.12 L463 291.99 L463.5 291.4 L464 291.34 L464.5 291.83 L465 292.85 L465.5 294.4 L466 296.44 L466.5 298.96 L467 301.92 L467.5 305.28 L468 309 L468.5 313.04 L469 317.33 L469.5 321.85 L470 326.52 L470.5 331.32 L471 336.17 L471.5 341.05 L472 345.9 L472.5 350.68 L473 355.36 L473.5 359.9 L474 364.28 L474.5 368.46 L475 372.45 L475.5 376.2 L476 379.73 L476.5 383.01 L477 386.06 L477.5 388.86 L478 391.42 L478.5 393.76 L479 395.87 L479.5 397.77 L480 399.46 L480.5 400.98 L481 402.31 L481.5 403.49 L482 404.52 L482.5 405.41 L483 406.19 L483.5 406.86 L484 407.43 L484.5 407.92 L485 408.34 L485.5 408.68 L486 408.98 L486.5 409.22 L487 409.43 L487.5 409.59 L488 409.73 L488.5 409.85 L489 409.94 L489.5 410.01 L490 410.07 L490.5 410.12 L491 410.16 L491.5 410.19 L492 410.22 L492.5 410.24 L493 410.25 L493.5 410.26 L494 410.27 L494.5 410.28 L495 410.28 L495.5 410.29 L496 410.29 L496.5 410.29 L497 410.29 L497.5 410.3 L498 410.3 L498.5 410.3 L499 410.3 L499.5 410.3 L500 410.3 L500.5 410.3 L501 410.3 L501.5 410.3 L502 410.3 L502.5 410.3 L503 410.3 L503.5 410.3 L504 410.3 L504.5 410.3 L505 410.3 L505.5 410.3 L506 410.3 L506.5 410.3 L507 410.3 L507.5 410.3 L508 410.3 L508.5 410.3 L509 410.3 L509.5 410.3 L510 410.3 L510.5 410.3 L511 410.3 L511.5 410.3 L512 410.3 L512.5 410.3 L513 410.3 L513.5 410.3 L514 410.3 L514.5 410.3 L515 410.3 L515.5 410.3 L516 410.3 L516.5 410.3 L517 410.3 L517.5 410.3 L518 410.3 L518.5 410.3 L519 410.3 L519.5 410.3 L520 410.3 L520.5 410.3 L521 410.3 L521.5 410.3 L522 410.3 L522.5 410.3 L523 410.3 L523.5 410.3 L524 410.3 L524.5 410.3 L525 410.3 L525.5 410.3 L526 410.29 L526.5 410.29 L527 410.29 L527.5 410.28 L528 410.28 L528.5 410.27 L529 410.26 L529.5 410.25 L530 410.24 L530.5 410.22 L531 410.19 L531.5 410.16 L532 410.12 L532.5 410.08 L533 410.02 L533.5 409.95 L534 409.86 L534.5 409.76 L535 409.64 L535.5 409.5 L536 409.33 L536.5 409.14 L537 408.92 L537.5 408.66 L538 408.37 L538.5 408.04 L539 407.68 L539.5 407.27 L540 406.83 L540.5 406.34 L541 405.82 L541.5 405.26 L542 404.67 L542.5 404.05 L543 403.4 L543.5 402.74 L544 402.06 L544.5 401.39 L545 400.72 L545.5 400.07 L546 399.45 L546.5 398.86 L547 398.32 L547.5 397.84 L548 397.42 L548.5 397.07 L549 396.8 L549.5 396.61 L550 396.52 L550.5 396.51 L551 396.59 L551.5 396.76 L552 397.01 L552.5 397.34 L553 397.75 L553.5 398.22 L554 398.75 L554.5 399.33 L555 399.95 L555.5 400.59 L556 401.26 L556.5 401.93 L557 402.6 L557.5 403.27 L558 403.92 L558.5 404.54 L559 405.14 L559.5 405.71 L560 406.24 L560.5 406.73 L561 407.19 L561.5 407.6 L562 407.97 L562.5 408.31 L563 408.6 L563.5 408.87 L564 409.09 L564.5 409.29 L565 409.46 L565.5 409.61 L566 409.73 L566.5 409.83 L567 409.91 L567.5 409.98 L568 410.03 L568.5 410.07 L569 410.09 L569.5 410.11 L570 410.11 L570.5 410.11 L571 410.1 L571.5 410.08 L572 410.06 L572.5 410.02 L573 409.98 L573.5 409.92 L574 409.86 L574.5 409.79 L575 409.72 L575.5 409.63 L576 409.54 L576.5 409.43 L577 409.32 L577.5 409.21 L578 409.08 L578.5 408.96 L579 408.83 L579.5 408.7 L580 408.57 L580.5 408.44 L581 408.31 L581.5 408.2 L582 408.09 L582.5 407.99 L583 407.9 L583.5 407.83 L584 407.77 L584.5 407.73 L585 407.71 L585.5 407.7 L586 407.71 L586.5 407.74 L587 407.79 L587.5 407.85 L588 407.93 L588.5 408.02 L589 408.13 L589.5 408.24 L590 408.36 L590.5 408.49 L591 408.62 L591.5 408.75 L592 408.88 L592.5 409.01 L593 409.13 L593.5 409.25 L594 409.37 L594.5 409.48 L595 409.58 L595.5 409.67 L596 409.75 L596.5 409.83 L597 409.9 L597.5 409.96 L598 410.01 L598.5 410.06 L599 410.1 L599.5 410.14 L600 410.17 L600.5 410.19 L601 410.21 L601.5 410.23 L602 410.24 L602.5 410.26 L603 410.26 L603.5 410.27 L604 410.28 L604.5 410.28 L605 410.29 L605.5 410.29 L606 410.29 L606.5 410.29 L607 410.3 L607.5 410.3 L608 410.3 L608.5 410.3 L609 410.3 L609.5 410.3 L610 410.3 L610.5 410.3 L611 410.3 L611.5 410.3 L612 410.3 L612.5 410.3 L613 410.3 L613.5 410.3 L614 410.3 L614.5 410.3 L615 410.3 L615.5 410.3 L616 410.3 L616.5 410.3 L617 410.3 L617.5 410.3 L618 410.3 L618.5 410.3 L619 410.3 L619.5 410.3 L620 410.3 L620.5 410.3 L621 410.3 L621.5 410.3 L622 410.3 L622.5 410.3 L623 410.3 L623.5 410.3 L624 410.3 L624.5 410.3 L625 410.3 L625.5 410.3 L626 410.3 L626.5 410.3 L627 410.3 L627.5 410.3 L628 410.3 L628.5 410.3 L629 410.3 L629.5 410.3 L630 410.3 L630.5 410.3 L631 410.3 L631.5 410.3 L632 410.3 L632.5 410.3 L633 410.3 L633.5 410.3 L634 410.3 L634.5 410.3 L635 410.3 L635.5 410.3 L636 410.3 L636.5 410.3 L637 410.3 L637.5 410.3 L638 410.3 L638.5 410.3 L639 410.3 L639.5 410.3 L640 410.3 L640.5 410.3 L641 410.3 L641.5 410.3 L642 410.3 L642.5 410.3 L643 410.3 L643.5 410.3 L644 410.3 L644.5 410.3 L645 410.3 L645.5 410.3 L646 410.3 L646.5 410.3 L647 410.3 L647.5 410.3 L648 410.3 L648.5 410.3 L649 410.3 L649.5 410.3 L650 410.3 L650.5 410.3 L651 410.3 L651.5 410.3 L652 410.3 L652.5 410.3 L653 410.3 L653.5 410.3 L654 410.3 L654.5 410.3 L655 410.3 L655.5 410.3 L656 410.3 L656.5 410.3 L657 410.3 L657.5 410.3 L658 410.3 L658.5 410.3 L659 410.3 L659.5 410.3 L660 410.3 L660.5 410.3 L661 410.3 L661.5 410.3 L662 410.3 L662.5 410.3 L663 410.3 L663.5 410.3 L664 410.3 L664.5 410.3 L665 410.3 L665.5 410.3 L666 410.3 L666.5 410.3 L667 410.3 L667.5 410.3 L668 410.3 L668.5 410.3 L669 410.3 L669.5 410.3 L670 410.3 L670.5 410.3 L671 410.3 L671.5 410.3 L672 410.3 L672.5 410.3 L673 410.3 L673.5 410.3 L674 410.3 L674.5 410.3 L675 410.3 L675.5 410.3 L676 410.3 L676.5 410.3 L677 410.3 L677.5 410.3 L678 410.3 L678.5 410.3 L679 410.3 L679.5 410.3 L680 410.3 L680.5 410.3 L681 410.3 L681.5 410.3 L682 410.3 L682.5 410.3" fill="none" stroke="#ebae30" stroke-width="1.5" stroke-linejoin="round"/>
<path d="M381 410.29 L381.5 410.29 L382 410.29 L382.5 410.28 L383 410.28 L383.5 410.28 L384 410.27 L384.5 410.27 L385 410.26 L385.5 410.25 L386 410.24 L386.5 410.23 L387 410.22 L387.5 410.2 L388 410.18 L388.5 410.16 L389 410.13 L389.5 410.11 L390 410.07 L390.5 410.03 L391 409.99 L391.5 409.94 L392 409.89 L392.5 409.83 L393 409.76 L393.5 409.68 L394 409.6 L394.5 409.51 L395 409.41 L395.5 409.3 L396 409.17 L396.5 409.04 L397 408.9 L397.5 408.75 L398 408.59 L398.5 408.42 L399 408.23 L399.5 408.04 L400 407.84 L400.5 407.63 L401 407.41 L401.5 407.19 L402 406.96 L402.5 406.72 L403 406.49 L403.5 406.25 L404 406.01 L404.5 405.78 L405 405.54 L405.5 405.32 L406 405.1 L406.5 404.89 L407 404.69 L407.5 404.51 L408 404.34 L408.5 404.19 L409 404.06 L409.5 403.94 L410 403.85 L410.5 403.78 L411 403.73 L411.5 403.7 L412 403.7 L412.5 403.72 L413 403.77 L413.5 403.83 L414 403.92 L414.5 404.03 L415 404.16 L415.5 404.31 L416 404.48 L416.5 404.66 L417 404.85 L417.5 405.06 L418 405.27 L418.5 405.5 L419 405.73 L419.5 405.96 L420 406.2 L420.5 406.44 L421 406.68 L421.5 406.91 L422 407.14 L422.5 407.37 L423 407.59 L423.5 407.8 L424 408 L424.5 408.2 L425 408.38 L425.5 408.55 L426 408.72 L426.5 408.87 L427 409.02 L427.5 409.15 L428 409.27 L428.5 409.38 L429 409.49 L429.5 409.58 L430 409.67 L430.5 409.74 L431 409.81 L431.5 409.87 L432 409.93 L432.5 409.97 L433 410.01 L433.5 410.05 L434 410.08 L434.5 410.1 L435 410.12 L435.5 410.13 L436 410.13 L436.5 410.13 L437 410.12 L437.5 410.11 L438 410.08 L438.5 410.05 L439 410 L439.5 409.94 L440 409.87 L440.5 409.77 L441 409.66 L441.5 409.52 L442 409.35 L442.5 409.14 L443 408.9 L443.5 408.61 L444 408.28 L444.5 407.88 L445 407.43 L445.5 406.9 L446 406.29 L446.5 405.59 L447 404.8 L447.5 403.9 L448 402.89 L448.5 401.76 L449 400.5 L449.5 399.11 L450 397.58 L450.5 395.9 L451 394.08 L451.5 392.11 L452 390 L452.5 387.74 L453 385.34 L453.5 382.82 L454 380.18 L454.5 377.43 L455 374.6 L455.5 371.7 L456 368.76 L456.5 365.79 L457 362.83 L457.5 359.91 L458 357.05 L458.5 354.28 L459 351.64 L459.5 349.15 L460 346.84 L460.5 344.75 L461 342.9 L461.5 341.31 L462 340.01 L462.5 339.01 L463 338.32 L463.5 337.96 L464 337.93 L464.5 338.22 L465 338.85 L465.5 339.79 L466 341.03 L466.5 342.56 L467 344.36 L467.5 346.41 L468 348.67 L468.5 351.12 L469 353.74 L469.5 356.49 L470 359.33 L470.5 362.25 L471 365.2 L471.5 368.17 L472 371.12 L472.5 374.03 L473 376.87 L473.5 379.64 L474 382.3 L474.5 384.85 L475 387.27 L475.5 389.56 L476 391.7 L476.5 393.7 L477 395.55 L477.5 397.25 L478 398.81 L478.5 400.23 L479 401.52 L479.5 402.67 L480 403.71 L480.5 404.63 L481 405.44 L481.5 406.16 L482 406.78 L482.5 407.33 L483 407.8 L483.5 408.21 L484 408.56 L484.5 408.85 L485 409.1 L485.5 409.32 L486 409.5 L486.5 409.64 L487 409.77 L487.5 409.87 L488 409.96 L488.5 410.02 L489 410.08 L489.5 410.13 L490 410.16 L490.5 410.19 L491 410.22 L491.5 410.23 L492 410.25 L492.5 410.26 L493 410.27 L493.5 410.28 L494 410.28 L494.5 410.29 L495 410.29 L495.5 410.29 L496 410.29 L496.5 410.3 L497 410.3 L497.5 410.3 L498 410.3 L498.5 410.3 L499 410.3 L499.5 410.3 L500 410.3 L500.5 410.3 L501 410.3 L501.5 410.3 L502 410.3 L502.5 410.3 L503 410.3 L503.5 410.3 L504 410.3 L504.5 410.3 L505 410.3 L505.5 410.3 L506 410.3 L506.5 410.3 L507 410.3 L507.5 410.3 L508 410.3 L508.5 410.3 L509 410.3 L509.5 410.3 L510 410.3 L510.5 410.3 L511 410.3 L511.5 410.3 L512 410.3 L512.5 410.3 L513 410.3 L513.5 410.3 L514 410.3 L514.5 410.3 L515 410.3 L515.5 410.3 L516 410.3 L516.5 410.3 L517 410.3 L517.5 410.3 L518 410.3 L518.5 410.3 L519 410.3 L519.5 410.3 L520 410.3 L520.5 410.3 L521 410.3 L521.5 410.3 L522 410.3 L522.5 410.3 L523 410.3 L523.5 410.3 L524 410.3 L524.5 410.3 L525 410.3 L525.5 410.3 L526 410.3 L526.5 410.3 L527 410.3 L527.5 410.3 L528 410.3 L528.5 410.3 L529 410.3 L529.5 410.3 L530 410.3 L530.5 410.3 L531 410.3 L531.5 410.3 L532 410.3 L532.5 410.3 L533 410.3 L533.5 410.3 L534 410.3 L534.5 410.3 L535 410.3 L535.5 410.3 L536 410.3 L536.5 410.3 L537 410.3 L537.5 410.3 L538 410.3 L538.5 410.3 L539 410.3 L539.5 410.3 L540 410.3 L540.5 410.3 L541 410.3 L541.5 410.3 L542 410.3 L542.5 410.3 L543 410.3 L543.5 410.3 L544 410.3 L544.5 410.3 L545 410.3 L545.5 410.3 L546 410.3 L546.5 410.3 L547 410.3 L547.5 410.3 L548 410.3 L548.5 410.3 L549 410.3 L549.5 410.3 L550 410.3 L550.5 410.3 L551 410.3 L551.5 410.3 L552 410.3 L552.5 410.3 L553 410.3 L553.5 410.3 L554 410.3 L554.5 410.3 L555 410.3 L555.5 410.3 L556 410.3 L556.5 410.3 L557 410.3 L557.5 410.3 L558 410.3 L558.5 410.3 L559 410.3 L559.5 410.3 L560 410.3 L560.5 410.3 L561 410.3 L561.5 410.3 L562 410.3 L562.5 410.3 L563 410.3 L563.5 410.3 L564 410.3 L564.5 410.3 L565 410.3 L565.5 410.3 L566 410.3 L566.5 410.3 L567 410.3 L567.5 410.3 L568 410.3 L568.5 410.3 L569 410.3 L569.5 410.3 L570 410.3 L570.5 410.3 L571 410.3 L571.5 410.3 L572 410.3 L572.5 410.3 L573 410.3 L573.5 410.3 L574 410.3 L574.5 410.3 L575 410.3 L575.5 410.3 L576 410.3 L576.5 410.3 L577 410.3 L577.5 410.3 L578 410.3 L578.5 410.3 L579 410.3 L579.5 410.3 L580 410.3 L580.5 410.3 L581 410.3 L581.5 410.3 L582 410.3 L582.5 410.3 L583 410.3 L583.5 410.3 L584 410.3 L584.5 410.3 L585 410.3 L585.5 410.3 L586 410.3 L586.5 410.3 L587 410.3 L587.5 410.3 L588 410.3 L588.5 410.3 L589 410.3 L589.5 410.3 L590 410.3 L590.5 410.3 L591 410.3 L591.5 410.3 L592 410.3 L592.5 410.3 L593 410.3 L593.5 410.3 L594 410.3 L594.5 410.3 L595 410.3 L595.5 410.3 L596 410.3 L596.5 410.3 L597 410.3 L597.5 410.3 L598 410.3 L598.5 410.3 L599 410.3 L599.5 410.3 L600 410.3 L600.5 410.3 L601 410.3 L601.5 410.3 L602 410.3 L602.5 410.3 L603 410.3 L603.5 410.3 L604 410.3 L604.5 410.3 L605 410.3 L605.5 410.3 L606 410.3 L606.5 410.3 L607 410.3 L607.5 410.3 L608 410.3 L608.5 410.3 L609 410.3 L609.5 410.3 L610 410.3 L610.5 410.3 L611 410.3 L611.5 410.3 L612 410.3 L612.5 410.3 L613 410.3 L613.5 410.3 L614 410.3 L614.5 410.3 L615 410.3 L615.5 410.3 L616 410.3 L616.5 410.3 L617 410.3 L617.5 410.3 L618 410.3 L618.5 410.3 L619 410.3 L619.5 410.3 L620 410.3 L620.5 410.3 L621 410.3 L621.5 410.3 L622 410.3 L622.5 410.3 L623 410.3 L623.5 410.3 L624 410.3 L624.5 410.3 L625 410.3 L625.5 410.3 L626 410.3 L626.5 410.3 L627 410.3 L627.5 410.3 L628 410.3 L628.5 410.3 L629 410.3 L629.5 410.3 L630 410.3 L630.5 410.3 L631 410.3 L631.5 410.3 L632 410.3 L632.5 410.3 L633 410.3 L633.5 410.3 L634 410.3 L634.5 410.3 L635 410.3 L635.5 410.3 L636 410.3 L636.5 410.3 L637 410.3 L637.5 410.3 L638 410.3 L638.5 410.3 L639 410.3 L639.5 410.3 L640 410.3 L640.5 410.3 L641 410.3 L641.5 410.3 L642 410.3 L642.5 410.3 L643 410.3 L643.5 410.3 L644 410.3 L644.5 410.3 L645 410.3 L645.5 410.3 L646 410.3 L646.5 410.3 L647 410.3 L647.5 410.3 L648 410.3 L648.5 410.3 L649 410.3 L649.5 410.3 L650 410.3 L650.5 410.3 L651 410.3 L651.5 410.3 L652 410.3 L652.5 410.3 L653 410.3 L653.5 410.3 L654 410.3 L654.5 410.3 L655 410.3 L655.5 410.3 L656 410.3 L656.5 410.3 L657 410.3 L657.5 410.3 L658 410.3 L658.5 410.3 L659 410.3 L659.5 410.3 L660 410.3 L660.5 410.3 L661 410.3 L661.5 410.3 L662 410.3 L662.5 410.3 L663 410.3 L663.5 410.3 L664 410.3 L664.5 410.3 L665 410.3 L665.5 410.3 L666 410.3 L666.5 410.3 L667 410.3 L667.5 410.3 L668 410.3 L668.5 410.3 L669 410.3 L669.5 410.3 L670 410.3 L670.5 410.3 L671 410.3 L671.5 410.3 L672 410.3 L672.5 410.3 L673 410.3 L673.5 410.3 L674 410.3 L674.5 410.3 L675 410.3 L675.5 410.3 L676 410.3 L676.5 410.3 L677 410.3 L677.5 410.3 L678 410.3 L678.5 410.3 L679 410.3 L679.5 410.3 L680 410.3 L680.5 410.3 L681 410.3 L681.5 410.3 L682 410.3 L682.5 410.3" fill="none" stroke="#d42028" stroke-width="1.5" stroke-linejoin="round"/>
<path d="M381 410.2 L381.5 410.17 L382 410.14 L382.5 410.11 L383 410.07 L383.5 410.03 L384 409.97 L384.5 409.91 L385 409.84 L385.5 409.75 L386 409.65 L386.5 409.53 L387 409.4 L387.5 409.24 L388 409.06 L388.5 408.86 L389 408.63 L389.5 408.36 L390 408.07 L390.5 407.74 L391 407.36 L391.5 406.94 L392 406.48 L392.5 405.97 L393 405.4 L393.5 404.78 L394 404.09 L394.5 403.35 L395 402.54 L395.5 401.67 L396 400.72 L396.5 399.71 L397 398.63 L397.5 397.48 L398 396.26 L398.5 394.98 L399 393.63 L399.5 392.23 L400 390.77 L400.5 389.25 L401 387.7 L401.5 386.1 L402 384.48 L402.5 382.84 L403 381.19 L403.5 379.53 L404 377.89 L404.5 376.27 L405 374.69 L405.5 373.15 L406 371.67 L406.5 370.26 L407 368.93 L407.5 367.7 L408 366.57 L408.5 365.56 L409 364.67 L409.5 363.91 L410 363.29 L410.5 362.82 L411 362.5 L411.5 362.33 L412 362.31 L412.5 362.45 L413 362.74 L413.5 363.19 L414 363.78 L414.5 364.51 L415 365.37 L415.5 366.36 L416 367.47 L416.5 368.68 L417 369.99 L417.5 371.38 L418 372.85 L418.5 374.38 L419 375.95 L419.5 377.57 L420 379.2 L420.5 380.86 L421 382.51 L421.5 384.15 L422 385.78 L422.5 387.38 L423 388.95 L423.5 390.47 L424 391.94 L424.5 393.36 L425 394.72 L425.5 396.01 L426 397.24 L426.5 398.41 L427 399.5 L427.5 400.53 L428 401.48 L428.5 402.37 L429 403.19 L429.5 403.95 L430 404.64 L430.5 405.28 L431 405.86 L431.5 406.38 L432 406.85 L432.5 407.28 L433 407.66 L433.5 408 L434 408.3 L434.5 408.56 L435 408.8 L435.5 409 L436 409.18 L436.5 409.34 L437 409.47 L437.5 409.58 L438 409.67 L438.5 409.75 L439 409.82 L439.5 409.86 L440 409.9 L440.5 409.93 L441 409.94 L441.5 409.95 L442 409.94 L442.5 409.92 L443 409.9 L443.5 409.86 L444 409.82 L444.5 409.76 L445 409.7 L445.5 409.62 L446 409.54 L446.5 409.44 L447 409.33 L447.5 409.21 L448 409.07 L448.5 408.92 L449 408.76 L449.5 408.59 L450 408.4 L450.5 408.2 L451 407.99 L451.5 407.77 L452 407.53 L452.5 407.28 L453 407.02 L453.5 406.76 L454 406.48 L454.5 406.2 L455 405.91 L455.5 405.63 L456 405.34 L456.5 405.05 L457 404.77 L457.5 404.49 L458 404.23 L458.5 403.97 L459 403.73 L459.5 403.5 L460 403.29 L460.5 403.11 L461 402.94 L461.5 402.8 L462 402.69 L462.5 402.6 L463 402.54 L463.5 402.51 L464 402.5 L464.5 402.53 L465 402.58 L465.5 402.67 L466 402.78 L466.5 402.91 L467 403.07 L467.5 403.25 L468 403.46 L468.5 403.68 L469 403.92 L469.5 404.17 L470 404.44 L470.5 404.71 L471 405 L471.5 405.28 L472 405.57 L472.5 405.86 L473 406.14 L473.5 406.43 L474 406.7 L474.5 406.97 L475 407.23 L475.5 407.48 L476 407.72 L476.5 407.95 L477 408.17 L477.5 408.37 L478 408.56 L478.5 408.74 L479 408.9 L479.5 409.05 L480 409.19 L480.5 409.32 L481 409.44 L481.5 409.54 L482 409.64 L482.5 409.72 L483 409.8 L483.5 409.86 L484 409.92 L484.5 409.98 L485 410.02 L485.5 410.06 L486 410.1 L486.5 410.13 L487 410.16 L487.5 410.18 L488 410.2 L488.5 410.22 L489 410.23 L489.5 410.24 L490 410.25 L490.5 410.26 L491 410.27 L491.5 410.27 L492 410.28 L492.5 410.28 L493 410.29 L493.5 410.29 L494 410.29 L494.5 410.29 L495 410.29 L495.5 410.3 L496 410.3 L496.5 410.3 L497 410.3 L497.5 410.3 L498 410.3 L498.5 410.3 L499 410.3 L499.5 410.3 L500 410.3 L500.5 410.3 L501 410.3 L501.5 410.3 L502 410.3 L502.5 410.3 L503 410.3 L503.5 410.3 L504 410.3 L504.5 410.3 L505 410.3 L505.5 410.3 L506 410.3 L506.5 410.3 L507 410.3 L507.5 410.3 L508 410.3 L508.5 410.3 L509 410.3 L509.5 410.3 L510 410.3 L510.5 410.3 L511 410.3 L511.5 410.3 L512 410.3 L512.5 410.3 L513 410.3 L513.5 410.3 L514 410.3 L514.5 410.3 L515 410.3 L515.5 410.3 L516 410.3 L516.5 410.3 L517 410.3 L517.5 410.3 L518 410.3 L518.5 410.3 L519 410.3 L519.5 410.3 L520 410.3 L520.5 410.3 L521 410.3 L521.5 410.3 L522 410.3 L522.5 410.3 L523 410.3 L523.5 410.3 L524 410.3 L524.5 410.3 L525 410.3 L525.5 410.3 L526 410.3 L526.5 410.3 L527 410.3 L527.5 410.3 L528 410.3 L528.5 410.3 L529 410.3 L529.5 410.3 L530 410.3 L530.5 410.3 L531 410.3 L531.5 410.3 L532 410.3 L532.5 410.3 L533 410.3 L533.5 410.3 L534 410.3 L534.5 410.3 L535 410.3 L535.5 410.3 L536 410.3 L536.5 410.3 L537 410.3 L537.5 410.3 L538 410.3 L538.5 410.3 L539 410.3 L539.5 410.3 L540 410.3 L540.5 410.3 L541 410.3 L541.5 410.3 L542 410.3 L542.5 410.3 L543 410.3 L543.5 410.3 L544 410.3 L544.5 410.3 L545 410.3 L545.5 410.3 L546 410.3 L546.5 410.3 L547 410.3 L547.5 410.3 L548 410.3 L548.5 410.3 L549 410.3 L549.5 410.3 L550 410.3 L550.5 410.3 L551 410.3 L551.5 410.3 L552 410.3 L552.5 410.3 L553 410.3 L553.5 410.3 L554 410.3 L554.5 410.3 L555 410.3 L555.5 410.3 L556 410.3 L556.5 410.3 L557 410.3 L557.5 410.3 L558 410.3 L558.5 410.3 L559 410.3 L559.5 410.3 L560 410.3 L560.5 410.3 L561 410.3 L561.5 410.3 L562 410.3 L562.5 410.3 L563 410.3 L563.5 410.3 L564 410.3 L564.5 410.3 L565 410.3 L565.5 410.3 L566 410.3 L566.5 410.3 L567 410.3 L567.5 410.3 L568 410.3 L568.5 410.3 L569 410.3 L569.5 410.3 L570 410.3 L570.5 410.3 L571 410.3 L571.5 410.3 L572 410.3 L572.5 410.3 L573 410.3 L573.5 410.3 L574 410.3 L574.5 410.3 L575 410.3 L575.5 410.3 L576 410.3 L576.5 410.3 L577 410.3 L577.5 410.3 L578 410.3 L578.5 410.3 L579 410.3 L579.5 410.3 L580 410.3 L580.5 410.3 L581 410.3 L581.5 410.3 L582 410.3 L582.5 410.3 L583 410.3 L583.5 410.3 L584 410.3 L584.5 410.3 L585 410.3 L585.5 410.3 L586 410.3 L586.5 410.3 L587 410.3 L587.5 410.3 L588 410.3 L588.5 410.3 L589 410.3 L589.5 410.3 L590 410.3 L590.5 410.3 L591 410.3 L591.5 410.3 L592 410.3 L592.5 410.3 L593 410.29 L593.5 410.29 L594 410.29 L594.5 410.29 L595 410.29 L595.5 410.29 L596 410.28 L596.5 410.28 L597 410.28 L597.5 410.27 L598 410.27 L598.5 410.26 L599 410.25 L599.5 410.24 L600 410.23 L600.5 410.22 L601 410.21 L601.5 410.2 L602 410.18 L602.5 410.16 L603 410.14 L603.5 410.12 L604 410.1 L604.5 410.07 L605 410.04 L605.5 410.01 L606 409.98 L606.5 409.94 L607 409.9 L607.5 409.86 L608 409.81 L608.5 409.77 L609 409.72 L609.5 409.67 L610 409.61 L610.5 409.56 L611 409.5 L611.5 409.45 L612 409.39 L612.5 409.33 L613 409.28 L613.5 409.22 L614 409.17 L614.5 409.12 L615 409.07 L615.5 409.02 L616 408.98 L616.5 408.94 L617 408.9 L617.5 408.87 L618 408.85 L618.5 408.83 L619 408.81 L619.5 408.8 L620 408.8 L620.5 408.8 L621 408.81 L621.5 408.83 L622 408.85 L622.5 408.87 L623 408.9 L623.5 408.94 L624 408.98 L624.5 409.02 L625 409.07 L625.5 409.12 L626 409.17 L626.5 409.22 L627 409.28 L627.5 409.33 L628 409.39 L628.5 409.45 L629 409.5 L629.5 409.56 L630 409.61 L630.5 409.67 L631 409.72 L631.5 409.77 L632 409.81 L632.5 409.86 L633 409.9 L633.5 409.94 L634 409.98 L634.5 410.01 L635 410.04 L635.5 410.07 L636 410.1 L636.5 410.12 L637 410.14 L637.5 410.16 L638 410.18 L638.5 410.2 L639 410.21 L639.5 410.22 L640 410.23 L640.5 410.24 L641 410.25 L641.5 410.26 L642 410.27 L642.5 410.27 L643 410.28 L643.5 410.28 L644 410.28 L644.5 410.29 L645 410.29 L645.5 410.29 L646 410.29 L646.5 410.29 L647 410.29 L647.5 410.3 L648 410.3 L648.5 410.3 L649 410.3 L649.5 410.3 L650 410.3 L650.5 410.3 L651 410.3 L651.5 410.3 L652 410.3 L652.5 410.3 L653 410.3 L653.5 410.3 L654 410.3 L654.5 410.3 L655 410.3 L655.5 410.3 L656 410.3 L656.5 410.3 L657 410.3 L657.5 410.3 L658 410.3 L658.5 410.3 L659 410.3 L659.5 410.3 L660 410.3 L660.5 410.3 L661 410.3 L661.5 410.3 L662 410.3 L662.5 410.3 L663 410.3 L663.5 410.3 L664 410.3 L664.5 410.3 L665 410.3 L665.5 410.3 L666 410.3 L666.5 410.3 L667 410.3 L667.5 410.3 L668 410.3 L668.5 410.3 L669 410.3 L669.5 410.3 L670 410.3 L670.5 410.3 L671 410.3 L671.5 410.3 L672 410.3 L672.5 410.3 L673 410.3 L673.5 410.3 L674 410.3 L674.5 410.3 L675 410.3 L675.5 410.3 L676 410.3 L676.5 410.3 L677 410.3 L677.5 410.3 L678 410.3 L678.5 410.3 L679 410.3 L679.5 410.3 L680 410.3 L680.5 410.3 L681 410.3 L681.5 410.3 L682 410.3 L682.5 410.3" fill="none" stroke="#2438f0" stroke-width="1.5" stroke-linejoin="round"/>
<path d="M381 410.25 L381.5 410.24 L382 410.23 L382.5 410.21 L383 410.19 L383.5 410.17 L384 410.14 L384.5 410.11 L385 410.07 L385.5 410.03 L386 409.97 L386.5 409.91 L387 409.84 L387.5 409.76 L388 409.66 L388.5 409.55 L389 409.42 L389.5 409.28 L390 409.11 L390.5 408.93 L391 408.72 L391.5 408.48 L392 408.22 L392.5 407.92 L393 407.6 L393.5 407.23 L394 406.84 L394.5 406.4 L395 405.92 L395.5 405.4 L396 404.84 L396.5 404.24 L397 403.59 L397.5 402.9 L398 402.16 L398.5 401.38 L399 400.55 L399.5 399.69 L400 398.79 L400.5 397.86 L401 396.89 L401.5 395.9 L402 394.89 L402.5 393.86 L403 392.82 L403.5 391.78 L404 390.75 L404.5 389.72 L405 388.72 L405.5 387.74 L406 386.8 L406.5 385.9 L407 385.05 L407.5 384.27 L408 383.54 L408.5 382.89 L409 382.32 L409.5 381.84 L410 381.44 L410.5 381.14 L411 380.93 L411.5 380.82 L412 380.81 L412.5 380.9 L413 381.09 L413.5 381.37 L414 381.75 L414.5 382.22 L415 382.77 L415.5 383.41 L416 384.12 L416.5 384.89 L417 385.73 L417.5 386.62 L418 387.55 L418.5 388.52 L419 389.52 L419.5 390.54 L420 391.58 L420.5 392.62 L421 393.65 L421.5 394.68 L422 395.7 L422.5 396.7 L423 397.67 L423.5 398.61 L424 399.51 L424.5 400.39 L425 401.22 L425.5 402.01 L426 402.75 L426.5 403.45 L427 404.11 L427.5 404.73 L428 405.3 L428.5 405.82 L429 406.31 L429.5 406.75 L430 407.16 L430.5 407.52 L431 407.86 L431.5 408.15 L432 408.42 L432.5 408.66 L433 408.87 L433.5 409.06 L434 409.23 L434.5 409.37 L435 409.49 L435.5 409.6 L436 409.68 L436.5 409.75 L437 409.81 L437.5 409.85 L438 409.88 L438.5 409.89 L439 409.89 L439.5 409.87 L440 409.84 L440.5 409.79 L441 409.72 L441.5 409.64 L442 409.53 L442.5 409.39 L443 409.23 L443.5 409.04 L444 408.81 L444.5 408.54 L445 408.24 L445.5 407.88 L446 407.48 L446.5 407.02 L447 406.51 L447.5 405.92 L448 405.27 L448.5 404.55 L449 403.75 L449.5 402.87 L450 401.91 L450.5 400.87 L451 399.74 L451.5 398.53 L452 397.24 L452.5 395.86 L453 394.41 L453.5 392.9 L454 391.31 L454.5 389.68 L455 388 L455.5 386.28 L456 384.55 L456.5 382.81 L457 381.08 L457.5 379.38 L458 377.71 L458.5 376.11 L459 374.58 L459.5 373.15 L460 371.82 L460.5 370.62 L461 369.56 L461.5 368.65 L462 367.91 L462.5 367.33 L463 366.94 L463.5 366.73 L464 366.72 L464.5 366.88 L465 367.24 L465.5 367.78 L466 368.49 L466.5 369.37 L467 370.4 L467.5 371.57 L468 372.87 L468.5 374.29 L469 375.8 L469.5 377.39 L470 379.04 L470.5 380.74 L471 382.46 L471.5 384.2 L472 385.94 L472.5 387.66 L473 389.35 L473.5 390.99 L474 392.58 L474.5 394.12 L475 395.58 L475.5 396.97 L476 398.28 L476.5 399.51 L477 400.65 L477.5 401.71 L478 402.69 L478.5 403.58 L479 404.4 L479.5 405.14 L480 405.8 L480.5 406.4 L481 406.93 L481.5 407.4 L482 407.82 L482.5 408.19 L483 408.51 L483.5 408.78 L484 409.03 L484.5 409.23 L485 409.41 L485.5 409.56 L486 409.69 L486.5 409.8 L487 409.89 L487.5 409.96 L488 410.03 L488.5 410.08 L489 410.12 L489.5 410.16 L490 410.19 L490.5 410.21 L491 410.23 L491.5 410.24 L492 410.26 L492.5 410.27 L493 410.27 L493.5 410.28 L494 410.28 L494.5 410.29 L495 410.29 L495.5 410.29 L496 410.29 L496.5 410.3 L497 410.3 L497.5 410.3 L498 410.3 L498.5 410.3 L499 410.3 L499.5 410.3 L500 410.3 L500.5 410.3 L501 410.3 L501.5 410.3 L502 410.3 L502.5 410.3 L503 410.3 L503.5 410.3 L504 410.3 L504.5 410.3 L505 410.3 L505.5 410.3 L506 410.3 L506.5 410.3 L507 410.3 L507.5 410.3 L508 410.3 L508.5 410.3 L509 410.3 L509.5 410.3 L510 410.3 L510.5 410.3 L511 410.3 L511.5 410.3 L512 410.3 L512.5 410.3 L513 410.3 L513.5 410.3 L514 410.3 L514.5 410.3 L515 410.3 L515.5 410.3 L516 410.3 L516.5 410.3 L517 410.3 L517.5 410.3 L518 410.3 L518.5 410.3 L519 410.3 L519.5 410.3 L520 410.3 L520.5 410.3 L521 410.3 L521.5 410.3 L522 410.3 L522.5 410.3 L523 410.3 L523.5 410.3 L524 410.3 L524.5 410.3 L525 410.3 L525.5 410.3 L526 410.3 L526.5 410.3 L527 410.3 L527.5 410.3 L528 410.3 L528.5 410.3 L529 410.3 L529.5 410.3 L530 410.3 L530.5 410.3 L531 410.3 L531.5 410.3 L532 410.3 L532.5 410.3 L533 410.3 L533.5 410.3 L534 410.3 L534.5 410.3 L535 410.3 L535.5 410.3 L536 410.3 L536.5 410.3 L537 410.3 L537.5 410.3 L538 410.3 L538.5 410.3 L539 410.3 L539.5 410.3 L540 410.3 L540.5 410.3 L541 410.3 L541.5 410.3 L542 410.3 L542.5 410.3 L543 410.3 L543.5 410.3 L544 410.3 L544.5 410.3 L545 410.3 L545.5 410.3 L546 410.3 L546.5 410.3 L547 410.3 L547.5 410.3 L548 410.3 L548.5 410.3 L549 410.3 L549.5 410.3 L550 410.3 L550.5 410.3 L551 410.3 L551.5 410.3 L552 410.3 L552.5 410.3 L553 410.3 L553.5 410.3 L554 410.3 L554.5 410.3 L555 410.3 L555.5 410.3 L556 410.3 L556.5 410.3 L557 410.3 L557.5 410.3 L558 410.3 L558.5 410.3 L559 410.3 L559.5 410.3 L560 410.3 L560.5 410.3 L561 410.3 L561.5 410.3 L562 410.3 L562.5 410.3 L563 410.3 L563.5 410.3 L564 410.3 L564.5 410.3 L565 410.3 L565.5 410.3 L566 410.3 L566.5 410.3 L567 410.3 L567.5 410.3 L568 410.3 L568.5 410.3 L569 410.3 L569.5 410.3 L570 410.3 L570.5 410.3 L571 410.3 L571.5 410.3 L572 410.3 L572.5 410.3 L573 410.3 L573.5 410.3 L574 410.3 L574.5 410.3 L575 410.3 L575.5 410.3 L576 410.3 L576.5 410.3 L577 410.3 L577.5 410.3 L578 410.3 L578.5 410.3 L579 410.3 L579.5 410.3 L580 410.3 L580.5 410.3 L581 410.3 L581.5 410.3 L582 410.3 L582.5 410.3 L583 410.3 L583.5 410.3 L584 410.3 L584.5 410.3 L585 410.3 L585.5 410.3 L586 410.3 L586.5 410.3 L587 410.3 L587.5 410.3 L588 410.3 L588.5 410.3 L589 410.3 L589.5 410.3 L590 410.3 L590.5 410.3 L591 410.3 L591.5 410.3 L592 410.3 L592.5 410.3 L593 410.3 L593.5 410.3 L594 410.3 L594.5 410.3 L595 410.3 L595.5 410.3 L596 410.3 L596.5 410.3 L597 410.3 L597.5 410.3 L598 410.3 L598.5 410.3 L599 410.3 L599.5 410.3 L600 410.3 L600.5 410.3 L601 410.3 L601.5 410.3 L602 410.3 L602.5 410.3 L603 410.3 L603.5 410.3 L604 410.3 L604.5 410.3 L605 410.3 L605.5 410.3 L606 410.3 L606.5 410.3 L607 410.3 L607.5 410.3 L608 410.3 L608.5 410.3 L609 410.3 L609.5 410.3 L610 410.3 L610.5 410.3 L611 410.3 L611.5 410.3 L612 410.3 L612.5 410.3 L613 410.3 L613.5 410.3 L614 410.3 L614.5 410.3 L615 410.3 L615.5 410.3 L616 410.3 L616.5 410.3 L617 410.3 L617.5 410.3 L618 410.3 L618.5 410.3 L619 410.3 L619.5 410.3 L620 410.3 L620.5 410.3 L621 410.3 L621.5 410.3 L622 410.3 L622.5 410.3 L623 410.3 L623.5 410.3 L624 410.3 L624.5 410.3 L625 410.3 L625.5 410.3 L626 410.3 L626.5 410.3 L627 410.3 L627.5 410.3 L628 410.3 L628.5 410.3 L629 410.3 L629.5 410.3 L630 410.3 L630.5 410.3 L631 410.3 L631.5 410.3 L632 410.3 L632.5 410.3 L633 410.3 L633.5 410.3 L634 410.3 L634.5 410.3 L635 410.3 L635.5 410.3 L636 410.3 L636.5 410.3 L637 410.3 L637.5 410.3 L638 410.3 L638.5 410.3 L639 410.3 L639.5 410.3 L640 410.3 L640.5 410.3 L641 410.3 L641.5 410.3 L642 410.3 L642.5 410.3 L643 410.3 L643.5 410.3 L644 410.3 L644.5 410.3 L645 410.3 L645.5 410.3 L646 410.3 L646.5 410.3 L647 410.3 L647.5 410.3 L648 410.3 L648.5 410.3 L649 410.3 L649.5 410.3 L650 410.3 L650.5 410.3 L651 410.3 L651.5 410.3 L652 410.3 L652.5 410.3 L653 410.3 L653.5 410.3 L654 410.3 L654.5 410.3 L655 410.3 L655.5 410.3 L656 410.3 L656.5 410.3 L657 410.3 L657.5 410.3 L658 410.3 L658.5 410.3 L659 410.3 L659.5 410.3 L660 410.3 L660.5 410.3 L661 410.3 L661.5 410.3 L662 410.3 L662.5 410.3 L663 410.3 L663.5 410.3 L664 410.3 L664.5 410.3 L665 410.3 L665.5 410.3 L666 410.3 L666.5 410.3 L667 410.3 L667.5 410.3 L668 410.3 L668.5 410.3 L669 410.3 L669.5 410.3 L670 410.3 L670.5 410.3 L671 410.3 L671.5 410.3 L672 410.3 L672.5 410.3 L673 410.3 L673.5 410.3 L674 410.3 L674.5 410.3 L675 410.3 L675.5 410.3 L676 410.3 L676.5 410.3 L677 410.3 L677.5 410.3 L678 410.3 L678.5 410.3 L679 410.3 L679.5 410.3 L680 410.3 L680.5 410.3 L681 410.3 L681.5 410.3 L682 410.3 L682.5 410.3" fill="none" stroke="#a020e0" stroke-width="1.5" stroke-linejoin="round"/>
<path d="M381 352.2 L381.22 352.88 L381.51 353.79 L381.85 354.87 L382.23 356.07 L382.65 357.34 L383.09 358.62 L383.54 359.86 L384 361 L384.48 362.15 L385.01 363.4 L385.57 364.7 L386.14 365.96 L386.71 367.13 L387.27 368.14 L387.81 368.92 L388.3 369.4 L388.75 369.66 L389.18 369.79 L389.59 369.76 L389.98 369.54 L390.36 369.08 L390.74 368.36 L391.12 367.35 L391.5 366 L391.89 364.38 L392.28 362.55 L392.66 360.47 L393.04 358.1 L393.42 355.41 L393.79 352.35 L394.15 348.89 L394.5 345 L394.83 340.63 L395.15 335.79 L395.45 330.54 L395.75 324.94 L396.05 319.03 L396.35 312.87 L396.67 306.51 L397 300 L397.34 293.35 L397.69 286.52 L398.04 279.48 L398.41 272.19 L398.78 264.62 L399.17 256.76 L399.57 248.56 L400 240 L400.42 230.68 L400.84 220.47 L401.25 209.71 L401.69 198.75 L402.16 187.95 L402.7 177.66 L403.3 168.22 L404 160 L404.81 152.54 L405.72 145.31 L406.71 138.55 L407.75 132.5 L408.82 127.38 L409.91 123.44 L410.97 120.9 L412 120 L413.03 120.9 L414.09 123.44 L415.18 127.38 L416.25 132.5 L417.29 138.55 L418.28 145.31 L419.19 152.54 L420 160 L420.7 168.22 L421.3 177.66 L421.84 187.95 L422.31 198.75 L422.75 209.71 L423.16 220.47 L423.58 230.68 L424 240 L424.42 248.56 L424.82 256.76 L425.2 264.62 L425.56 272.19 L425.92 279.48 L426.27 286.52 L426.63 293.35 L427 300 L427.37 306.47 L427.73 312.73 L428.08 318.76 L428.44 324.56 L428.8 330.1 L429.18 335.37 L429.58 340.34 L430 345 L430.45 349.37 L430.92 353.48 L431.4 357.32 L431.9 360.87 L432.41 364.12 L432.93 367.07 L433.46 369.7 L434 372 L434.55 373.94 L435.11 375.53 L435.69 376.79 L436.27 377.74 L436.86 378.43 L437.45 378.86 L438.03 379.08 L438.6 379.1 L439.17 378.94 L439.75 378.56 L440.33 377.96 L440.9 377.12 L441.46 376.02 L442 374.64 L442.52 372.97 L443 371 L443.45 368.74 L443.86 366.2 L444.25 363.4 L444.62 360.31 L444.97 356.93 L445.32 353.26 L445.66 349.28 L446 345 L446.33 340.39 L446.64 335.44 L446.93 330.18 L447.22 324.62 L447.51 318.81 L447.82 312.75 L448.14 306.47 L448.5 300 L448.89 293.35 L449.29 286.52 L449.72 279.48 L450.16 272.19 L450.61 264.62 L451.07 256.76 L451.53 248.56 L452 240 L452.45 230.68 L452.87 220.47 L453.29 209.71 L453.72 198.75 L454.19 187.95 L454.71 177.66 L455.31 168.22 L456 160 L456.81 152.54 L457.72 145.31 L458.71 138.55 L459.75 132.5 L460.82 127.38 L461.91 123.44 L462.97 120.9 L464 120 L465.03 120.9 L466.09 123.44 L467.18 127.38 L468.25 132.5 L469.29 138.55 L470.28 145.31 L471.19 152.54 L472 160 L472.7 168.22 L473.3 177.66 L473.84 187.95 L474.31 198.75 L474.75 209.71 L475.16 220.47 L475.58 230.68 L476 240 L476.43 248.53 L476.83 256.64 L477.22 264.4 L477.59 271.88 L477.96 279.11 L478.31 286.17 L478.66 293.12 L479 300 L479.34 306.84 L479.66 313.58 L479.97 320.19 L480.28 326.62 L480.58 332.86 L480.89 338.86 L481.19 344.58 L481.5 350 L481.81 355.18 L482.12 360.2 L482.44 365 L482.75 369.53 L483.06 373.75 L483.38 377.6 L483.69 381.03 L484 384 L484.31 386.41 L484.62 388.28 L484.92 389.69 L485.23 390.76 L485.54 391.57 L485.85 392.23 L486.17 392.84 L486.5 393.5 L486.83 394.13 L487.16 394.6 L487.49 394.94 L487.83 395.16 L488.17 395.3 L488.53 395.37 L488.9 395.4 L489.3 395.4 L489.71 395.35 L490.13 395.2 L490.56 394.98 L491.01 394.71 L491.47 394.4 L491.96 394.09 L492.46 393.78 L493 393.5 L493.58 393.2 L494.2 392.84 L494.86 392.46 L495.54 392.08 L496.21 391.74 L496.88 391.48 L497.51 391.32 L498.1 391.3 L498.64 391.42 L499.14 391.64 L499.61 391.95 L500.06 392.34 L500.52 392.8 L500.98 393.32 L501.47 393.89 L502 394.5 L502.56 395.19 L503.15 395.98 L503.76 396.86 L504.37 397.78 L505 398.71 L505.64 399.63 L506.27 400.5 L506.9 401.3 L507.53 402.05 L508.15 402.79 L508.78 403.5 L509.42 404.19 L510.06 404.85 L510.7 405.46 L511.35 406.01 L512 406.5 L512.67 406.93 L513.37 407.32 L514.08 407.66 L514.79 407.94 L515.49 408.18 L516.17 408.37 L516.81 408.51 L517.4 408.6 L517.93 408.63 L518.39 408.59 L518.81 408.51 L519.21 408.37 L519.61 408.19 L520.03 407.98 L520.49 407.75 L521 407.5 L521.53 407.24 L522.05 406.98 L522.57 406.7 L523.12 406.38 L523.74 406.02 L524.44 405.59 L525.25 405.09 L526.2 404.5 L527.34 403.78 L528.66 402.92 L530.12 401.96 L531.65 400.95 L533.2 399.94 L534.71 398.96 L536.13 398.07 L537.4 397.3 L538.53 396.65 L539.57 396.06 L540.54 395.54 L541.47 395.06 L542.36 394.63 L543.23 394.23 L544.11 393.86 L545 393.5 L545.9 393.17 L546.79 392.89 L547.67 392.65 L548.54 392.43 L549.4 392.24 L550.25 392.05 L551.08 391.88 L551.9 391.7 L552.69 391.52 L553.43 391.36 L554.15 391.21 L554.86 391.07 L555.59 390.94 L556.34 390.82 L557.14 390.7 L558 390.6 L558.94 390.5 L559.96 390.4 L561.02 390.31 L562.11 390.23 L563.21 390.16 L564.29 390.11 L565.32 390.09 L566.3 390.1 L567.21 390.14 L568.08 390.19 L568.92 390.27 L569.73 390.38 L570.54 390.5 L571.34 390.64 L572.16 390.81 L573 391 L573.84 391.19 L574.67 391.37 L575.5 391.57 L576.33 391.79 L577.19 392.05 L578.07 392.38 L579.01 392.79 L580 393.3 L581.08 393.98 L582.25 394.86 L583.47 395.85 L584.72 396.89 L585.97 397.89 L587.19 398.8 L588.34 399.52 L589.4 400 L590.36 400.21 L591.24 400.21 L592.06 400.06 L592.84 399.79 L593.61 399.46 L594.38 399.1 L595.17 398.77 L596 398.5 L596.86 398.25 L597.74 397.96 L598.63 397.65 L599.53 397.34 L600.43 397.05 L601.33 396.8 L602.22 396.61 L603.1 396.5 L603.96 396.47 L604.81 396.51 L605.64 396.6 L606.48 396.74 L607.32 396.91 L608.18 397.1 L609.07 397.3 L610 397.5 L610.97 397.69 L611.97 397.88 L612.99 398.08 L614.04 398.3 L615.1 398.56 L616.16 398.87 L617.23 399.24 L618.3 399.7 L619.37 400.26 L620.44 400.91 L621.52 401.63 L622.61 402.41 L623.7 403.2 L624.79 404 L625.9 404.77 L627 405.5 L628.1 406.22 L629.21 406.98 L630.31 407.75 L631.42 408.5 L632.54 409.21 L633.67 409.85 L634.83 410.38 L636 410.8 L637.2 411.07 L638.41 411.22 L639.64 411.27 L640.88 411.24 L642.14 411.18 L643.41 411.1 L644.7 411.03 L646 411 L647.35 411.02 L648.75 411.06 L650.19 411.11 L651.63 411.15 L653.05 411.16 L654.42 411.11 L655.71 411 L656.9 410.8 L657.97 410.48 L658.94 410.06 L659.83 409.56 L660.67 409.01 L661.49 408.45 L662.3 407.91 L663.13 407.41 L664 407 L664.87 406.65 L665.71 406.32 L666.53 406.02 L667.36 405.74 L668.23 405.5 L669.16 405.3 L670.18 405.13 L671.3 405 L672.63 404.93 L674.19 404.92 L675.88 404.96 L677.61 405.02 L679.28 405.11 L680.79 405.19 L682.07 405.26 L683 405.3" fill="none" stroke="#bdbdbd" stroke-width="1.3" stroke-linejoin="round"/>
<path d="M381 470 L381.22 469.4 L381.52 468.61 L381.86 467.67 L382.25 466.62 L382.67 465.5 L383.11 464.33 L383.56 463.15 L384 462 L384.45 460.83 L384.91 459.6 L385.38 458.32 L385.88 457.01 L386.38 455.71 L386.91 454.42 L387.45 453.18 L388 452 L388.57 450.88 L389.16 449.79 L389.76 448.73 L390.38 447.7 L391.01 446.69 L391.66 445.71 L392.32 444.75 L393 443.8 L393.69 442.87 L394.4 441.94 L395.12 441.03 L395.86 440.15 L396.61 439.3 L397.39 438.48 L398.18 437.72 L399 437 L399.86 436.32 L400.77 435.65 L401.71 435.02 L402.67 434.43 L403.62 433.9 L404.56 433.44 L405.46 433.07 L406.3 432.8 L407.08 432.64 L407.8 432.59 L408.48 432.62 L409.14 432.73 L409.81 432.89 L410.49 433.08 L411.22 433.29 L412 433.5 L412.86 433.72 L413.8 433.96 L414.77 434.24 L415.77 434.54 L416.76 434.87 L417.71 435.23 L418.6 435.6 L419.4 436 L420.1 436.43 L420.73 436.9 L421.3 437.4 L421.84 437.92 L422.35 438.45 L422.87 438.98 L423.42 439.5 L424 440 L424.62 440.53 L425.27 441.11 L425.92 441.71 L426.59 442.29 L427.25 442.83 L427.91 443.28 L428.57 443.62 L429.2 443.8 L429.82 443.8 L430.42 443.65 L431.02 443.38 L431.61 443.02 L432.2 442.62 L432.8 442.2 L433.39 441.82 L434 441.5 L434.6 441.22 L435.2 440.94 L435.79 440.65 L436.39 440.37 L437 440.11 L437.63 439.85 L438.3 439.61 L439 439.4 L439.76 439.23 L440.57 439.11 L441.41 439.01 L442.27 438.92 L443.14 438.83 L444 438.71 L444.82 438.54 L445.6 438.3 L446.33 437.99 L447.03 437.63 L447.7 437.22 L448.36 436.79 L449.01 436.33 L449.66 435.88 L450.32 435.43 L451 435 L451.68 434.59 L452.34 434.18 L453.01 433.78 L453.68 433.38 L454.36 432.97 L455.07 432.55 L455.81 432.13 L456.6 431.7 L457.44 431.25 L458.31 430.78 L459.22 430.3 L460.16 429.82 L461.11 429.34 L462.07 428.87 L463.04 428.42 L464 428 L464.98 427.59 L465.98 427.19 L467 426.79 L468.03 426.41 L469.05 426.05 L470.04 425.72 L471 425.44 L471.9 425.2 L472.76 425.02 L473.58 424.88 L474.38 424.79 L475.14 424.73 L475.89 424.69 L476.61 424.66 L477.31 424.64 L478 424.6 L478.66 424.56 L479.29 424.52 L479.89 424.48 L480.48 424.46 L481.05 424.44 L481.62 424.44 L482.2 424.46 L482.8 424.5 L483.41 424.55 L484.03 424.61 L484.66 424.69 L485.28 424.78 L485.9 424.89 L486.51 425.03 L487.12 425.2 L487.7 425.4 L488.26 425.64 L488.81 425.92 L489.35 426.23 L489.88 426.57 L490.4 426.92 L490.92 427.28 L491.46 427.64 L492 428 L492.55 428.4 L493.11 428.89 L493.67 429.4 L494.24 429.91 L494.8 430.37 L495.37 430.73 L495.94 430.96 L496.5 431 L497.06 430.83 L497.63 430.49 L498.2 430.01 L498.76 429.44 L499.33 428.81 L499.89 428.16 L500.45 427.55 L501 427 L501.53 426.49 L502.03 425.96 L502.52 425.43 L503.01 424.91 L503.52 424.39 L504.06 423.89 L504.65 423.43 L505.3 423 L506.03 422.6 L506.82 422.23 L507.66 421.87 L508.53 421.54 L509.42 421.24 L510.3 420.96 L511.17 420.72 L512 420.5 L512.79 420.31 L513.54 420.14 L514.28 420 L515.02 419.89 L515.77 419.81 L516.54 419.77 L517.34 419.77 L518.2 419.8 L519.1 419.89 L520.04 420.04 L521 420.23 L521.99 420.46 L523 420.7 L524.05 420.95 L525.11 421.18 L526.2 421.4 L527.35 421.65 L528.57 421.95 L529.83 422.29 L531.11 422.61 L532.38 422.88 L533.6 423.06 L534.75 423.12 L535.8 423 L536.73 422.68 L537.58 422.19 L538.35 421.57 L539.08 420.86 L539.79 420.1 L540.49 419.34 L541.22 418.63 L542 418 L542.83 417.42 L543.7 416.81 L544.58 416.21 L545.47 415.63 L546.34 415.09 L547.18 414.61 L547.97 414.21 L548.7 413.9 L549.35 413.7 L549.94 413.57 L550.48 413.52 L550.99 413.54 L551.48 413.6 L551.97 413.71 L552.47 413.84 L553 414 L553.55 414.16 L554.11 414.34 L554.67 414.54 L555.24 414.79 L555.8 415.09 L556.37 415.47 L556.94 415.93 L557.5 416.5 L558.06 417.21 L558.63 418.05 L559.2 418.99 L559.76 420 L560.33 421.04 L560.89 422.08 L561.45 423.08 L562 424 L562.52 424.9 L563 425.84 L563.46 426.77 L563.93 427.69 L564.43 428.55 L564.97 429.32 L565.59 429.98 L566.3 430.5 L567.1 430.85 L567.97 431.04 L568.89 431.11 L569.88 431.11 L570.91 431.05 L572 430.99 L573.13 430.96 L574.3 431 L575.55 431.11 L576.89 431.26 L578.3 431.44 L579.75 431.61 L581.21 431.75 L582.66 431.85 L584.06 431.87 L585.4 431.8 L586.68 431.62 L587.94 431.35 L589.18 431.01 L590.39 430.63 L591.58 430.21 L592.74 429.78 L593.88 429.37 L595 429 L596.09 428.65 L597.16 428.31 L598.2 427.97 L599.22 427.62 L600.22 427.28 L601.19 426.93 L602.16 426.57 L603.1 426.2 L604.01 425.82 L604.88 425.43 L605.71 425.03 L606.54 424.62 L607.36 424.22 L608.2 423.81 L609.08 423.4 L610 423 L610.97 422.61 L611.97 422.24 L612.99 421.87 L614.04 421.5 L615.1 421.12 L616.16 420.71 L617.23 420.28 L618.3 419.8 L619.37 419.27 L620.44 418.68 L621.52 418.05 L622.61 417.4 L623.7 416.75 L624.79 416.12 L625.9 415.53 L627 415 L628.1 414.5 L629.21 414.01 L630.31 413.54 L631.42 413.1 L632.54 412.7 L633.67 412.34 L634.83 412.04 L636 411.8 L637.2 411.65 L638.41 411.58 L639.64 411.57 L640.88 411.6 L642.14 411.66 L643.41 411.73 L644.7 411.78 L646 411.8 L647.34 411.75 L648.73 411.63 L650.14 411.48 L651.57 411.35 L652.98 411.27 L654.35 411.29 L655.67 411.46 L656.9 411.8 L658.05 412.36 L659.13 413.09 L660.15 413.97 L661.14 414.95 L662.1 415.98 L663.05 417.03 L664.02 418.05 L665 419 L666.02 419.96 L667.05 421.02 L668.1 422.11 L669.14 423.19 L670.15 424.19 L671.13 425.06 L672.05 425.75 L672.9 426.2 L673.67 426.38 L674.37 426.34 L675.02 426.12 L675.63 425.76 L676.22 425.33 L676.8 424.85 L677.39 424.4 L678 424 L678.66 423.61 L679.37 423.15 L680.1 422.66 L680.82 422.16 L681.5 421.68 L682.1 421.24 L682.61 420.87 L683 420.6" fill="none" stroke="#bdbdbd" stroke-width="1.3" stroke-linejoin="round"/>
</g>
<text x="395.3" y="346.1" font-size="13" fill="#2030e8" text-anchor="start">N: 2<tspan font-style="italic">p</tspan></text>
<text x="488.6" y="304.7" font-size="13" fill="#c9982c" text-anchor="start">Fe: 3<tspan font-style="italic">d</tspan></text>
<text x="492.4" y="345.4" font-size="13" fill="#c8161f" text-anchor="start">OOH: <tspan font-style="italic">π</tspan></text>
<text x="496.2" y="372" font-size="13" fill="#8032b4" text-anchor="start">O<tspan font-size="9" dy="3">top</tspan><tspan dy="-3">: 2</tspan><tspan font-style="italic">p</tspan></text>
<text x="644" y="290.4" font-size="12.5" fill="#111" text-anchor="end">Fe</text>
<line x1="651.3" y1="286.1" x2="678.2" y2="286.1" stroke="#ebae30" stroke-width="1.8"/>
<text x="641" y="305.5" font-size="12.5" fill="#111" text-anchor="end">N</text>
<line x1="649.2" y1="301" x2="677" y2="301" stroke="#2438f0" stroke-width="1.8"/>
<text x="636.3" y="320.7" font-size="12.5" fill="#111" text-anchor="end">O2 of *OOH</text>
<line x1="644.7" y1="316.3" x2="672.5" y2="316.3" stroke="#ffa8d8" stroke-width="1.5"/>
<text x="636.3" y="336.3" font-size="12.5" fill="#111" text-anchor="end">O1 of *OOH</text>
<line x1="644.7" y1="331.9" x2="672.5" y2="331.9" stroke="#d42028" stroke-width="1.8"/>
<text x="644" y="351.8" font-size="12.5" fill="#111" text-anchor="end">O<tspan font-size="8.5" dy="3">top</tspan><tspan dy="-3"> of SiO</tspan><tspan font-size="8.5" dy="3">2</tspan></text>
<line x1="647" y1="347.5" x2="675.2" y2="347.5" stroke="#a020e0" stroke-width="1.8"/>
<text x="643.2" y="370.1" font-size="12.5" fill="#111" text-anchor="end">Total</text>
<line x1="647.7" y1="366.3" x2="674.6" y2="366.3" stroke="#bdbdbd" stroke-width="1.5"/>
<radialGradient id="gCy" cx="0.4" cy="0.35" r="0.75"><stop offset="0" stop-color="#bff4f4"/><stop offset="0.6" stop-color="#6fd6d8"/><stop offset="1" stop-color="#4cb8c0"/></radialGradient>
<radialGradient id="gC2" cx="0.38" cy="0.35" r="0.7"><stop offset="0" stop-color="#b88462"/><stop offset="0.5" stop-color="#7c4a28"/><stop offset="1" stop-color="#4e2a12"/></radialGradient>
<radialGradient id="gYe" cx="0.4" cy="0.35" r="0.75"><stop offset="0" stop-color="#fbfbc0"/><stop offset="0.6" stop-color="#eeee88"/><stop offset="1" stop-color="#d0cc58"/></radialGradient>
<clipPath id="ccI"><ellipse cx="155.45" cy="456.5" rx="43.95" ry="41.3"/></clipPath>
<g clip-path="url(#ccI)">
<path d="M162.4 472.8L152.2 472.35M120.4 455.1L127.4 458.05M195 455.75L184.8 455.3M184.8 455.3L181.6 457.8M181.6 457.8L171.4 457.35M147.2 451L137 450.55M144.6 461.45L141.4 463.95M140.8 456L137.6 458.5M125.4 476.45L122.2 478.95M126.2 442.15L133.2 445.1M112.8 444.2L119.8 447.15M175.8 470.75L182.8 473.7M171.4 457.35L168.2 459.85M160.6 448.95L167.6 451.9M141.4 463.95L148.4 466.9M145.2 469.4L135 468.95M124.2 460.55L114 460.1M143.4 445.55L150.4 448.5M114.6 468.05L121.6 471M185.4 463.25L192.4 466.2M149 474.85L138.8 474.4M192.4 466.2L189.2 468.7M172 465.3L179 468.25M191.2 450.3L198.2 453.25M177.8 452.35L184.8 455.3M122.2 478.95L112 478.5M110.8 462.6L117.8 465.55M156 477.8L152.8 480.3M166.2 478.25L156 477.8M152.8 480.3L142.6 479.85M189.2 468.7L196.2 471.65M161.8 464.85L158.6 467.35M177.2 444.4L174 446.9M196.8 479.6L186.6 479.15M187.4 444.85L194.4 447.8M193 474.15L200 477.1M128 466L135 468.95M126.2 442.15L116 441.7M152.2 472.35L149 474.85M198.8 461.2L188.6 460.75M116 441.7L112.8 444.2M179 468.25L175.8 470.75M183.4 481.65L190.4 484.6M170 483.7L159.8 483.25M204.6 448.25L194.4 447.8M142.6 479.85L139.4 482.35M118.4 473.5L125.4 476.45M119.8 447.15L116.6 449.65M196.2 471.65L193 474.15M162.4 472.8L169.4 475.75M169.4 475.75L166.2 478.25M181 449.85L177.8 452.35M195 455.75L202 458.7M191.2 450.3L181 449.85M179.6 476.2L186.6 479.15M173.2 481.2L170 483.7M177.8 452.35L167.6 451.9M135.6 476.9L142.6 479.85M117.8 465.55L114.6 468.05M137 450.55L133.8 453.05M164.4 454.4L154.2 453.95M130 447.6L119.8 447.15M133.8 453.05L140.8 456M189.2 468.7L179 468.25M198.2 453.25L195 455.75M175.8 470.75L165.6 470.3M156.8 443.5L146.6 443.05M128 466L117.8 465.55M131.8 471.45L121.6 471M168.2 459.85L175.2 462.8M202 458.7L198.8 461.2M174 446.9L181 449.85M186.6 479.15L183.4 481.65M114 460.1L110.8 462.6M188.6 460.75L185.4 463.25M109 438.75L116 441.7M179.6 476.2L169.4 475.75M166.2 478.25L173.2 481.2M138.8 474.4L135.6 476.9M154.2 453.95L151 456.45M135.6 476.9L125.4 476.45M127.4 458.05L124.2 460.55M196.8 479.6L203.8 482.55M158.6 467.35L165.6 470.3M122.2 478.95L129.2 481.9M133.8 453.05L123.6 452.6M120.4 455.1L110.2 454.65M123.6 452.6L120.4 455.1M152.8 480.3L159.8 483.25M151 456.45L140.8 456M137.6 458.5L127.4 458.05M203.8 482.55L200.6 485.05M194.4 447.8L191.2 450.3M160.6 448.95L150.4 448.5M150.4 448.5L147.2 451M145.2 469.4L152.2 472.35M133.2 445.1L130 447.6M141.4 463.95L131.2 463.5M131.2 463.5L128 466M164.4 454.4L171.4 457.35M130 447.6L137 450.55M185.4 463.25L175.2 462.8M175.2 462.8L172 465.3M116.6 449.65L123.6 452.6M172 465.3L161.8 464.85M163.8 446.45L160.6 448.95M148.4 466.9L145.2 469.4M167.6 451.9L164.4 454.4M156.8 443.5L163.8 446.45M158.6 467.35L148.4 466.9M181.6 457.8L188.6 460.75M147.2 451L154.2 453.95M183.4 481.65L173.2 481.2M202.6 466.65L192.4 466.2M135 468.95L131.8 471.45M131.8 471.45L138.8 474.4M182.8 473.7L179.6 476.2M187.4 444.85L177.2 444.4M112 478.5L108.8 481M146.6 443.05L143.4 445.55M193 474.15L182.8 473.7M200.6 485.05L190.4 484.6M143.4 445.55L133.2 445.1M174 446.9L163.8 446.45M124.2 460.55L131.2 463.5M165.6 470.3L162.4 472.8M137.6 458.5L144.6 461.45M149 474.85L156 477.8M121.6 471L118.4 473.5M118.4 473.5L108.2 473.05M139.4 482.35L129.2 481.9M200 477.1L196.8 479.6" stroke="#6e4628" stroke-width="1.5" fill="none" stroke-linecap="round"/>
<path d="M162.4 472.8L152.2 472.35M120.4 455.1L127.4 458.05M195 455.75L184.8 455.3M184.8 455.3L181.6 457.8M181.6 457.8L171.4 457.35M147.2 451L137 450.55M144.6 461.45L141.4 463.95M140.8 456L137.6 458.5M125.4 476.45L122.2 478.95M126.2 442.15L133.2 445.1M112.8 444.2L119.8 447.15M175.8 470.75L182.8 473.7M171.4 457.35L168.2 459.85M160.6 448.95L167.6 451.9M141.4 463.95L148.4 466.9M145.2 469.4L135 468.95M124.2 460.55L114 460.1M143.4 445.55L150.4 448.5M114.6 468.05L121.6 471M185.4 463.25L192.4 466.2M149 474.85L138.8 474.4M192.4 466.2L189.2 468.7M172 465.3L179 468.25M191.2 450.3L198.2 453.25M177.8 452.35L184.8 455.3M122.2 478.95L112 478.5M110.8 462.6L117.8 465.55M156 477.8L152.8 480.3M166.2 478.25L156 477.8M152.8 480.3L142.6 479.85M189.2 468.7L196.2 471.65M161.8 464.85L158.6 467.35M177.2 444.4L174 446.9M196.8 479.6L186.6 479.15M187.4 444.85L194.4 447.8M193 474.15L200 477.1M128 466L135 468.95M126.2 442.15L116 441.7M152.2 472.35L149 474.85M198.8 461.2L188.6 460.75M116 441.7L112.8 444.2M179 468.25L175.8 470.75M183.4 481.65L190.4 484.6M170 483.7L159.8 483.25M204.6 448.25L194.4 447.8M142.6 479.85L139.4 482.35M118.4 473.5L125.4 476.45M119.8 447.15L116.6 449.65M196.2 471.65L193 474.15M162.4 472.8L169.4 475.75M169.4 475.75L166.2 478.25M181 449.85L177.8 452.35M195 455.75L202 458.7M191.2 450.3L181 449.85M179.6 476.2L186.6 479.15M173.2 481.2L170 483.7M177.8 452.35L167.6 451.9M135.6 476.9L142.6 479.85M117.8 465.55L114.6 468.05M137 450.55L133.8 453.05M164.4 454.4L154.2 453.95M130 447.6L119.8 447.15M133.8 453.05L140.8 456M189.2 468.7L179 468.25M198.2 453.25L195 455.75M175.8 470.75L165.6 470.3M156.8 443.5L146.6 443.05M128 466L117.8 465.55M131.8 471.45L121.6 471M168.2 459.85L175.2 462.8M202 458.7L198.8 461.2M174 446.9L181 449.85M186.6 479.15L183.4 481.65M114 460.1L110.8 462.6M188.6 460.75L185.4 463.25M109 438.75L116 441.7M179.6 476.2L169.4 475.75M166.2 478.25L173.2 481.2M138.8 474.4L135.6 476.9M154.2 453.95L151 456.45M135.6 476.9L125.4 476.45M127.4 458.05L124.2 460.55M196.8 479.6L203.8 482.55M158.6 467.35L165.6 470.3M122.2 478.95L129.2 481.9M133.8 453.05L123.6 452.6M120.4 455.1L110.2 454.65M123.6 452.6L120.4 455.1M152.8 480.3L159.8 483.25M151 456.45L140.8 456M137.6 458.5L127.4 458.05M203.8 482.55L200.6 485.05M194.4 447.8L191.2 450.3M160.6 448.95L150.4 448.5M150.4 448.5L147.2 451M145.2 469.4L152.2 472.35M133.2 445.1L130 447.6M141.4 463.95L131.2 463.5M131.2 463.5L128 466M164.4 454.4L171.4 457.35M130 447.6L137 450.55M185.4 463.25L175.2 462.8M175.2 462.8L172 465.3M116.6 449.65L123.6 452.6M172 465.3L161.8 464.85M163.8 446.45L160.6 448.95M148.4 466.9L145.2 469.4M167.6 451.9L164.4 454.4M156.8 443.5L163.8 446.45M158.6 467.35L148.4 466.9M181.6 457.8L188.6 460.75M147.2 451L154.2 453.95M183.4 481.65L173.2 481.2M202.6 466.65L192.4 466.2M135 468.95L131.8 471.45M131.8 471.45L138.8 474.4M182.8 473.7L179.6 476.2M187.4 444.85L177.2 444.4M112 478.5L108.8 481M146.6 443.05L143.4 445.55M193 474.15L182.8 473.7M200.6 485.05L190.4 484.6M143.4 445.55L133.2 445.1M174 446.9L163.8 446.45M124.2 460.55L131.2 463.5M165.6 470.3L162.4 472.8M137.6 458.5L144.6 461.45M149 474.85L156 477.8M121.6 471L118.4 473.5M118.4 473.5L108.2 473.05M139.4 482.35L129.2 481.9M200 477.1L196.8 479.6" stroke="#9a7050" stroke-width="0.7" fill="none" stroke-linecap="round"/>
<g fill="url(#gC2)"><circle cx="109" cy="438.75" r="2.2"/><circle cx="116" cy="441.7" r="2.2"/><circle cx="126.2" cy="442.15" r="2.2"/><circle cx="146.6" cy="443.05" r="2.2"/><circle cx="156.8" cy="443.5" r="2.2"/><circle cx="112.8" cy="444.2" r="2.2"/><circle cx="177.2" cy="444.4" r="2.2"/><circle cx="187.4" cy="444.85" r="2.2"/><circle cx="133.2" cy="445.1" r="2.2"/><circle cx="143.4" cy="445.55" r="2.2"/><circle cx="163.8" cy="446.45" r="2.2"/><circle cx="174" cy="446.9" r="2.2"/><circle cx="119.8" cy="447.15" r="2.2"/><circle cx="130" cy="447.6" r="2.2"/><circle cx="194.4" cy="447.8" r="2.2"/><circle cx="204.6" cy="448.25" r="2.2"/><circle cx="150.4" cy="448.5" r="2.2"/><circle cx="160.6" cy="448.95" r="2.2"/><circle cx="116.6" cy="449.65" r="2.2"/><circle cx="181" cy="449.85" r="2.2"/><circle cx="191.2" cy="450.3" r="2.2"/><circle cx="137" cy="450.55" r="2.2"/><circle cx="147.2" cy="451" r="2.2"/><circle cx="167.6" cy="451.9" r="2.2"/><circle cx="177.8" cy="452.35" r="2.2"/><circle cx="123.6" cy="452.6" r="2.2"/><circle cx="133.8" cy="453.05" r="2.2"/><circle cx="198.2" cy="453.25" r="2.2"/><circle cx="154.2" cy="453.95" r="2.2"/><circle cx="164.4" cy="454.4" r="2.2"/><circle cx="110.2" cy="454.65" r="2.2"/><circle cx="120.4" cy="455.1" r="2.2"/><circle cx="184.8" cy="455.3" r="2.2"/><circle cx="195" cy="455.75" r="2.2"/><circle cx="140.8" cy="456" r="2.2"/><circle cx="151" cy="456.45" r="2.2"/><circle cx="171.4" cy="457.35" r="2.2"/><circle cx="181.6" cy="457.8" r="2.2"/><circle cx="127.4" cy="458.05" r="2.2"/><circle cx="137.6" cy="458.5" r="2.2"/><circle cx="202" cy="458.7" r="2.2"/><circle cx="168.2" cy="459.85" r="2.2"/><circle cx="114" cy="460.1" r="2.2"/><circle cx="124.2" cy="460.55" r="2.2"/><circle cx="188.6" cy="460.75" r="2.2"/><circle cx="198.8" cy="461.2" r="2.2"/><circle cx="144.6" cy="461.45" r="2.2"/><circle cx="110.8" cy="462.6" r="2.2"/><circle cx="175.2" cy="462.8" r="2.2"/><circle cx="185.4" cy="463.25" r="2.2"/><circle cx="131.2" cy="463.5" r="2.2"/><circle cx="141.4" cy="463.95" r="2.2"/><circle cx="161.8" cy="464.85" r="2.2"/><circle cx="172" cy="465.3" r="2.2"/><circle cx="117.8" cy="465.55" r="2.2"/><circle cx="128" cy="466" r="2.2"/><circle cx="192.4" cy="466.2" r="2.2"/><circle cx="202.6" cy="466.65" r="2.2"/><circle cx="148.4" cy="466.9" r="2.2"/><circle cx="158.6" cy="467.35" r="2.2"/><circle cx="114.6" cy="468.05" r="2.2"/><circle cx="179" cy="468.25" r="2.2"/><circle cx="189.2" cy="468.7" r="2.2"/><circle cx="135" cy="468.95" r="2.2"/><circle cx="145.2" cy="469.4" r="2.2"/><circle cx="165.6" cy="470.3" r="2.2"/><circle cx="175.8" cy="470.75" r="2.2"/><circle cx="121.6" cy="471" r="2.2"/><circle cx="131.8" cy="471.45" r="2.2"/><circle cx="196.2" cy="471.65" r="2.2"/><circle cx="152.2" cy="472.35" r="2.2"/><circle cx="162.4" cy="472.8" r="2.2"/><circle cx="108.2" cy="473.05" r="2.2"/><circle cx="118.4" cy="473.5" r="2.2"/><circle cx="182.8" cy="473.7" r="2.2"/><circle cx="193" cy="474.15" r="2.2"/><circle cx="138.8" cy="474.4" r="2.2"/><circle cx="149" cy="474.85" r="2.2"/><circle cx="169.4" cy="475.75" r="2.2"/><circle cx="179.6" cy="476.2" r="2.2"/><circle cx="125.4" cy="476.45" r="2.2"/><circle cx="135.6" cy="476.9" r="2.2"/><circle cx="200" cy="477.1" r="2.2"/><circle cx="156" cy="477.8" r="2.2"/><circle cx="166.2" cy="478.25" r="2.2"/><circle cx="112" cy="478.5" r="2.2"/><circle cx="122.2" cy="478.95" r="2.2"/><circle cx="186.6" cy="479.15" r="2.2"/><circle cx="196.8" cy="479.6" r="2.2"/><circle cx="142.6" cy="479.85" r="2.2"/><circle cx="152.8" cy="480.3" r="2.2"/><circle cx="108.8" cy="481" r="2.2"/><circle cx="173.2" cy="481.2" r="2.2"/><circle cx="183.4" cy="481.65" r="2.2"/><circle cx="129.2" cy="481.9" r="2.2"/><circle cx="139.4" cy="482.35" r="2.2"/><circle cx="203.8" cy="482.55" r="2.2"/><circle cx="159.8" cy="483.25" r="2.2"/><circle cx="170" cy="483.7" r="2.2"/><circle cx="190.4" cy="484.6" r="2.2"/><circle cx="200.6" cy="485.05" r="2.2"/></g>
<circle cx="146.5" cy="457.8" r="2.2" fill="url(#gN)"/>
<circle cx="169.6" cy="457.8" r="2.2" fill="url(#gN)"/>
<circle cx="142.3" cy="464.1" r="2.2" fill="url(#gN)"/>
<circle cx="164" cy="464.8" r="2.2" fill="url(#gN)"/>
<ellipse cx="145.6" cy="428.4" rx="8" ry="7.8" fill="url(#gCy)" fill-opacity="0.92" stroke="#9ab8a0" stroke-opacity="0.25" stroke-width="0.6" transform="rotate(0 145.6 428.4)"/>
<ellipse cx="141" cy="438.4" rx="7" ry="4.8" fill="url(#gCy)" fill-opacity="0.92" stroke="#9ab8a0" stroke-opacity="0.25" stroke-width="0.6" transform="rotate(0 141 438.4)"/>
<ellipse cx="139.4" cy="432.6" rx="8.2" ry="8.6" fill="url(#gYe)" fill-opacity="0.95" stroke="#9ab8a0" stroke-opacity="0.25" stroke-width="0.6" transform="rotate(-20 139.4 432.6)"/>
<ellipse cx="151" cy="452.8" rx="6.4" ry="4.6" fill="url(#gYe)" fill-opacity="0.95" stroke="#9ab8a0" stroke-opacity="0.25" stroke-width="0.6" transform="rotate(0 151 452.8)"/>
<ellipse cx="156" cy="440" rx="8.4" ry="11" fill="url(#gCy)" fill-opacity="0.9" stroke="#9ab8a0" stroke-opacity="0.25" stroke-width="0.6" transform="rotate(0 156 440)"/>
<line x1="154.8" y1="438.6" x2="154.6" y2="452" stroke="#909090" stroke-width="1"/>
<circle cx="154.8" cy="438.4" r="1.6" fill="#a0a0a0"/>
<ellipse cx="155.8" cy="460.5" rx="4" ry="3" fill="url(#gYe)" fill-opacity="0.95" stroke="#9ab8a0" stroke-opacity="0.25" stroke-width="0.6" transform="rotate(0 155.8 460.5)"/>
<ellipse cx="157.3" cy="464.5" rx="2.8" ry="2.6" fill="url(#gCy)" fill-opacity="0.95" stroke="#9ab8a0" stroke-opacity="0.25" stroke-width="0.6" transform="rotate(0 157.3 464.5)"/>
<ellipse cx="151" cy="462" rx="2.5" ry="2.2" fill="url(#gCy)" fill-opacity="0.95" stroke="#9ab8a0" stroke-opacity="0.25" stroke-width="0.6" transform="rotate(0 151 462)"/>
</g>
<ellipse cx="155.45" cy="456.5" rx="45.45" ry="42.8" fill="none" stroke="#c47812" stroke-width="2.7"/>
<text x="217.8" y="460" font-size="13" fill="#b8781a" text-anchor="start">without SiO<tspan font-size="9" dy="3">2</tspan></text>
<clipPath id="cdI"><ellipse cx="526.2" cy="463.6" rx="42.3" ry="39.7"/></clipPath>
<g clip-path="url(#cdI)">
<path d="M527.6 473.6L517.6 474.2M486.8 462.2L493.6 464.1M560 455.5L550 456.1M550 456.1L546.8 458.6M546.8 458.6L536.8 459.2M513.2 456L503.2 456.6M510.4 465.4L507.2 467.9M506.8 461L503.6 463.5M536 445.4L542.8 447.3M492.8 450.3L499.6 452.2M540.8 470.5L547.6 472.4M536.8 459.2L533.6 461.7M526.4 452.9L533.2 454.8M507.2 467.9L514 469.8M510.8 472.3L500.8 472.9M490.4 466.6L480.4 467.2M570.4 461.8L567.2 464.3M509.6 451.6L516.4 453.5M480.8 474.1L487.6 476M550.4 463L557.2 464.9M514.4 476.7L504.4 477.3M557.2 464.9L554 467.4M537.2 466.1L544 468M556.4 451.1L563.2 453M543.2 454.2L550 456.1M531.2 478L521.2 478.6M554 467.4L560.8 469.3M542.8 447.3L539.6 449.8M561.2 476.2L551.2 476.8M552.8 446.7L559.6 448.6M557.6 471.8L564.4 473.7M494 471L500.8 472.9M492.8 450.3L482.8 450.9M517.6 474.2L514.4 476.7M563.6 459.9L553.6 460.5M544 468L540.8 470.5M569.6 448L559.6 448.6M484.4 478.5L491.2 480.4M486.4 455.3L483.2 457.8M560.8 469.3L557.6 471.8M527.6 473.6L534.4 475.5M534.4 475.5L531.2 478M546.4 451.7L543.2 454.2M560 455.5L566.8 457.4M556.4 451.1L546.4 451.7M544.4 474.9L551.2 476.8M543.2 454.2L533.2 454.8M484 471.6L480.8 474.1M503.2 456.6L500 459.1M530 457.3L520 457.9M496.4 454.7L486.4 455.3M500 459.1L506.8 461M554 467.4L544 468M563.2 453L560 455.5M540.8 470.5L530.8 471.1M522.8 448.5L512.8 449.1M494 471L484 471.6M570.8 468.7L560.8 469.3M563.6 459.9L570.4 461.8M497.6 475.4L487.6 476M533.6 461.7L540.4 463.6M566.8 457.4L563.6 459.9M539.6 449.8L546.4 451.7M553.6 460.5L550.4 463M544.4 474.9L534.4 475.5M504.4 477.3L501.2 479.8M520 457.9L516.8 460.4M501.2 479.8L491.2 480.4M493.6 464.1L490.4 466.6M566 443.6L556 444.2M524 469.2L530.8 471.1M500 459.1L490 459.7M490 459.7L486.8 462.2M556 444.2L552.8 446.7M516.8 460.4L506.8 461M503.6 463.5L493.6 464.1M559.6 448.6L556.4 451.1M526.4 452.9L516.4 453.5M516.4 453.5L513.2 456M510.8 472.3L517.6 474.2M499.6 452.2L496.4 454.7M507.2 467.9L497.2 468.5M497.2 468.5L494 471M530 457.3L536.8 459.2M496.4 454.7L503.2 456.6M550.4 463L540.4 463.6M540.4 463.6L537.2 466.1M483.2 457.8L490 459.7M529.6 450.4L526.4 452.9M514 469.8L510.8 472.3M533.2 454.8L530 457.3M522.8 448.5L529.6 450.4M524 469.2L514 469.8M546.8 458.6L553.6 460.5M513.2 456L520 457.9M567.2 464.3L557.2 464.9M500.8 472.9L497.6 475.4M497.6 475.4L504.4 477.3M547.6 472.4L544.4 474.9M552.8 446.7L542.8 447.3M512.8 449.1L509.6 451.6M557.6 471.8L547.6 472.4M509.6 451.6L499.6 452.2M539.6 449.8L529.6 450.4M490.4 466.6L497.2 468.5M530.8 471.1L527.6 473.6M503.6 463.5L510.4 465.4M514.4 476.7L521.2 478.6M487.6 476L484.4 478.5M564.4 473.7L561.2 476.2" stroke="#6e4628" stroke-width="1.5" fill="none" stroke-linecap="round"/>
<path d="M527.6 473.6L517.6 474.2M486.8 462.2L493.6 464.1M560 455.5L550 456.1M550 456.1L546.8 458.6M546.8 458.6L536.8 459.2M513.2 456L503.2 456.6M510.4 465.4L507.2 467.9M506.8 461L503.6 463.5M536 445.4L542.8 447.3M492.8 450.3L499.6 452.2M540.8 470.5L547.6 472.4M536.8 459.2L533.6 461.7M526.4 452.9L533.2 454.8M507.2 467.9L514 469.8M510.8 472.3L500.8 472.9M490.4 466.6L480.4 467.2M570.4 461.8L567.2 464.3M509.6 451.6L516.4 453.5M480.8 474.1L487.6 476M550.4 463L557.2 464.9M514.4 476.7L504.4 477.3M557.2 464.9L554 467.4M537.2 466.1L544 468M556.4 451.1L563.2 453M543.2 454.2L550 456.1M531.2 478L521.2 478.6M554 467.4L560.8 469.3M542.8 447.3L539.6 449.8M561.2 476.2L551.2 476.8M552.8 446.7L559.6 448.6M557.6 471.8L564.4 473.7M494 471L500.8 472.9M492.8 450.3L482.8 450.9M517.6 474.2L514.4 476.7M563.6 459.9L553.6 460.5M544 468L540.8 470.5M569.6 448L559.6 448.6M484.4 478.5L491.2 480.4M486.4 455.3L483.2 457.8M560.8 469.3L557.6 471.8M527.6 473.6L534.4 475.5M534.4 475.5L531.2 478M546.4 451.7L543.2 454.2M560 455.5L566.8 457.4M556.4 451.1L546.4 451.7M544.4 474.9L551.2 476.8M543.2 454.2L533.2 454.8M484 471.6L480.8 474.1M503.2 456.6L500 459.1M530 457.3L520 457.9M496.4 454.7L486.4 455.3M500 459.1L506.8 461M554 467.4L544 468M563.2 453L560 455.5M540.8 470.5L530.8 471.1M522.8 448.5L512.8 449.1M494 471L484 471.6M570.8 468.7L560.8 469.3M563.6 459.9L570.4 461.8M497.6 475.4L487.6 476M533.6 461.7L540.4 463.6M566.8 457.4L563.6 459.9M539.6 449.8L546.4 451.7M553.6 460.5L550.4 463M544.4 474.9L534.4 475.5M504.4 477.3L501.2 479.8M520 457.9L516.8 460.4M501.2 479.8L491.2 480.4M493.6 464.1L490.4 466.6M566 443.6L556 444.2M524 469.2L530.8 471.1M500 459.1L490 459.7M490 459.7L486.8 462.2M556 444.2L552.8 446.7M516.8 460.4L506.8 461M503.6 463.5L493.6 464.1M559.6 448.6L556.4 451.1M526.4 452.9L516.4 453.5M516.4 453.5L513.2 456M510.8 472.3L517.6 474.2M499.6 452.2L496.4 454.7M507.2 467.9L497.2 468.5M497.2 468.5L494 471M530 457.3L536.8 459.2M496.4 454.7L503.2 456.6M550.4 463L540.4 463.6M540.4 463.6L537.2 466.1M483.2 457.8L490 459.7M529.6 450.4L526.4 452.9M514 469.8L510.8 472.3M533.2 454.8L530 457.3M522.8 448.5L529.6 450.4M524 469.2L514 469.8M546.8 458.6L553.6 460.5M513.2 456L520 457.9M567.2 464.3L557.2 464.9M500.8 472.9L497.6 475.4M497.6 475.4L504.4 477.3M547.6 472.4L544.4 474.9M552.8 446.7L542.8 447.3M512.8 449.1L509.6 451.6M557.6 471.8L547.6 472.4M509.6 451.6L499.6 452.2M539.6 449.8L529.6 450.4M490.4 466.6L497.2 468.5M530.8 471.1L527.6 473.6M503.6 463.5L510.4 465.4M514.4 476.7L521.2 478.6M487.6 476L484.4 478.5M564.4 473.7L561.2 476.2" stroke="#9a7050" stroke-width="0.7" fill="none" stroke-linecap="round"/>
<g fill="url(#gC2)"><circle cx="566" cy="443.6" r="2.15"/><circle cx="556" cy="444.2" r="2.15"/><circle cx="536" cy="445.4" r="2.15"/><circle cx="552.8" cy="446.7" r="2.15"/><circle cx="542.8" cy="447.3" r="2.15"/><circle cx="569.6" cy="448" r="2.15"/><circle cx="522.8" cy="448.5" r="2.15"/><circle cx="559.6" cy="448.6" r="2.15"/><circle cx="512.8" cy="449.1" r="2.15"/><circle cx="539.6" cy="449.8" r="2.15"/><circle cx="492.8" cy="450.3" r="2.15"/><circle cx="529.6" cy="450.4" r="2.15"/><circle cx="482.8" cy="450.9" r="2.15"/><circle cx="556.4" cy="451.1" r="2.15"/><circle cx="509.6" cy="451.6" r="2.15"/><circle cx="546.4" cy="451.7" r="2.15"/><circle cx="499.6" cy="452.2" r="2.15"/><circle cx="526.4" cy="452.9" r="2.15"/><circle cx="563.2" cy="453" r="2.15"/><circle cx="516.4" cy="453.5" r="2.15"/><circle cx="543.2" cy="454.2" r="2.15"/><circle cx="496.4" cy="454.7" r="2.15"/><circle cx="533.2" cy="454.8" r="2.15"/><circle cx="486.4" cy="455.3" r="2.15"/><circle cx="560" cy="455.5" r="2.15"/><circle cx="513.2" cy="456" r="2.15"/><circle cx="550" cy="456.1" r="2.15"/><circle cx="503.2" cy="456.6" r="2.15"/><circle cx="530" cy="457.3" r="2.15"/><circle cx="566.8" cy="457.4" r="2.15"/><circle cx="483.2" cy="457.8" r="2.15"/><circle cx="520" cy="457.9" r="2.15"/><circle cx="546.8" cy="458.6" r="2.15"/><circle cx="500" cy="459.1" r="2.15"/><circle cx="536.8" cy="459.2" r="2.15"/><circle cx="490" cy="459.7" r="2.15"/><circle cx="563.6" cy="459.9" r="2.15"/><circle cx="516.8" cy="460.4" r="2.15"/><circle cx="553.6" cy="460.5" r="2.15"/><circle cx="506.8" cy="461" r="2.15"/><circle cx="533.6" cy="461.7" r="2.15"/><circle cx="570.4" cy="461.8" r="2.15"/><circle cx="486.8" cy="462.2" r="2.15"/><circle cx="550.4" cy="463" r="2.15"/><circle cx="503.6" cy="463.5" r="2.15"/><circle cx="540.4" cy="463.6" r="2.15"/><circle cx="493.6" cy="464.1" r="2.15"/><circle cx="567.2" cy="464.3" r="2.15"/><circle cx="557.2" cy="464.9" r="2.15"/><circle cx="510.4" cy="465.4" r="2.15"/><circle cx="537.2" cy="466.1" r="2.15"/><circle cx="490.4" cy="466.6" r="2.15"/><circle cx="480.4" cy="467.2" r="2.15"/><circle cx="554" cy="467.4" r="2.15"/><circle cx="507.2" cy="467.9" r="2.15"/><circle cx="544" cy="468" r="2.15"/><circle cx="497.2" cy="468.5" r="2.15"/><circle cx="570.8" cy="468.7" r="2.15"/><circle cx="524" cy="469.2" r="2.15"/><circle cx="560.8" cy="469.3" r="2.15"/><circle cx="514" cy="469.8" r="2.15"/><circle cx="540.8" cy="470.5" r="2.15"/><circle cx="494" cy="471" r="2.15"/><circle cx="530.8" cy="471.1" r="2.15"/><circle cx="484" cy="471.6" r="2.15"/><circle cx="557.6" cy="471.8" r="2.15"/><circle cx="510.8" cy="472.3" r="2.15"/><circle cx="547.6" cy="472.4" r="2.15"/><circle cx="500.8" cy="472.9" r="2.15"/><circle cx="527.6" cy="473.6" r="2.15"/><circle cx="564.4" cy="473.7" r="2.15"/><circle cx="480.8" cy="474.1" r="2.15"/><circle cx="517.6" cy="474.2" r="2.15"/><circle cx="544.4" cy="474.9" r="2.15"/><circle cx="497.6" cy="475.4" r="2.15"/><circle cx="534.4" cy="475.5" r="2.15"/><circle cx="487.6" cy="476" r="2.15"/><circle cx="561.2" cy="476.2" r="2.15"/><circle cx="514.4" cy="476.7" r="2.15"/><circle cx="551.2" cy="476.8" r="2.15"/><circle cx="504.4" cy="477.3" r="2.15"/><circle cx="531.2" cy="478" r="2.15"/><circle cx="484.4" cy="478.5" r="2.15"/><circle cx="521.2" cy="478.6" r="2.15"/><circle cx="501.2" cy="479.8" r="2.15"/><circle cx="491.2" cy="480.4" r="2.15"/></g>
<circle cx="512.8" cy="462.4" r="2.2" fill="url(#gN)"/>
<circle cx="538.2" cy="465.5" r="2.2" fill="url(#gN)"/>
<circle cx="517.4" cy="467.8" r="2.2" fill="url(#gN)"/>
<circle cx="535.2" cy="461.6" r="2.2" fill="url(#gN)"/>
<line x1="526.7" y1="470" x2="528.6" y2="494.7" stroke="#d01818" stroke-width="1.3"/>
<line x1="529.2" y1="494.7" x2="522.1" y2="499.6" stroke="#d01818" stroke-width="1.3"/>
<line x1="529.2" y1="494.7" x2="541.3" y2="497.8" stroke="#d01818" stroke-width="1.3"/>
<line x1="529.2" y1="494.7" x2="524.5" y2="505" stroke="#d01818" stroke-width="1.3"/>
<circle cx="526.9" cy="481" r="1.6" fill="url(#gO)"/>
<circle cx="529.2" cy="494.7" r="3.1" fill="url(#gSi)"/>
<circle cx="522.1" cy="499.6" r="2" fill="url(#gO)"/>
<circle cx="541.3" cy="497.8" r="2" fill="url(#gO)"/>
<ellipse cx="524" cy="431" rx="7" ry="6.6" fill="url(#gYe)" fill-opacity="0.92" stroke="#9ab8a0" stroke-opacity="0.25" stroke-width="0.6" transform="rotate(0 524 431)"/>
<ellipse cx="517.2" cy="460" rx="6.2" ry="7.2" fill="url(#gYe)" fill-opacity="0.92" stroke="#9ab8a0" stroke-opacity="0.25" stroke-width="0.6" transform="rotate(0 517.2 460)"/>
<ellipse cx="515.3" cy="441.5" rx="8.4" ry="10.5" fill="url(#gCy)" fill-opacity="0.92" stroke="#9ab8a0" stroke-opacity="0.25" stroke-width="0.6" transform="rotate(15 515.3 441.5)"/>
<ellipse cx="528.5" cy="451" rx="7.8" ry="11" fill="url(#gCy)" fill-opacity="0.9" stroke="#9ab8a0" stroke-opacity="0.25" stroke-width="0.6" transform="rotate(0 528.5 451)"/>
<ellipse cx="527" cy="466" rx="6" ry="3" fill="url(#gYe)" fill-opacity="0.92" stroke="#9ab8a0" stroke-opacity="0.25" stroke-width="0.6" transform="rotate(0 527 466)"/>
<ellipse cx="527" cy="469.5" rx="3.8" ry="2.8" fill="url(#gCy)" fill-opacity="0.92" stroke="#9ab8a0" stroke-opacity="0.25" stroke-width="0.6" transform="rotate(0 527 469.5)"/>
<circle cx="517.4" cy="443.9" r="1.5" fill="#a0a0a0"/>
<line x1="526.7" y1="448.5" x2="526.7" y2="455.4" stroke="#909090" stroke-width="1"/>
<circle cx="526.7" cy="448.5" r="1.5" fill="#a0a0a0"/>
</g>
<ellipse cx="526.2" cy="463.6" rx="43.8" ry="41.2" fill="none" stroke="#1a24f0" stroke-width="2.7"/>
<text x="593.2" y="463.4" font-size="13" fill="#1f34ee" text-anchor="start">with SiO<tspan font-size="9" dy="3">2</tspan></text>
</svg>
</body></html>
